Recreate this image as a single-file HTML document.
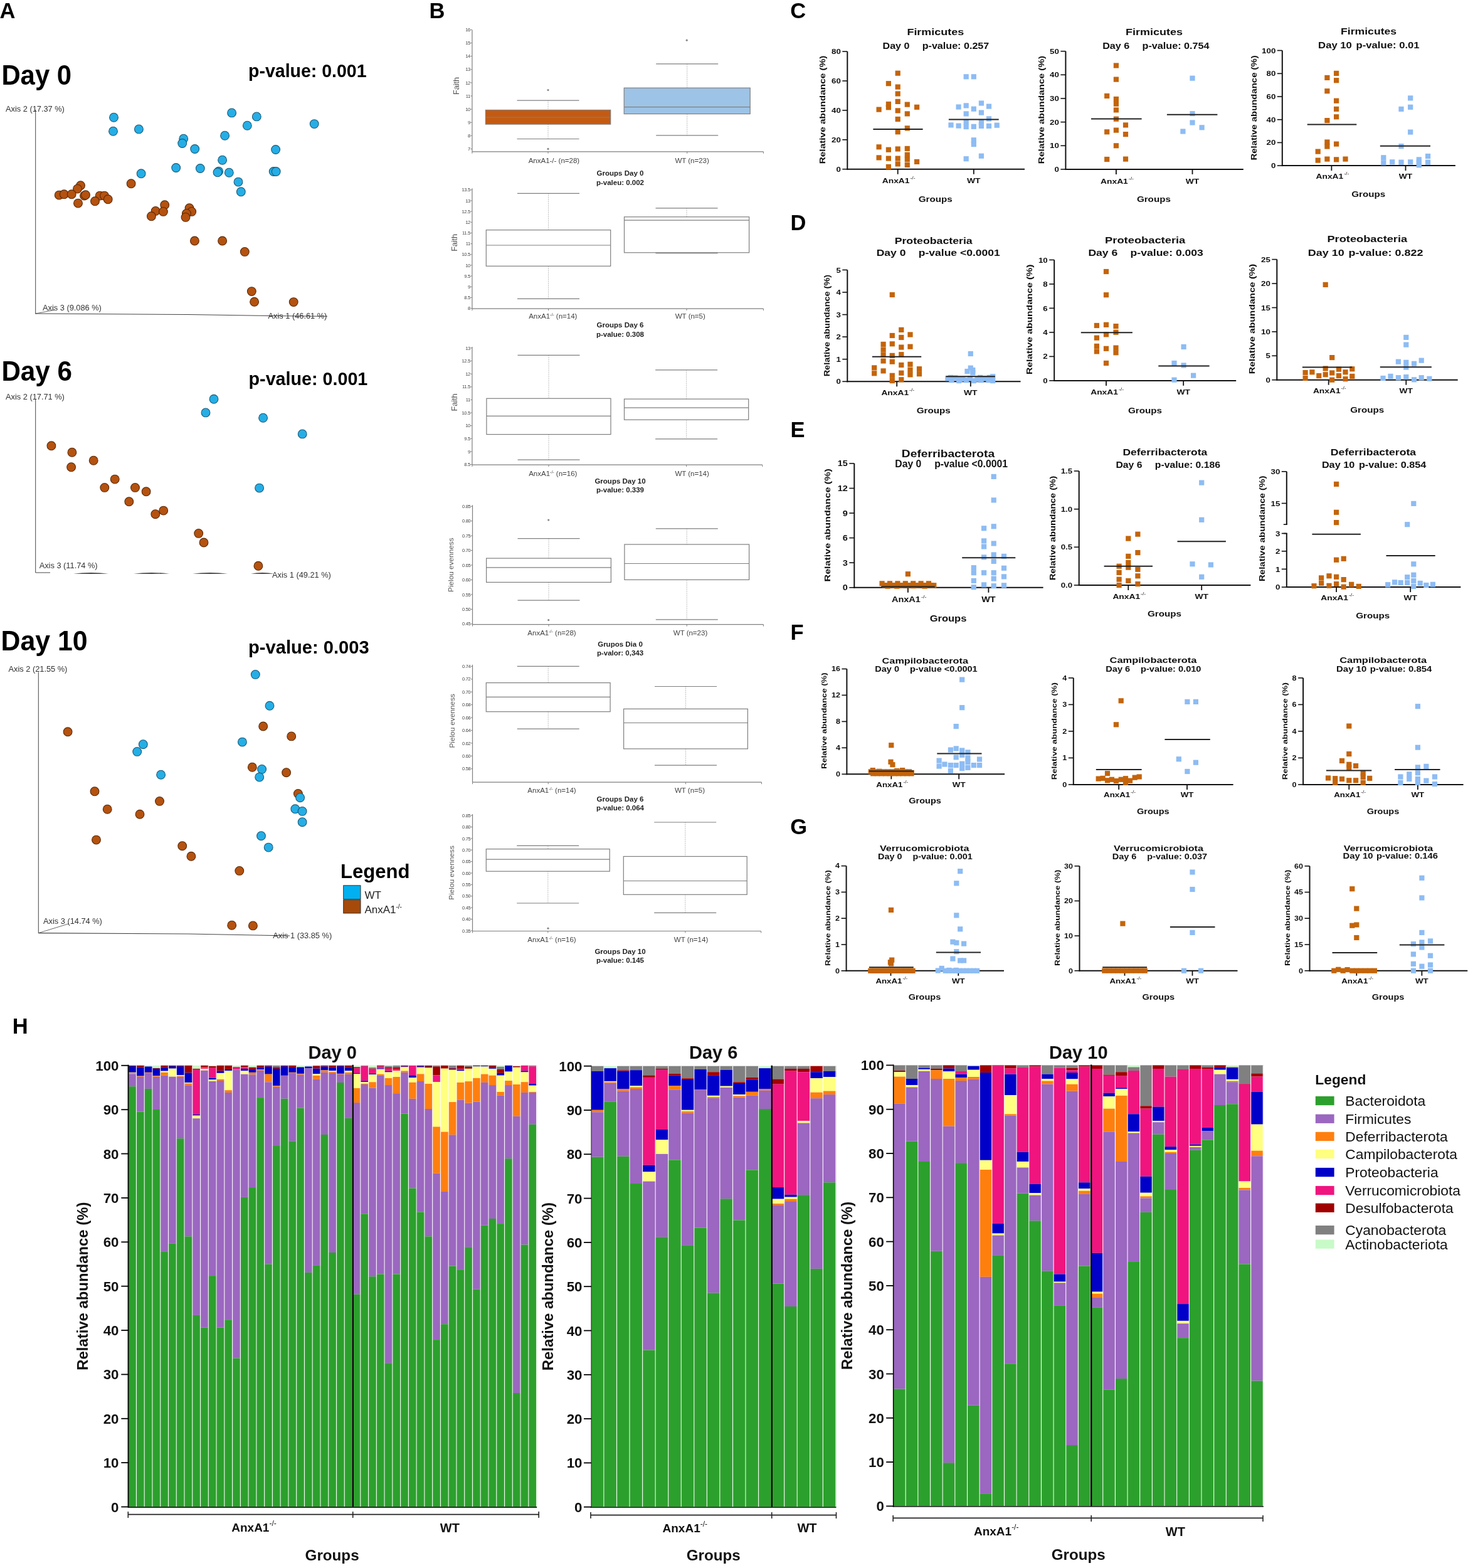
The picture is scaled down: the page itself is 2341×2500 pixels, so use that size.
<!DOCTYPE html>
<html><head><meta charset="utf-8"><title>Figure</title>
<style>html,body{margin:0;padding:0;background:#fff;} svg{display:block;}</style></head>
<body><svg width="2341" height="2500" viewBox="0 0 2341 2500" font-family="Liberation Sans, Arial, sans-serif">
<rect width="2341" height="2500" fill="#fff"/>
<text x="-0.5" y="28.7" font-size="34.5" text-anchor="start" font-weight="bold" fill="#000" >A</text>
<text x="684.6" y="28.7" font-size="34.5" text-anchor="start" font-weight="bold" fill="#000" >B</text>
<text x="1260.3" y="28.7" font-size="34.5" text-anchor="start" font-weight="bold" fill="#000" >C</text>
<text x="1260.6" y="366.7" font-size="34.5" text-anchor="start" font-weight="bold" fill="#000" >D</text>
<text x="1260.6" y="696.7" font-size="34.5" text-anchor="start" font-weight="bold" fill="#000" >E</text>
<text x="1260.6" y="1019.6" font-size="34.5" text-anchor="start" font-weight="bold" fill="#000" >F</text>
<text x="1260.3" y="1329.6" font-size="34.5" text-anchor="start" font-weight="bold" fill="#000" >G</text>
<text x="19.8" y="1647.7" font-size="34.5" text-anchor="start" font-weight="bold" fill="#000" >H</text>
<text x="2.4" y="134.5" font-size="44.0" text-anchor="start" font-weight="bold" fill="#000"  textLength="111.7" lengthAdjust="spacingAndGlyphs">Day 0</text>
<text x="396.0" y="122.6" font-size="28.8" text-anchor="start" font-weight="bold" fill="#000"  textLength="188.6" lengthAdjust="spacingAndGlyphs">p-value: 0.001</text>
<text x="9.0" y="178.0" font-size="12.8" text-anchor="start" fill="#333" >Axis 2 (17.37 %)</text>
<line x1="56.7" y1="175" x2="56.7" y2="500.5" stroke="#444" stroke-width="1"/>
<path d="M56.7 500 L300 501.5 L430 503.5 L522 504.3" stroke="#444" stroke-width="1.1" fill="none"/>
<line x1="56.7" y1="500" x2="88" y2="494" stroke="#444" stroke-width="0.8"/>
<text x="68.0" y="495.0" font-size="12.8" text-anchor="start" fill="#333" >Axis 3 (9.086 %)</text>
<text x="427.5" y="508.0" font-size="12.8" text-anchor="start" fill="#333" >Axis 1 (46.61 %)</text>
<circle cx="209.1" cy="292.8" r="6.9" fill="#b5520f" stroke="#5a2a08" stroke-width="1.1"/>
<circle cx="128.5" cy="295.8" r="6.9" fill="#b5520f" stroke="#5a2a08" stroke-width="1.1"/>
<circle cx="123.5" cy="301.1" r="6.9" fill="#b5520f" stroke="#5a2a08" stroke-width="1.1"/>
<circle cx="94.2" cy="311.1" r="6.9" fill="#b5520f" stroke="#5a2a08" stroke-width="1.1"/>
<circle cx="102.2" cy="309.8" r="6.9" fill="#b5520f" stroke="#5a2a08" stroke-width="1.1"/>
<circle cx="114.2" cy="309.8" r="6.9" fill="#b5520f" stroke="#5a2a08" stroke-width="1.1"/>
<circle cx="134.5" cy="312.1" r="6.9" fill="#b5520f" stroke="#5a2a08" stroke-width="1.1"/>
<circle cx="136.5" cy="310.8" r="6.9" fill="#b5520f" stroke="#5a2a08" stroke-width="1.1"/>
<circle cx="159.2" cy="312.1" r="6.9" fill="#b5520f" stroke="#5a2a08" stroke-width="1.1"/>
<circle cx="166.5" cy="312.1" r="6.9" fill="#b5520f" stroke="#5a2a08" stroke-width="1.1"/>
<circle cx="172.2" cy="317.8" r="6.9" fill="#b5520f" stroke="#5a2a08" stroke-width="1.1"/>
<circle cx="151.5" cy="320.8" r="6.9" fill="#b5520f" stroke="#5a2a08" stroke-width="1.1"/>
<circle cx="124.5" cy="324.1" r="6.9" fill="#b5520f" stroke="#5a2a08" stroke-width="1.1"/>
<circle cx="262.7" cy="326.8" r="6.9" fill="#b5520f" stroke="#5a2a08" stroke-width="1.1"/>
<circle cx="248.1" cy="336.4" r="6.9" fill="#b5520f" stroke="#5a2a08" stroke-width="1.1"/>
<circle cx="260.4" cy="337.4" r="6.9" fill="#b5520f" stroke="#5a2a08" stroke-width="1.1"/>
<circle cx="241.4" cy="344.8" r="6.9" fill="#b5520f" stroke="#5a2a08" stroke-width="1.1"/>
<circle cx="302.0" cy="331.8" r="6.9" fill="#b5520f" stroke="#5a2a08" stroke-width="1.1"/>
<circle cx="305.7" cy="337.4" r="6.9" fill="#b5520f" stroke="#5a2a08" stroke-width="1.1"/>
<circle cx="297.4" cy="340.4" r="6.9" fill="#b5520f" stroke="#5a2a08" stroke-width="1.1"/>
<circle cx="296.0" cy="346.4" r="6.9" fill="#b5520f" stroke="#5a2a08" stroke-width="1.1"/>
<circle cx="310.4" cy="384.0" r="6.9" fill="#b5520f" stroke="#5a2a08" stroke-width="1.1"/>
<circle cx="354.6" cy="384.0" r="6.9" fill="#b5520f" stroke="#5a2a08" stroke-width="1.1"/>
<circle cx="390.3" cy="401.4" r="6.9" fill="#b5520f" stroke="#5a2a08" stroke-width="1.1"/>
<circle cx="401.3" cy="464.6" r="6.9" fill="#b5520f" stroke="#5a2a08" stroke-width="1.1"/>
<circle cx="405.6" cy="481.3" r="6.9" fill="#b5520f" stroke="#5a2a08" stroke-width="1.1"/>
<circle cx="468.2" cy="481.6" r="6.9" fill="#b5520f" stroke="#5a2a08" stroke-width="1.1"/>
<circle cx="181.5" cy="187.2" r="6.9" fill="#25aee6" stroke="#1b5a78" stroke-width="1.1"/>
<circle cx="180.5" cy="209.2" r="6.9" fill="#25aee6" stroke="#1b5a78" stroke-width="1.1"/>
<circle cx="221.4" cy="205.9" r="6.9" fill="#25aee6" stroke="#1b5a78" stroke-width="1.1"/>
<circle cx="225.1" cy="276.8" r="6.9" fill="#25aee6" stroke="#1b5a78" stroke-width="1.1"/>
<circle cx="369.6" cy="179.9" r="6.9" fill="#25aee6" stroke="#1b5a78" stroke-width="1.1"/>
<circle cx="409.3" cy="185.9" r="6.9" fill="#25aee6" stroke="#1b5a78" stroke-width="1.1"/>
<circle cx="394.3" cy="200.2" r="6.9" fill="#25aee6" stroke="#1b5a78" stroke-width="1.1"/>
<circle cx="501.2" cy="197.6" r="6.9" fill="#25aee6" stroke="#1b5a78" stroke-width="1.1"/>
<circle cx="358.6" cy="216.2" r="6.9" fill="#25aee6" stroke="#1b5a78" stroke-width="1.1"/>
<circle cx="292.7" cy="221.2" r="6.9" fill="#25aee6" stroke="#1b5a78" stroke-width="1.1"/>
<circle cx="290.7" cy="228.5" r="6.9" fill="#25aee6" stroke="#1b5a78" stroke-width="1.1"/>
<circle cx="310.7" cy="237.5" r="6.9" fill="#25aee6" stroke="#1b5a78" stroke-width="1.1"/>
<circle cx="439.6" cy="238.5" r="6.9" fill="#25aee6" stroke="#1b5a78" stroke-width="1.1"/>
<circle cx="354.6" cy="255.2" r="6.9" fill="#25aee6" stroke="#1b5a78" stroke-width="1.1"/>
<circle cx="280.7" cy="267.5" r="6.9" fill="#25aee6" stroke="#1b5a78" stroke-width="1.1"/>
<circle cx="319.3" cy="268.5" r="6.9" fill="#25aee6" stroke="#1b5a78" stroke-width="1.1"/>
<circle cx="348.7" cy="273.2" r="6.9" fill="#25aee6" stroke="#1b5a78" stroke-width="1.1"/>
<circle cx="347.0" cy="274.8" r="6.9" fill="#25aee6" stroke="#1b5a78" stroke-width="1.1"/>
<circle cx="365.3" cy="275.2" r="6.9" fill="#25aee6" stroke="#1b5a78" stroke-width="1.1"/>
<circle cx="436.2" cy="273.5" r="6.9" fill="#25aee6" stroke="#1b5a78" stroke-width="1.1"/>
<circle cx="440.2" cy="273.5" r="6.9" fill="#25aee6" stroke="#1b5a78" stroke-width="1.1"/>
<circle cx="380.0" cy="290.1" r="6.9" fill="#25aee6" stroke="#1b5a78" stroke-width="1.1"/>
<circle cx="384.3" cy="305.8" r="6.9" fill="#25aee6" stroke="#1b5a78" stroke-width="1.1"/>
<text x="2.4" y="607.0" font-size="44.0" text-anchor="start" font-weight="bold" fill="#000"  textLength="112.6" lengthAdjust="spacingAndGlyphs">Day 6</text>
<text x="396.6" y="614.0" font-size="28.8" text-anchor="start" font-weight="bold" fill="#000"  textLength="189.7" lengthAdjust="spacingAndGlyphs">p-value: 0.001</text>
<text x="9.0" y="636.5" font-size="12.8" text-anchor="start" fill="#333" >Axis 2 (17.71 %)</text>
<line x1="56.7" y1="637" x2="56.7" y2="913" stroke="#444" stroke-width="1"/>
<line x1="56.7" y1="913" x2="80" y2="913" stroke="#444" stroke-width="1"/>
<path d="M117 914.5 Q145.0 911.5 173 914.5 Q145.0 915.5 117 914.5Z" fill="#444"/>
<path d="M213 914.5 Q241.5 911.5 270 914.5 Q241.5 915.5 213 914.5Z" fill="#444"/>
<path d="M307 914.5 Q335.0 911.5 363 914.5 Q335.0 915.5 307 914.5Z" fill="#444"/>
<path d="M400 914.5 Q418.5 911.5 437 914.5 Q418.5 915.5 400 914.5Z" fill="#444"/>
<text x="62.7" y="905.5" font-size="12.8" text-anchor="start" fill="#333" >Axis 3 (11.74 %)</text>
<text x="434.0" y="921.0" font-size="12.8" text-anchor="start" fill="#333" >Axis 1 (49.21 %)</text>
<circle cx="81.9" cy="710.8" r="6.9" fill="#b5520f" stroke="#5a2a08" stroke-width="1.1"/>
<circle cx="114.9" cy="721.2" r="6.9" fill="#b5520f" stroke="#5a2a08" stroke-width="1.1"/>
<circle cx="113.6" cy="744.8" r="6.9" fill="#b5520f" stroke="#5a2a08" stroke-width="1.1"/>
<circle cx="149.2" cy="734.2" r="6.9" fill="#b5520f" stroke="#5a2a08" stroke-width="1.1"/>
<circle cx="183.2" cy="764.1" r="6.9" fill="#b5520f" stroke="#5a2a08" stroke-width="1.1"/>
<circle cx="166.8" cy="777.4" r="6.9" fill="#b5520f" stroke="#5a2a08" stroke-width="1.1"/>
<circle cx="215.5" cy="777.4" r="6.9" fill="#b5520f" stroke="#5a2a08" stroke-width="1.1"/>
<circle cx="233.1" cy="783.8" r="6.9" fill="#b5520f" stroke="#5a2a08" stroke-width="1.1"/>
<circle cx="205.8" cy="799.8" r="6.9" fill="#b5520f" stroke="#5a2a08" stroke-width="1.1"/>
<circle cx="260.7" cy="814.1" r="6.9" fill="#b5520f" stroke="#5a2a08" stroke-width="1.1"/>
<circle cx="247.8" cy="819.7" r="6.9" fill="#b5520f" stroke="#5a2a08" stroke-width="1.1"/>
<circle cx="316.7" cy="850.4" r="6.9" fill="#b5520f" stroke="#5a2a08" stroke-width="1.1"/>
<circle cx="325.0" cy="865.0" r="6.9" fill="#b5520f" stroke="#5a2a08" stroke-width="1.1"/>
<circle cx="411.9" cy="902.3" r="6.9" fill="#b5520f" stroke="#5a2a08" stroke-width="1.1"/>
<circle cx="341.0" cy="636.3" r="6.9" fill="#25aee6" stroke="#1b5a78" stroke-width="1.1"/>
<circle cx="328.0" cy="657.9" r="6.9" fill="#25aee6" stroke="#1b5a78" stroke-width="1.1"/>
<circle cx="419.6" cy="666.2" r="6.9" fill="#25aee6" stroke="#1b5a78" stroke-width="1.1"/>
<circle cx="482.2" cy="691.9" r="6.9" fill="#25aee6" stroke="#1b5a78" stroke-width="1.1"/>
<circle cx="413.6" cy="778.1" r="6.9" fill="#25aee6" stroke="#1b5a78" stroke-width="1.1"/>
<text x="1.6" y="1037.0" font-size="44.0" text-anchor="start" font-weight="bold" fill="#000"  textLength="138.1" lengthAdjust="spacingAndGlyphs">Day 10</text>
<text x="396.1" y="1042.0" font-size="28.8" text-anchor="start" font-weight="bold" fill="#000"  textLength="192.5" lengthAdjust="spacingAndGlyphs">p-value: 0.003</text>
<text x="13.5" y="1071.0" font-size="12.8" text-anchor="start" fill="#333" >Axis 2 (21.55 %)</text>
<line x1="61.3" y1="1071.5" x2="61.3" y2="1487.6" stroke="#444" stroke-width="1"/>
<path d="M61.3 1487.6 L300 1489 L462 1492" stroke="#444" stroke-width="1.1" fill="none"/>
<line x1="61.3" y1="1487.6" x2="110" y2="1472.7" stroke="#444" stroke-width="0.8"/>
<text x="69.0" y="1473.0" font-size="12.8" text-anchor="start" fill="#333" >Axis 3 (14.74 %)</text>
<text x="435.3" y="1496.0" font-size="12.8" text-anchor="start" fill="#333" >Axis 1 (33.85 %)</text>
<circle cx="419.7" cy="1158.0" r="6.9" fill="#b5520f" stroke="#5a2a08" stroke-width="1.1"/>
<circle cx="464.7" cy="1173.9" r="6.9" fill="#b5520f" stroke="#5a2a08" stroke-width="1.1"/>
<circle cx="108.1" cy="1166.8" r="6.9" fill="#b5520f" stroke="#5a2a08" stroke-width="1.1"/>
<circle cx="402.3" cy="1223.2" r="6.9" fill="#b5520f" stroke="#5a2a08" stroke-width="1.1"/>
<circle cx="456.6" cy="1231.7" r="6.9" fill="#b5520f" stroke="#5a2a08" stroke-width="1.1"/>
<circle cx="475.4" cy="1265.4" r="6.9" fill="#b5520f" stroke="#5a2a08" stroke-width="1.1"/>
<circle cx="151.0" cy="1261.8" r="6.9" fill="#b5520f" stroke="#5a2a08" stroke-width="1.1"/>
<circle cx="254.5" cy="1277.4" r="6.9" fill="#b5520f" stroke="#5a2a08" stroke-width="1.1"/>
<circle cx="171.2" cy="1290.2" r="6.9" fill="#b5520f" stroke="#5a2a08" stroke-width="1.1"/>
<circle cx="223.0" cy="1298.3" r="6.9" fill="#b5520f" stroke="#5a2a08" stroke-width="1.1"/>
<circle cx="153.5" cy="1339.1" r="6.9" fill="#b5520f" stroke="#5a2a08" stroke-width="1.1"/>
<circle cx="290.7" cy="1348.7" r="6.9" fill="#b5520f" stroke="#5a2a08" stroke-width="1.1"/>
<circle cx="304.9" cy="1365.3" r="6.9" fill="#b5520f" stroke="#5a2a08" stroke-width="1.1"/>
<circle cx="381.8" cy="1388.4" r="6.9" fill="#b5520f" stroke="#5a2a08" stroke-width="1.1"/>
<circle cx="369.7" cy="1475.2" r="6.9" fill="#b5520f" stroke="#5a2a08" stroke-width="1.1"/>
<circle cx="403.4" cy="1475.9" r="6.9" fill="#b5520f" stroke="#5a2a08" stroke-width="1.1"/>
<circle cx="407.3" cy="1075.4" r="6.9" fill="#25aee6" stroke="#1b5a78" stroke-width="1.1"/>
<circle cx="430.0" cy="1125.3" r="6.9" fill="#25aee6" stroke="#1b5a78" stroke-width="1.1"/>
<circle cx="386.4" cy="1183.1" r="6.9" fill="#25aee6" stroke="#1b5a78" stroke-width="1.1"/>
<circle cx="228.3" cy="1186.7" r="6.9" fill="#25aee6" stroke="#1b5a78" stroke-width="1.1"/>
<circle cx="218.7" cy="1198.4" r="6.9" fill="#25aee6" stroke="#1b5a78" stroke-width="1.1"/>
<circle cx="256.6" cy="1235.2" r="6.9" fill="#25aee6" stroke="#1b5a78" stroke-width="1.1"/>
<circle cx="417.6" cy="1226.4" r="6.9" fill="#25aee6" stroke="#1b5a78" stroke-width="1.1"/>
<circle cx="413.7" cy="1239.1" r="6.9" fill="#25aee6" stroke="#1b5a78" stroke-width="1.1"/>
<circle cx="478.6" cy="1271.7" r="6.9" fill="#25aee6" stroke="#1b5a78" stroke-width="1.1"/>
<circle cx="470.8" cy="1289.8" r="6.9" fill="#25aee6" stroke="#1b5a78" stroke-width="1.1"/>
<circle cx="482.1" cy="1293.4" r="6.9" fill="#25aee6" stroke="#1b5a78" stroke-width="1.1"/>
<circle cx="482.1" cy="1310.7" r="6.9" fill="#25aee6" stroke="#1b5a78" stroke-width="1.1"/>
<circle cx="416.5" cy="1332.7" r="6.9" fill="#25aee6" stroke="#1b5a78" stroke-width="1.1"/>
<circle cx="428.2" cy="1351.1" r="6.9" fill="#25aee6" stroke="#1b5a78" stroke-width="1.1"/>
<text x="542.9" y="1400.0" font-size="31.0" text-anchor="start" font-weight="bold" fill="#000"  textLength="110.6" lengthAdjust="spacingAndGlyphs">Legend</text>
<rect x="547.7" y="1411.8" width="27.3" height="21.9" fill="#00b0f0" stroke="#333" stroke-width="1"/>
<rect x="547.7" y="1434.8" width="27.3" height="21.2" fill="#a64a0a" stroke="#333" stroke-width="1"/>
<text x="581.4" y="1432.5" font-size="17.0" text-anchor="start" fill="#222" >WT</text>
<text x="581.4" y="1455.5" font-size="17.0" text-anchor="start" fill="#222" >AnxA1<tspan font-size="10" dy="-7">-/-</tspan></text>
<line x1="752.9" y1="47.8" x2="752.9" y2="241.8" stroke="#7f7f7f" stroke-width="1.2"/>
<line x1="752.9" y1="241.8" x2="1217.4" y2="241.8" stroke="#7f7f7f" stroke-width="1.2"/>
<line x1="750.4" y1="47.4" x2="752.9" y2="47.4" stroke="#7f7f7f" stroke-width="1"/>
<text x="749.9" y="50.0" font-size="7.5" text-anchor="end" fill="#444" letter-spacing="-0.3">16</text>
<line x1="750.4" y1="68.5" x2="752.9" y2="68.5" stroke="#7f7f7f" stroke-width="1"/>
<text x="749.9" y="71.1" font-size="7.5" text-anchor="end" fill="#444" letter-spacing="-0.3">15</text>
<line x1="750.4" y1="89.6" x2="752.9" y2="89.6" stroke="#7f7f7f" stroke-width="1"/>
<text x="749.9" y="92.2" font-size="7.5" text-anchor="end" fill="#444" letter-spacing="-0.3">14</text>
<line x1="750.4" y1="110.8" x2="752.9" y2="110.8" stroke="#7f7f7f" stroke-width="1"/>
<text x="749.9" y="113.4" font-size="7.5" text-anchor="end" fill="#444" letter-spacing="-0.3">13</text>
<line x1="750.4" y1="131.9" x2="752.9" y2="131.9" stroke="#7f7f7f" stroke-width="1"/>
<text x="749.9" y="134.5" font-size="7.5" text-anchor="end" fill="#444" letter-spacing="-0.3">12</text>
<line x1="750.4" y1="153.0" x2="752.9" y2="153.0" stroke="#7f7f7f" stroke-width="1"/>
<text x="749.9" y="155.6" font-size="7.5" text-anchor="end" fill="#444" letter-spacing="-0.3">11</text>
<line x1="750.4" y1="174.1" x2="752.9" y2="174.1" stroke="#7f7f7f" stroke-width="1"/>
<text x="749.9" y="176.7" font-size="7.5" text-anchor="end" fill="#444" letter-spacing="-0.3">10</text>
<line x1="750.4" y1="195.2" x2="752.9" y2="195.2" stroke="#7f7f7f" stroke-width="1"/>
<text x="749.9" y="197.8" font-size="7.5" text-anchor="end" fill="#444" letter-spacing="-0.3">9</text>
<line x1="750.4" y1="216.3" x2="752.9" y2="216.3" stroke="#7f7f7f" stroke-width="1"/>
<text x="749.9" y="218.9" font-size="7.5" text-anchor="end" fill="#444" letter-spacing="-0.3">8</text>
<line x1="750.4" y1="237.4" x2="752.9" y2="237.4" stroke="#7f7f7f" stroke-width="1"/>
<text x="749.9" y="240.0" font-size="7.5" text-anchor="end" fill="#444" letter-spacing="-0.3">7</text>
<line x1="874.0" y1="241.8" x2="874.0" y2="244.8" stroke="#7f7f7f" stroke-width="1"/>
<line x1="1095.7" y1="241.8" x2="1095.7" y2="244.8" stroke="#7f7f7f" stroke-width="1"/>
<line x1="752.9" y1="241.8" x2="752.9" y2="244.8" stroke="#7f7f7f" stroke-width="1"/>
<line x1="1217.4" y1="241.8" x2="1217.4" y2="244.8" stroke="#7f7f7f" stroke-width="1"/>
<text x="727.6" y="137" font-size="12.5" fill="#555" text-anchor="middle" transform="rotate(-90 727.6 137)" dy="4.4">Faith</text>
<line x1="874.0" y1="160.1" x2="874.0" y2="175.4" stroke="#999" stroke-width="0.8" stroke-dasharray="1.5,1.5"/>
<line x1="874.0" y1="198.1" x2="874.0" y2="221.5" stroke="#999" stroke-width="0.8" stroke-dasharray="1.5,1.5"/>
<line x1="824.5" y1="160.1" x2="923.5" y2="160.1" stroke="#7f7f7f" stroke-width="1.2"/>
<line x1="824.5" y1="221.5" x2="923.5" y2="221.5" stroke="#7f7f7f" stroke-width="1.2"/>
<rect x="774.4" y="175.4" width="199.3" height="22.7" fill="#c55a11" stroke="#7f7f7f" stroke-width="1.2"/>
<line x1="774.4" y1="187.2" x2="973.7" y2="187.2" stroke="#7f7f7f" stroke-width="1.2"/>
<line x1="1095.7" y1="101.9" x2="1095.7" y2="140.2" stroke="#999" stroke-width="0.8" stroke-dasharray="1.5,1.5"/>
<line x1="1095.7" y1="181.6" x2="1095.7" y2="215.9" stroke="#999" stroke-width="0.8" stroke-dasharray="1.5,1.5"/>
<line x1="1046.2" y1="101.9" x2="1145.2" y2="101.9" stroke="#7f7f7f" stroke-width="1.2"/>
<line x1="1046.2" y1="215.9" x2="1145.2" y2="215.9" stroke="#7f7f7f" stroke-width="1.2"/>
<rect x="995.2" y="140.2" width="201.0" height="41.4" fill="#9dc3e6" stroke="#7f7f7f" stroke-width="1.2"/>
<line x1="995.2" y1="170.7" x2="1196.2" y2="170.7" stroke="#7f7f7f" stroke-width="1.2"/>
<circle cx="874" cy="143.6" r="1.6" fill="#888"/>
<circle cx="874" cy="237.4" r="1.6" fill="#888"/>
<circle cx="1095.2" cy="64.2" r="1.6" fill="#888"/>
<text x="883.4" y="260.0" font-size="11.5" text-anchor="middle" fill="#444" >AnxA1-/-  (n=28)</text>
<text x="1103.6" y="260.0" font-size="11.5" text-anchor="middle" fill="#444" >WT (n=23)</text>
<text x="989.0" y="280.3" font-size="11.5" text-anchor="middle" font-weight="bold" fill="#222" >Groups Day 0</text>
<text x="989.0" y="294.6" font-size="11.5" text-anchor="middle" font-weight="bold" fill="#222" >p-valeu: 0.002</text>
<line x1="752.9" y1="300.2" x2="752.9" y2="492.2" stroke="#7f7f7f" stroke-width="1.2"/>
<line x1="752.9" y1="492.2" x2="1217.4" y2="492.2" stroke="#7f7f7f" stroke-width="1.2"/>
<line x1="750.4" y1="302.8" x2="752.9" y2="302.8" stroke="#7f7f7f" stroke-width="1"/>
<text x="749.9" y="305.4" font-size="7.5" text-anchor="end" fill="#444" letter-spacing="-0.3">13.5</text>
<line x1="750.4" y1="320.0" x2="752.9" y2="320.0" stroke="#7f7f7f" stroke-width="1"/>
<text x="749.9" y="322.6" font-size="7.5" text-anchor="end" fill="#444" letter-spacing="-0.3">13</text>
<line x1="750.4" y1="337.1" x2="752.9" y2="337.1" stroke="#7f7f7f" stroke-width="1"/>
<text x="749.9" y="339.7" font-size="7.5" text-anchor="end" fill="#444" letter-spacing="-0.3">12.5</text>
<line x1="750.4" y1="354.3" x2="752.9" y2="354.3" stroke="#7f7f7f" stroke-width="1"/>
<text x="749.9" y="356.9" font-size="7.5" text-anchor="end" fill="#444" letter-spacing="-0.3">12</text>
<line x1="750.4" y1="371.5" x2="752.9" y2="371.5" stroke="#7f7f7f" stroke-width="1"/>
<text x="749.9" y="374.1" font-size="7.5" text-anchor="end" fill="#444" letter-spacing="-0.3">11.5</text>
<line x1="750.4" y1="388.6" x2="752.9" y2="388.6" stroke="#7f7f7f" stroke-width="1"/>
<text x="749.9" y="391.2" font-size="7.5" text-anchor="end" fill="#444" letter-spacing="-0.3">11</text>
<line x1="750.4" y1="405.8" x2="752.9" y2="405.8" stroke="#7f7f7f" stroke-width="1"/>
<text x="749.9" y="408.4" font-size="7.5" text-anchor="end" fill="#444" letter-spacing="-0.3">10.5</text>
<line x1="750.4" y1="422.9" x2="752.9" y2="422.9" stroke="#7f7f7f" stroke-width="1"/>
<text x="749.9" y="425.5" font-size="7.5" text-anchor="end" fill="#444" letter-spacing="-0.3">10</text>
<line x1="750.4" y1="440.1" x2="752.9" y2="440.1" stroke="#7f7f7f" stroke-width="1"/>
<text x="749.9" y="442.7" font-size="7.5" text-anchor="end" fill="#444" letter-spacing="-0.3">9.5</text>
<line x1="750.4" y1="457.3" x2="752.9" y2="457.3" stroke="#7f7f7f" stroke-width="1"/>
<text x="749.9" y="459.9" font-size="7.5" text-anchor="end" fill="#444" letter-spacing="-0.3">9</text>
<line x1="750.4" y1="474.4" x2="752.9" y2="474.4" stroke="#7f7f7f" stroke-width="1"/>
<text x="749.9" y="477.0" font-size="7.5" text-anchor="end" fill="#444" letter-spacing="-0.3">8.5</text>
<line x1="750.4" y1="491.6" x2="752.9" y2="491.6" stroke="#7f7f7f" stroke-width="1"/>
<text x="749.9" y="494.2" font-size="7.5" text-anchor="end" fill="#444" letter-spacing="-0.3">8</text>
<line x1="874.5" y1="492.2" x2="874.5" y2="495.2" stroke="#7f7f7f" stroke-width="1"/>
<line x1="1095.0" y1="492.2" x2="1095.0" y2="495.2" stroke="#7f7f7f" stroke-width="1"/>
<line x1="752.9" y1="492.2" x2="752.9" y2="495.2" stroke="#7f7f7f" stroke-width="1"/>
<line x1="1217.4" y1="492.2" x2="1217.4" y2="495.2" stroke="#7f7f7f" stroke-width="1"/>
<text x="724.5" y="386.9" font-size="12.5" fill="#555" text-anchor="middle" transform="rotate(-90 724.5 386.9)" dy="4.4">Faith</text>
<line x1="874.5" y1="308.4" x2="874.5" y2="366.7" stroke="#999" stroke-width="0.8" stroke-dasharray="1.5,1.5"/>
<line x1="874.5" y1="424.3" x2="874.5" y2="476.3" stroke="#999" stroke-width="0.8" stroke-dasharray="1.5,1.5"/>
<line x1="825.0" y1="308.4" x2="924.0" y2="308.4" stroke="#7f7f7f" stroke-width="1.2"/>
<line x1="825.0" y1="476.3" x2="924.0" y2="476.3" stroke="#7f7f7f" stroke-width="1.2"/>
<rect x="775.3" y="366.7" width="198.4" height="57.6" fill="#fff" stroke="#7f7f7f" stroke-width="1.2"/>
<line x1="775.3" y1="391.0" x2="973.7" y2="391.0" stroke="#7f7f7f" stroke-width="1.2"/>
<line x1="1095.0" y1="331.8" x2="1095.0" y2="345.8" stroke="#999" stroke-width="0.8" stroke-dasharray="1.5,1.5"/>
<line x1="1095.0" y1="402.8" x2="1095.0" y2="403.7" stroke="#999" stroke-width="0.8" stroke-dasharray="1.5,1.5"/>
<line x1="1045.5" y1="331.8" x2="1144.5" y2="331.8" stroke="#7f7f7f" stroke-width="1.2"/>
<line x1="1045.5" y1="403.7" x2="1144.5" y2="403.7" stroke="#7f7f7f" stroke-width="1.2"/>
<rect x="995.5" y="345.8" width="199.1" height="57.0" fill="#fff" stroke="#7f7f7f" stroke-width="1.2"/>
<line x1="995.5" y1="351.1" x2="1194.6" y2="351.1" stroke="#7f7f7f" stroke-width="1.2"/>
<text x="881.8" y="508.0" font-size="11.5" text-anchor="middle" fill="#444" >AnxA1<tspan font-size="7" dy="-4">-/-</tspan><tspan dy="4"> </tspan>(n=14)</text>
<text x="1100.8" y="508.0" font-size="11.5" text-anchor="middle" fill="#444" >WT (n=5)</text>
<text x="989.0" y="522.3" font-size="11.5" text-anchor="middle" font-weight="bold" fill="#222" >Groups Day 6</text>
<text x="989.0" y="536.7" font-size="11.5" text-anchor="middle" font-weight="bold" fill="#222" >p-value: 0.308</text>
<line x1="752.9" y1="552.9" x2="752.9" y2="741.2" stroke="#7f7f7f" stroke-width="1.2"/>
<line x1="752.9" y1="741.2" x2="1215.8" y2="741.2" stroke="#7f7f7f" stroke-width="1.2"/>
<line x1="750.4" y1="554.9" x2="752.9" y2="554.9" stroke="#7f7f7f" stroke-width="1"/>
<text x="749.9" y="557.5" font-size="7.5" text-anchor="end" fill="#444" letter-spacing="-0.3">13</text>
<line x1="750.4" y1="575.5" x2="752.9" y2="575.5" stroke="#7f7f7f" stroke-width="1"/>
<text x="749.9" y="578.1" font-size="7.5" text-anchor="end" fill="#444" letter-spacing="-0.3">12.5</text>
<line x1="750.4" y1="596.2" x2="752.9" y2="596.2" stroke="#7f7f7f" stroke-width="1"/>
<text x="749.9" y="598.8" font-size="7.5" text-anchor="end" fill="#444" letter-spacing="-0.3">12</text>
<line x1="750.4" y1="616.8" x2="752.9" y2="616.8" stroke="#7f7f7f" stroke-width="1"/>
<text x="749.9" y="619.4" font-size="7.5" text-anchor="end" fill="#444" letter-spacing="-0.3">11.5</text>
<line x1="750.4" y1="637.4" x2="752.9" y2="637.4" stroke="#7f7f7f" stroke-width="1"/>
<text x="749.9" y="640.0" font-size="7.5" text-anchor="end" fill="#444" letter-spacing="-0.3">11</text>
<line x1="750.4" y1="658.1" x2="752.9" y2="658.1" stroke="#7f7f7f" stroke-width="1"/>
<text x="749.9" y="660.7" font-size="7.5" text-anchor="end" fill="#444" letter-spacing="-0.3">10.5</text>
<line x1="750.4" y1="678.7" x2="752.9" y2="678.7" stroke="#7f7f7f" stroke-width="1"/>
<text x="749.9" y="681.3" font-size="7.5" text-anchor="end" fill="#444" letter-spacing="-0.3">10</text>
<line x1="750.4" y1="699.3" x2="752.9" y2="699.3" stroke="#7f7f7f" stroke-width="1"/>
<text x="749.9" y="701.9" font-size="7.5" text-anchor="end" fill="#444" letter-spacing="-0.3">9.5</text>
<line x1="750.4" y1="720.0" x2="752.9" y2="720.0" stroke="#7f7f7f" stroke-width="1"/>
<text x="749.9" y="722.6" font-size="7.5" text-anchor="end" fill="#444" letter-spacing="-0.3">9</text>
<line x1="750.4" y1="740.6" x2="752.9" y2="740.6" stroke="#7f7f7f" stroke-width="1"/>
<text x="749.9" y="743.2" font-size="7.5" text-anchor="end" fill="#444" letter-spacing="-0.3">8.5</text>
<line x1="875.0" y1="741.2" x2="875.0" y2="744.2" stroke="#7f7f7f" stroke-width="1"/>
<line x1="1094.6" y1="741.2" x2="1094.6" y2="744.2" stroke="#7f7f7f" stroke-width="1"/>
<line x1="752.9" y1="741.2" x2="752.9" y2="744.2" stroke="#7f7f7f" stroke-width="1"/>
<line x1="1215.8" y1="741.2" x2="1215.8" y2="744.2" stroke="#7f7f7f" stroke-width="1"/>
<text x="724.5" y="641.5" font-size="12.5" fill="#555" text-anchor="middle" transform="rotate(-90 724.5 641.5)" dy="4.4">Faith</text>
<line x1="875.0" y1="566.4" x2="875.0" y2="635.3" stroke="#999" stroke-width="0.8" stroke-dasharray="1.5,1.5"/>
<line x1="875.0" y1="692.6" x2="875.0" y2="733.1" stroke="#999" stroke-width="0.8" stroke-dasharray="1.5,1.5"/>
<line x1="825.5" y1="566.4" x2="924.5" y2="566.4" stroke="#7f7f7f" stroke-width="1.2"/>
<line x1="825.5" y1="733.1" x2="924.5" y2="733.1" stroke="#7f7f7f" stroke-width="1.2"/>
<rect x="775.9" y="635.3" width="198.1" height="57.3" fill="#fff" stroke="#7f7f7f" stroke-width="1.2"/>
<line x1="775.9" y1="663.3" x2="974.0" y2="663.3" stroke="#7f7f7f" stroke-width="1.2"/>
<line x1="1094.6" y1="589.8" x2="1094.6" y2="636.2" stroke="#999" stroke-width="0.8" stroke-dasharray="1.5,1.5"/>
<line x1="1094.6" y1="669.3" x2="1094.6" y2="699.8" stroke="#999" stroke-width="0.8" stroke-dasharray="1.5,1.5"/>
<line x1="1045.1" y1="589.8" x2="1144.1" y2="589.8" stroke="#7f7f7f" stroke-width="1.2"/>
<line x1="1045.1" y1="699.8" x2="1144.1" y2="699.8" stroke="#7f7f7f" stroke-width="1.2"/>
<rect x="995.5" y="636.2" width="198.2" height="33.1" fill="#fff" stroke="#7f7f7f" stroke-width="1.2"/>
<line x1="995.5" y1="650.2" x2="1193.7" y2="650.2" stroke="#7f7f7f" stroke-width="1.2"/>
<text x="881.8" y="758.9" font-size="11.5" text-anchor="middle" fill="#444" >AnxA1<tspan font-size="7" dy="-4">-/-</tspan><tspan dy="4"> </tspan>(n=16)</text>
<text x="1103.6" y="758.9" font-size="11.5" text-anchor="middle" fill="#444" >WT (n=14)</text>
<text x="989.0" y="771.1" font-size="11.5" text-anchor="middle" font-weight="bold" fill="#222" >Groups Day 10</text>
<text x="989.0" y="785.1" font-size="11.5" text-anchor="middle" font-weight="bold" fill="#222" >p-value: 0.339</text>
<line x1="753.5" y1="805.3" x2="753.5" y2="995.7" stroke="#7f7f7f" stroke-width="1.2"/>
<line x1="753.5" y1="995.7" x2="1217.4" y2="995.7" stroke="#7f7f7f" stroke-width="1.2"/>
<line x1="751.0" y1="807.3" x2="753.5" y2="807.3" stroke="#7f7f7f" stroke-width="1"/>
<text x="750.5" y="809.9" font-size="7.5" text-anchor="end" fill="#444" letter-spacing="-0.3">0.85</text>
<line x1="751.0" y1="830.7" x2="753.5" y2="830.7" stroke="#7f7f7f" stroke-width="1"/>
<text x="750.5" y="833.3" font-size="7.5" text-anchor="end" fill="#444" letter-spacing="-0.3">0.80</text>
<line x1="751.0" y1="854.2" x2="753.5" y2="854.2" stroke="#7f7f7f" stroke-width="1"/>
<text x="750.5" y="856.8" font-size="7.5" text-anchor="end" fill="#444" letter-spacing="-0.3">0.75</text>
<line x1="751.0" y1="877.6" x2="753.5" y2="877.6" stroke="#7f7f7f" stroke-width="1"/>
<text x="750.5" y="880.2" font-size="7.5" text-anchor="end" fill="#444" letter-spacing="-0.3">0.70</text>
<line x1="751.0" y1="901.0" x2="753.5" y2="901.0" stroke="#7f7f7f" stroke-width="1"/>
<text x="750.5" y="903.6" font-size="7.5" text-anchor="end" fill="#444" letter-spacing="-0.3">0.65</text>
<line x1="751.0" y1="924.5" x2="753.5" y2="924.5" stroke="#7f7f7f" stroke-width="1"/>
<text x="750.5" y="927.1" font-size="7.5" text-anchor="end" fill="#444" letter-spacing="-0.3">0.60</text>
<line x1="751.0" y1="947.9" x2="753.5" y2="947.9" stroke="#7f7f7f" stroke-width="1"/>
<text x="750.5" y="950.5" font-size="7.5" text-anchor="end" fill="#444" letter-spacing="-0.3">0.55</text>
<line x1="751.0" y1="971.4" x2="753.5" y2="971.4" stroke="#7f7f7f" stroke-width="1"/>
<text x="750.5" y="974.0" font-size="7.5" text-anchor="end" fill="#444" letter-spacing="-0.3">0.50</text>
<line x1="751.0" y1="994.8" x2="753.5" y2="994.8" stroke="#7f7f7f" stroke-width="1"/>
<text x="750.5" y="997.4" font-size="7.5" text-anchor="end" fill="#444" letter-spacing="-0.3">0.45</text>
<line x1="875.0" y1="995.7" x2="875.0" y2="998.7" stroke="#7f7f7f" stroke-width="1"/>
<line x1="1095.2" y1="995.7" x2="1095.2" y2="998.7" stroke="#7f7f7f" stroke-width="1"/>
<line x1="753.5" y1="995.7" x2="753.5" y2="998.7" stroke="#7f7f7f" stroke-width="1"/>
<line x1="1217.4" y1="995.7" x2="1217.4" y2="998.7" stroke="#7f7f7f" stroke-width="1"/>
<text x="718.9" y="900.7" font-size="11.8" fill="#555" text-anchor="middle" transform="rotate(-90 718.9 900.7)" dy="4.4">Pielou evenness</text>
<line x1="875.0" y1="858.7" x2="875.0" y2="890.1" stroke="#999" stroke-width="0.8" stroke-dasharray="1.5,1.5"/>
<line x1="875.0" y1="928.4" x2="875.0" y2="957.1" stroke="#999" stroke-width="0.8" stroke-dasharray="1.5,1.5"/>
<line x1="825.5" y1="858.7" x2="924.5" y2="858.7" stroke="#7f7f7f" stroke-width="1.2"/>
<line x1="825.5" y1="957.1" x2="924.5" y2="957.1" stroke="#7f7f7f" stroke-width="1.2"/>
<rect x="775.6" y="890.1" width="198.8" height="38.3" fill="#fff" stroke="#7f7f7f" stroke-width="1.2"/>
<line x1="775.6" y1="904.8" x2="974.4" y2="904.8" stroke="#7f7f7f" stroke-width="1.2"/>
<line x1="1095.2" y1="842.8" x2="1095.2" y2="868.0" stroke="#999" stroke-width="0.8" stroke-dasharray="1.5,1.5"/>
<line x1="1095.2" y1="924.4" x2="1095.2" y2="987.9" stroke="#999" stroke-width="0.8" stroke-dasharray="1.5,1.5"/>
<line x1="1045.8" y1="842.8" x2="1144.8" y2="842.8" stroke="#7f7f7f" stroke-width="1.2"/>
<line x1="1045.8" y1="987.9" x2="1144.8" y2="987.9" stroke="#7f7f7f" stroke-width="1.2"/>
<rect x="995.9" y="868.0" width="198.7" height="56.4" fill="#fff" stroke="#7f7f7f" stroke-width="1.2"/>
<line x1="995.9" y1="898.5" x2="1194.6" y2="898.5" stroke="#7f7f7f" stroke-width="1.2"/>
<circle cx="874.7" cy="829.1" r="1.6" fill="#888"/>
<circle cx="874.7" cy="988.6" r="1.6" fill="#888"/>
<text x="880.0" y="1013.1" font-size="11.5" text-anchor="middle" fill="#444" >AnxA1<tspan font-size="7" dy="-4">-/-</tspan><tspan dy="4"> </tspan>(n=28)</text>
<text x="1101.0" y="1013.1" font-size="11.5" text-anchor="middle" fill="#444" >WT (n=23)</text>
<text x="989.0" y="1031.2" font-size="11.5" text-anchor="middle" font-weight="bold" fill="#222" >Grupos Dia 0</text>
<text x="989.0" y="1044.6" font-size="11.5" text-anchor="middle" font-weight="bold" fill="#222" >p-valor: 0,343</text>
<line x1="753.5" y1="1059.8" x2="753.5" y2="1247.2" stroke="#7f7f7f" stroke-width="1.2"/>
<line x1="753.5" y1="1247.2" x2="1214.5" y2="1247.2" stroke="#7f7f7f" stroke-width="1.2"/>
<line x1="751.0" y1="1062.4" x2="753.5" y2="1062.4" stroke="#7f7f7f" stroke-width="1"/>
<text x="750.5" y="1065.0" font-size="7.5" text-anchor="end" fill="#444" letter-spacing="-0.3">0.74</text>
<line x1="751.0" y1="1082.8" x2="753.5" y2="1082.8" stroke="#7f7f7f" stroke-width="1"/>
<text x="750.5" y="1085.4" font-size="7.5" text-anchor="end" fill="#444" letter-spacing="-0.3">0.72</text>
<line x1="751.0" y1="1103.2" x2="753.5" y2="1103.2" stroke="#7f7f7f" stroke-width="1"/>
<text x="750.5" y="1105.8" font-size="7.5" text-anchor="end" fill="#444" letter-spacing="-0.3">0.70</text>
<line x1="751.0" y1="1123.6" x2="753.5" y2="1123.6" stroke="#7f7f7f" stroke-width="1"/>
<text x="750.5" y="1126.2" font-size="7.5" text-anchor="end" fill="#444" letter-spacing="-0.3">0.68</text>
<line x1="751.0" y1="1144.1" x2="753.5" y2="1144.1" stroke="#7f7f7f" stroke-width="1"/>
<text x="750.5" y="1146.7" font-size="7.5" text-anchor="end" fill="#444" letter-spacing="-0.3">0.66</text>
<line x1="751.0" y1="1164.5" x2="753.5" y2="1164.5" stroke="#7f7f7f" stroke-width="1"/>
<text x="750.5" y="1167.1" font-size="7.5" text-anchor="end" fill="#444" letter-spacing="-0.3">0.64</text>
<line x1="751.0" y1="1184.9" x2="753.5" y2="1184.9" stroke="#7f7f7f" stroke-width="1"/>
<text x="750.5" y="1187.5" font-size="7.5" text-anchor="end" fill="#444" letter-spacing="-0.3">0.62</text>
<line x1="751.0" y1="1205.3" x2="753.5" y2="1205.3" stroke="#7f7f7f" stroke-width="1"/>
<text x="750.5" y="1207.9" font-size="7.5" text-anchor="end" fill="#444" letter-spacing="-0.3">0.60</text>
<line x1="751.0" y1="1225.7" x2="753.5" y2="1225.7" stroke="#7f7f7f" stroke-width="1"/>
<text x="750.5" y="1228.3" font-size="7.5" text-anchor="end" fill="#444" letter-spacing="-0.3">0.58</text>
<line x1="874.2" y1="1247.2" x2="874.2" y2="1250.2" stroke="#7f7f7f" stroke-width="1"/>
<line x1="1093.5" y1="1247.2" x2="1093.5" y2="1250.2" stroke="#7f7f7f" stroke-width="1"/>
<line x1="753.5" y1="1247.2" x2="753.5" y2="1250.2" stroke="#7f7f7f" stroke-width="1"/>
<line x1="1214.5" y1="1247.2" x2="1214.5" y2="1250.2" stroke="#7f7f7f" stroke-width="1"/>
<text x="720.5" y="1149.3" font-size="11.8" fill="#555" text-anchor="middle" transform="rotate(-90 720.5 1149.3)" dy="4.4">Pielou evenness</text>
<line x1="874.2" y1="1062.4" x2="874.2" y2="1088.6" stroke="#999" stroke-width="0.8" stroke-dasharray="1.5,1.5"/>
<line x1="874.2" y1="1134.7" x2="874.2" y2="1162.1" stroke="#999" stroke-width="0.8" stroke-dasharray="1.5,1.5"/>
<line x1="824.7" y1="1062.4" x2="923.7" y2="1062.4" stroke="#7f7f7f" stroke-width="1.2"/>
<line x1="824.7" y1="1162.1" x2="923.7" y2="1162.1" stroke="#7f7f7f" stroke-width="1.2"/>
<rect x="775.3" y="1088.6" width="197.8" height="46.1" fill="#fff" stroke="#7f7f7f" stroke-width="1.2"/>
<line x1="775.3" y1="1111.3" x2="973.1" y2="1111.3" stroke="#7f7f7f" stroke-width="1.2"/>
<line x1="1093.5" y1="1094.5" x2="1093.5" y2="1130.3" stroke="#999" stroke-width="0.8" stroke-dasharray="1.5,1.5"/>
<line x1="1093.5" y1="1193.9" x2="1093.5" y2="1220.1" stroke="#999" stroke-width="0.8" stroke-dasharray="1.5,1.5"/>
<line x1="1044.0" y1="1094.5" x2="1143.0" y2="1094.5" stroke="#7f7f7f" stroke-width="1.2"/>
<line x1="1044.0" y1="1220.1" x2="1143.0" y2="1220.1" stroke="#7f7f7f" stroke-width="1.2"/>
<rect x="994.6" y="1130.3" width="197.8" height="63.6" fill="#fff" stroke="#7f7f7f" stroke-width="1.2"/>
<line x1="994.6" y1="1152.5" x2="1192.4" y2="1152.5" stroke="#7f7f7f" stroke-width="1.2"/>
<text x="880.0" y="1264.2" font-size="11.5" text-anchor="middle" fill="#444" >AnxA1<tspan font-size="7" dy="-4">-/-</tspan><tspan dy="4"> </tspan>(n=14)</text>
<text x="1100.0" y="1264.2" font-size="11.5" text-anchor="middle" fill="#444" >WT (n=5)</text>
<text x="989.0" y="1277.9" font-size="11.5" text-anchor="middle" font-weight="bold" fill="#222" >Groups Day 6</text>
<text x="989.0" y="1292.0" font-size="11.5" text-anchor="middle" font-weight="bold" fill="#222" >p-value: 0.064</text>
<line x1="753.5" y1="1298.1" x2="753.5" y2="1484.5" stroke="#7f7f7f" stroke-width="1.2"/>
<line x1="753.5" y1="1484.5" x2="1213.6" y2="1484.5" stroke="#7f7f7f" stroke-width="1.2"/>
<line x1="751.0" y1="1300.1" x2="753.5" y2="1300.1" stroke="#7f7f7f" stroke-width="1"/>
<text x="750.5" y="1302.7" font-size="7.5" text-anchor="end" fill="#444" letter-spacing="-0.3">0.85</text>
<line x1="751.0" y1="1318.5" x2="753.5" y2="1318.5" stroke="#7f7f7f" stroke-width="1"/>
<text x="750.5" y="1321.1" font-size="7.5" text-anchor="end" fill="#444" letter-spacing="-0.3">0.80</text>
<line x1="751.0" y1="1336.9" x2="753.5" y2="1336.9" stroke="#7f7f7f" stroke-width="1"/>
<text x="750.5" y="1339.5" font-size="7.5" text-anchor="end" fill="#444" letter-spacing="-0.3">0.75</text>
<line x1="751.0" y1="1355.2" x2="753.5" y2="1355.2" stroke="#7f7f7f" stroke-width="1"/>
<text x="750.5" y="1357.8" font-size="7.5" text-anchor="end" fill="#444" letter-spacing="-0.3">0.70</text>
<line x1="751.0" y1="1373.6" x2="753.5" y2="1373.6" stroke="#7f7f7f" stroke-width="1"/>
<text x="750.5" y="1376.2" font-size="7.5" text-anchor="end" fill="#444" letter-spacing="-0.3">0.65</text>
<line x1="751.0" y1="1392.0" x2="753.5" y2="1392.0" stroke="#7f7f7f" stroke-width="1"/>
<text x="750.5" y="1394.6" font-size="7.5" text-anchor="end" fill="#444" letter-spacing="-0.3">0.60</text>
<line x1="751.0" y1="1410.4" x2="753.5" y2="1410.4" stroke="#7f7f7f" stroke-width="1"/>
<text x="750.5" y="1413.0" font-size="7.5" text-anchor="end" fill="#444" letter-spacing="-0.3">0.55</text>
<line x1="751.0" y1="1428.8" x2="753.5" y2="1428.8" stroke="#7f7f7f" stroke-width="1"/>
<text x="750.5" y="1431.4" font-size="7.5" text-anchor="end" fill="#444" letter-spacing="-0.3">0.50</text>
<line x1="751.0" y1="1447.1" x2="753.5" y2="1447.1" stroke="#7f7f7f" stroke-width="1"/>
<text x="750.5" y="1449.7" font-size="7.5" text-anchor="end" fill="#444" letter-spacing="-0.3">0.45</text>
<line x1="751.0" y1="1465.5" x2="753.5" y2="1465.5" stroke="#7f7f7f" stroke-width="1"/>
<text x="750.5" y="1468.1" font-size="7.5" text-anchor="end" fill="#444" letter-spacing="-0.3">0.40</text>
<line x1="751.0" y1="1483.9" x2="753.5" y2="1483.9" stroke="#7f7f7f" stroke-width="1"/>
<text x="750.5" y="1486.5" font-size="7.5" text-anchor="end" fill="#444" letter-spacing="-0.3">0.35</text>
<line x1="873.8" y1="1484.5" x2="873.8" y2="1487.5" stroke="#7f7f7f" stroke-width="1"/>
<line x1="1092.8" y1="1484.5" x2="1092.8" y2="1487.5" stroke="#7f7f7f" stroke-width="1"/>
<line x1="753.5" y1="1484.5" x2="753.5" y2="1487.5" stroke="#7f7f7f" stroke-width="1"/>
<line x1="1213.6" y1="1484.5" x2="1213.6" y2="1487.5" stroke="#7f7f7f" stroke-width="1"/>
<text x="720" y="1391.4" font-size="11.8" fill="#555" text-anchor="middle" transform="rotate(-90 720 1391.4)" dy="4.4">Pielou evenness</text>
<line x1="873.8" y1="1348.4" x2="873.8" y2="1353.7" stroke="#999" stroke-width="0.8" stroke-dasharray="1.5,1.5"/>
<line x1="873.8" y1="1389.2" x2="873.8" y2="1440.0" stroke="#999" stroke-width="0.8" stroke-dasharray="1.5,1.5"/>
<line x1="824.2" y1="1348.4" x2="923.2" y2="1348.4" stroke="#7f7f7f" stroke-width="1.2"/>
<line x1="824.2" y1="1440.0" x2="923.2" y2="1440.0" stroke="#7f7f7f" stroke-width="1.2"/>
<rect x="775.3" y="1353.7" width="196.9" height="35.5" fill="#fff" stroke="#7f7f7f" stroke-width="1.2"/>
<line x1="775.3" y1="1370.2" x2="972.2" y2="1370.2" stroke="#7f7f7f" stroke-width="1.2"/>
<line x1="1092.8" y1="1311.0" x2="1092.8" y2="1365.5" stroke="#999" stroke-width="0.8" stroke-dasharray="1.5,1.5"/>
<line x1="1092.8" y1="1426.3" x2="1092.8" y2="1455.3" stroke="#999" stroke-width="0.8" stroke-dasharray="1.5,1.5"/>
<line x1="1043.2" y1="1311.0" x2="1142.2" y2="1311.0" stroke="#7f7f7f" stroke-width="1.2"/>
<line x1="1043.2" y1="1455.3" x2="1142.2" y2="1455.3" stroke="#7f7f7f" stroke-width="1.2"/>
<rect x="994.3" y="1365.5" width="196.9" height="60.8" fill="#fff" stroke="#7f7f7f" stroke-width="1.2"/>
<line x1="994.3" y1="1404.5" x2="1191.2" y2="1404.5" stroke="#7f7f7f" stroke-width="1.2"/>
<circle cx="874" cy="1480.2" r="1.6" fill="#888"/>
<text x="880.0" y="1501.9" font-size="11.5" text-anchor="middle" fill="#444" >AnxA1<tspan font-size="7" dy="-4">-/-</tspan><tspan dy="4"> </tspan>(n=16)</text>
<text x="1102.0" y="1501.9" font-size="11.5" text-anchor="middle" fill="#444" >WT (n=14)</text>
<text x="989.0" y="1520.9" font-size="11.5" text-anchor="middle" font-weight="bold" fill="#222" >Groups Day 10</text>
<text x="989.0" y="1534.6" font-size="11.5" text-anchor="middle" font-weight="bold" fill="#222" >p-value: 0.145</text>
<text x="1491.8" y="56.2" font-size="15.2" text-anchor="middle" font-weight="bold" fill="#111"  textLength="90.7" lengthAdjust="spacingAndGlyphs">Firmicutes</text>
<text x="1407.5" y="77.9" font-size="15.5" text-anchor="start" font-weight="bold" fill="#111"  textLength="43.0" lengthAdjust="spacingAndGlyphs">Day 0</text>
<text x="1577.3" y="77.9" font-size="15.5" text-anchor="end" font-weight="bold" fill="#111"  textLength="106.6" lengthAdjust="spacingAndGlyphs">p-value: 0.257</text>
<line x1="1351.3" y1="82.1" x2="1351.3" y2="270.7" stroke="#111" stroke-width="2.0"/>
<line x1="1350.3" y1="269.7" x2="1634.0" y2="269.7" stroke="#111" stroke-width="2.0"/>
<line x1="1343.3" y1="82.1" x2="1351.3" y2="82.1" stroke="#111" stroke-width="1.6"/>
<text x="1340.8" y="86.2" font-size="11.3" text-anchor="end" font-weight="bold" fill="#111"  textLength="14.8" lengthAdjust="spacingAndGlyphs">80</text>
<line x1="1343.3" y1="129.0" x2="1351.3" y2="129.0" stroke="#111" stroke-width="1.6"/>
<text x="1340.8" y="133.1" font-size="11.3" text-anchor="end" font-weight="bold" fill="#111"  textLength="14.8" lengthAdjust="spacingAndGlyphs">60</text>
<line x1="1343.3" y1="175.9" x2="1351.3" y2="175.9" stroke="#111" stroke-width="1.6"/>
<text x="1340.8" y="180.0" font-size="11.3" text-anchor="end" font-weight="bold" fill="#111"  textLength="14.8" lengthAdjust="spacingAndGlyphs">40</text>
<line x1="1343.3" y1="222.8" x2="1351.3" y2="222.8" stroke="#111" stroke-width="1.6"/>
<text x="1340.8" y="226.9" font-size="11.3" text-anchor="end" font-weight="bold" fill="#111"  textLength="14.8" lengthAdjust="spacingAndGlyphs">20</text>
<line x1="1343.3" y1="269.7" x2="1351.3" y2="269.7" stroke="#111" stroke-width="1.6"/>
<text x="1340.8" y="273.8" font-size="11.3" text-anchor="end" font-weight="bold" fill="#111"  textLength="7.4" lengthAdjust="spacingAndGlyphs">0</text>
<line x1="1431.7" y1="269.7" x2="1431.7" y2="277.7" stroke="#111" stroke-width="1.8"/>
<line x1="1552.8" y1="269.7" x2="1552.8" y2="277.7" stroke="#111" stroke-width="1.8"/>
<text x="1406.8" y="292.2" font-size="11.7" text-anchor="start" font-weight="bold" fill="#111"  textLength="43.7" lengthAdjust="spacingAndGlyphs">AnxA1</text>
<text x="1451.5" y="286.2" font-size="7.3" text-anchor="start" fill="#111"  textLength="8.1" lengthAdjust="spacingAndGlyphs">-/-</text>
<text x="1552.8" y="292.2" font-size="11.7" text-anchor="middle" font-weight="bold" fill="#111"  textLength="21.5" lengthAdjust="spacingAndGlyphs">WT</text>
<text x="1491.7" y="322.2" font-size="12.9" text-anchor="middle" font-weight="bold" fill="#111"  textLength="54.0" lengthAdjust="spacingAndGlyphs">Groups</text>
<text x="1311.2" y="174.9" font-size="13.0" font-weight="bold" fill="#111" text-anchor="middle" dy="4.7" textLength="172.8" lengthAdjust="spacingAndGlyphs" transform="rotate(-90 1311.2 174.9)">Relative abundance (%)</text>
<rect x="1427.6" y="112.6" width="8.2" height="8.2" fill="#c4640a"/>
<rect x="1412.8" y="129.1" width="8.2" height="8.2" fill="#c4640a"/>
<rect x="1427.6" y="134.5" width="8.2" height="8.2" fill="#c4640a"/>
<rect x="1427.6" y="145.4" width="8.2" height="8.2" fill="#c4640a"/>
<rect x="1427.6" y="157.8" width="8.2" height="8.2" fill="#c4640a"/>
<rect x="1412.8" y="161.9" width="8.2" height="8.2" fill="#c4640a"/>
<rect x="1412.8" y="167.2" width="8.2" height="8.2" fill="#c4640a"/>
<rect x="1397.5" y="170.5" width="8.2" height="8.2" fill="#c4640a"/>
<rect x="1442.7" y="162.5" width="8.2" height="8.2" fill="#c4640a"/>
<rect x="1458.0" y="166.7" width="8.2" height="8.2" fill="#c4640a"/>
<rect x="1427.6" y="172.3" width="8.2" height="8.2" fill="#c4640a"/>
<rect x="1442.7" y="177.3" width="8.2" height="8.2" fill="#c4640a"/>
<rect x="1427.6" y="185.9" width="8.2" height="8.2" fill="#c4640a"/>
<rect x="1442.7" y="200.3" width="8.2" height="8.2" fill="#c4640a"/>
<rect x="1427.6" y="206.2" width="8.2" height="8.2" fill="#c4640a"/>
<rect x="1397.5" y="230.2" width="8.2" height="8.2" fill="#c4640a"/>
<rect x="1412.8" y="234.6" width="8.2" height="8.2" fill="#c4640a"/>
<rect x="1427.6" y="233.4" width="8.2" height="8.2" fill="#c4640a"/>
<rect x="1442.7" y="232.8" width="8.2" height="8.2" fill="#c4640a"/>
<rect x="1397.5" y="247.3" width="8.2" height="8.2" fill="#c4640a"/>
<rect x="1412.8" y="248.5" width="8.2" height="8.2" fill="#c4640a"/>
<rect x="1427.6" y="248.5" width="8.2" height="8.2" fill="#c4640a"/>
<rect x="1442.7" y="242.6" width="8.2" height="8.2" fill="#c4640a"/>
<rect x="1442.7" y="250.0" width="8.2" height="8.2" fill="#c4640a"/>
<rect x="1427.6" y="257.3" width="8.2" height="8.2" fill="#c4640a"/>
<rect x="1442.7" y="258.8" width="8.2" height="8.2" fill="#c4640a"/>
<rect x="1412.8" y="261.8" width="8.2" height="8.2" fill="#c4640a"/>
<rect x="1458.0" y="253.8" width="8.2" height="8.2" fill="#c4640a"/>
<rect x="1536.6" y="118.2" width="8.2" height="8.2" fill="#8dbcf4"/>
<rect x="1548.7" y="118.2" width="8.2" height="8.2" fill="#8dbcf4"/>
<rect x="1524.5" y="166.4" width="8.2" height="8.2" fill="#8dbcf4"/>
<rect x="1536.6" y="164.3" width="8.2" height="8.2" fill="#8dbcf4"/>
<rect x="1560.8" y="160.4" width="8.2" height="8.2" fill="#8dbcf4"/>
<rect x="1572.9" y="165.5" width="8.2" height="8.2" fill="#8dbcf4"/>
<rect x="1548.7" y="169.6" width="8.2" height="8.2" fill="#8dbcf4"/>
<rect x="1536.6" y="177.3" width="8.2" height="8.2" fill="#8dbcf4"/>
<rect x="1560.8" y="175.5" width="8.2" height="8.2" fill="#8dbcf4"/>
<rect x="1572.9" y="185.3" width="8.2" height="8.2" fill="#8dbcf4"/>
<rect x="1512.4" y="195.3" width="8.2" height="8.2" fill="#8dbcf4"/>
<rect x="1524.5" y="196.5" width="8.2" height="8.2" fill="#8dbcf4"/>
<rect x="1536.6" y="190.9" width="8.2" height="8.2" fill="#8dbcf4"/>
<rect x="1536.6" y="198.0" width="8.2" height="8.2" fill="#8dbcf4"/>
<rect x="1548.7" y="197.7" width="8.2" height="8.2" fill="#8dbcf4"/>
<rect x="1560.8" y="190.9" width="8.2" height="8.2" fill="#8dbcf4"/>
<rect x="1560.8" y="196.8" width="8.2" height="8.2" fill="#8dbcf4"/>
<rect x="1572.9" y="196.8" width="8.2" height="8.2" fill="#8dbcf4"/>
<rect x="1585.6" y="195.6" width="8.2" height="8.2" fill="#8dbcf4"/>
<rect x="1548.7" y="219.2" width="8.2" height="8.2" fill="#8dbcf4"/>
<rect x="1548.7" y="226.0" width="8.2" height="8.2" fill="#8dbcf4"/>
<rect x="1536.6" y="249.1" width="8.2" height="8.2" fill="#8dbcf4"/>
<rect x="1560.8" y="244.6" width="8.2" height="8.2" fill="#8dbcf4"/>
<line x1="1392.4" y1="205.9" x2="1471.6" y2="205.9" stroke="#222" stroke-width="2"/>
<line x1="1512.9" y1="190.5" x2="1592.7" y2="190.5" stroke="#222" stroke-width="2"/>
<text x="1840.5" y="55.5" font-size="15.2" text-anchor="middle" font-weight="bold" fill="#111"  textLength="91.0" lengthAdjust="spacingAndGlyphs">Firmicutes</text>
<text x="1758.2" y="77.7" font-size="15.5" text-anchor="start" font-weight="bold" fill="#111"  textLength="43.1" lengthAdjust="spacingAndGlyphs">Day 6</text>
<text x="1928.6" y="77.7" font-size="15.5" text-anchor="end" font-weight="bold" fill="#111"  textLength="107.0" lengthAdjust="spacingAndGlyphs">p-value: 0.754</text>
<line x1="1699.4" y1="81.7" x2="1699.4" y2="270.9" stroke="#111" stroke-width="2.0"/>
<line x1="1698.4" y1="269.9" x2="1982.8" y2="269.9" stroke="#111" stroke-width="2.0"/>
<line x1="1691.4" y1="81.7" x2="1699.4" y2="81.7" stroke="#111" stroke-width="1.6"/>
<text x="1688.9" y="85.8" font-size="11.3" text-anchor="end" font-weight="bold" fill="#111"  textLength="14.8" lengthAdjust="spacingAndGlyphs">50</text>
<line x1="1691.4" y1="119.3" x2="1699.4" y2="119.3" stroke="#111" stroke-width="1.6"/>
<text x="1688.9" y="123.4" font-size="11.3" text-anchor="end" font-weight="bold" fill="#111"  textLength="14.8" lengthAdjust="spacingAndGlyphs">40</text>
<line x1="1691.4" y1="157.0" x2="1699.4" y2="157.0" stroke="#111" stroke-width="1.6"/>
<text x="1688.9" y="161.0" font-size="11.3" text-anchor="end" font-weight="bold" fill="#111"  textLength="14.8" lengthAdjust="spacingAndGlyphs">30</text>
<line x1="1691.4" y1="194.6" x2="1699.4" y2="194.6" stroke="#111" stroke-width="1.6"/>
<text x="1688.9" y="198.7" font-size="11.3" text-anchor="end" font-weight="bold" fill="#111"  textLength="14.8" lengthAdjust="spacingAndGlyphs">20</text>
<line x1="1691.4" y1="232.3" x2="1699.4" y2="232.3" stroke="#111" stroke-width="1.6"/>
<text x="1688.9" y="236.3" font-size="11.3" text-anchor="end" font-weight="bold" fill="#111"  textLength="14.8" lengthAdjust="spacingAndGlyphs">10</text>
<line x1="1691.4" y1="269.9" x2="1699.4" y2="269.9" stroke="#111" stroke-width="1.6"/>
<text x="1688.9" y="274.0" font-size="11.3" text-anchor="end" font-weight="bold" fill="#111"  textLength="7.4" lengthAdjust="spacingAndGlyphs">0</text>
<line x1="1779.9" y1="269.9" x2="1779.9" y2="277.9" stroke="#111" stroke-width="1.8"/>
<line x1="1901.5" y1="269.9" x2="1901.5" y2="277.9" stroke="#111" stroke-width="1.8"/>
<text x="1755.1" y="292.7" font-size="11.7" text-anchor="start" font-weight="bold" fill="#111"  textLength="43.7" lengthAdjust="spacingAndGlyphs">AnxA1</text>
<text x="1799.8" y="286.7" font-size="7.3" text-anchor="start" fill="#111"  textLength="8.1" lengthAdjust="spacingAndGlyphs">-/-</text>
<text x="1901.5" y="292.7" font-size="11.7" text-anchor="middle" font-weight="bold" fill="#111"  textLength="21.5" lengthAdjust="spacingAndGlyphs">WT</text>
<text x="1839.9" y="322.2" font-size="12.9" text-anchor="middle" font-weight="bold" fill="#111"  textLength="54.0" lengthAdjust="spacingAndGlyphs">Groups</text>
<text x="1659.9" y="175.0" font-size="13.0" font-weight="bold" fill="#111" text-anchor="middle" dy="4.7" textLength="172.3" lengthAdjust="spacingAndGlyphs" transform="rotate(-90 1659.9 175.0)">Relative abundance (%)</text>
<rect x="1775.8" y="100.4" width="8.2" height="8.2" fill="#c4640a"/>
<rect x="1775.8" y="122.5" width="8.2" height="8.2" fill="#c4640a"/>
<rect x="1761.1" y="148.9" width="8.2" height="8.2" fill="#c4640a"/>
<rect x="1775.8" y="153.9" width="8.2" height="8.2" fill="#c4640a"/>
<rect x="1775.8" y="161.6" width="8.2" height="8.2" fill="#c4640a"/>
<rect x="1775.8" y="171.3" width="8.2" height="8.2" fill="#c4640a"/>
<rect x="1775.8" y="185.6" width="8.2" height="8.2" fill="#c4640a"/>
<rect x="1790.9" y="195.3" width="8.2" height="8.2" fill="#c4640a"/>
<rect x="1761.1" y="206.2" width="8.2" height="8.2" fill="#c4640a"/>
<rect x="1775.8" y="203.5" width="8.2" height="8.2" fill="#c4640a"/>
<rect x="1790.9" y="210.0" width="8.2" height="8.2" fill="#c4640a"/>
<rect x="1775.8" y="228.2" width="8.2" height="8.2" fill="#c4640a"/>
<rect x="1761.1" y="249.9" width="8.2" height="8.2" fill="#c4640a"/>
<rect x="1790.9" y="249.5" width="8.2" height="8.2" fill="#c4640a"/>
<rect x="1897.4" y="120.6" width="8.2" height="8.2" fill="#8dbcf4"/>
<rect x="1897.4" y="177.1" width="8.2" height="8.2" fill="#8dbcf4"/>
<rect x="1897.4" y="191.4" width="8.2" height="8.2" fill="#8dbcf4"/>
<rect x="1882.3" y="205.4" width="8.2" height="8.2" fill="#8dbcf4"/>
<rect x="1912.5" y="199.2" width="8.2" height="8.2" fill="#8dbcf4"/>
<line x1="1740.0" y1="189.4" x2="1820.6" y2="189.4" stroke="#222" stroke-width="2"/>
<line x1="1860.9" y1="182.8" x2="1941.4" y2="182.8" stroke="#222" stroke-width="2"/>
<text x="2182.6" y="55.1" font-size="15.2" text-anchor="middle" font-weight="bold" fill="#111"  textLength="89.1" lengthAdjust="spacingAndGlyphs">Firmicutes</text>
<text x="2102.1" y="76.9" font-size="15.5" text-anchor="start" font-weight="bold" fill="#111"  textLength="53.8" lengthAdjust="spacingAndGlyphs">Day 10</text>
<text x="2263.6" y="76.9" font-size="15.5" text-anchor="end" font-weight="bold" fill="#111"  textLength="101.0" lengthAdjust="spacingAndGlyphs">p-value: 0.01</text>
<line x1="2044.8" y1="80.5" x2="2044.8" y2="265.1" stroke="#111" stroke-width="2.0"/>
<line x1="2043.8" y1="264.1" x2="2320.9" y2="264.1" stroke="#111" stroke-width="2.0"/>
<line x1="2036.8" y1="80.5" x2="2044.8" y2="80.5" stroke="#111" stroke-width="1.6"/>
<text x="2034.3" y="84.6" font-size="11.3" text-anchor="end" font-weight="bold" fill="#111"  textLength="22.2" lengthAdjust="spacingAndGlyphs">100</text>
<line x1="2036.8" y1="117.3" x2="2044.8" y2="117.3" stroke="#111" stroke-width="1.6"/>
<text x="2034.3" y="121.3" font-size="11.3" text-anchor="end" font-weight="bold" fill="#111"  textLength="14.8" lengthAdjust="spacingAndGlyphs">80</text>
<line x1="2036.8" y1="154.0" x2="2044.8" y2="154.0" stroke="#111" stroke-width="1.6"/>
<text x="2034.3" y="158.0" font-size="11.3" text-anchor="end" font-weight="bold" fill="#111"  textLength="14.8" lengthAdjust="spacingAndGlyphs">60</text>
<line x1="2036.8" y1="190.7" x2="2044.8" y2="190.7" stroke="#111" stroke-width="1.6"/>
<text x="2034.3" y="194.7" font-size="11.3" text-anchor="end" font-weight="bold" fill="#111"  textLength="14.8" lengthAdjust="spacingAndGlyphs">40</text>
<line x1="2036.8" y1="227.4" x2="2044.8" y2="227.4" stroke="#111" stroke-width="1.6"/>
<text x="2034.3" y="231.4" font-size="11.3" text-anchor="end" font-weight="bold" fill="#111"  textLength="14.8" lengthAdjust="spacingAndGlyphs">20</text>
<line x1="2036.8" y1="264.1" x2="2044.8" y2="264.1" stroke="#111" stroke-width="1.6"/>
<text x="2034.3" y="268.1" font-size="11.3" text-anchor="end" font-weight="bold" fill="#111"  textLength="7.4" lengthAdjust="spacingAndGlyphs">0</text>
<line x1="2123.4" y1="264.1" x2="2123.4" y2="272.1" stroke="#111" stroke-width="1.8"/>
<line x1="2241.5" y1="264.1" x2="2241.5" y2="272.1" stroke="#111" stroke-width="1.8"/>
<text x="2098.5" y="284.9" font-size="11.7" text-anchor="start" font-weight="bold" fill="#111"  textLength="43.7" lengthAdjust="spacingAndGlyphs">AnxA1</text>
<text x="2143.2" y="278.9" font-size="7.3" text-anchor="start" fill="#111"  textLength="8.1" lengthAdjust="spacingAndGlyphs">-/-</text>
<text x="2241.5" y="284.9" font-size="11.7" text-anchor="middle" font-weight="bold" fill="#111"  textLength="21.5" lengthAdjust="spacingAndGlyphs">WT</text>
<text x="2182.2" y="314.4" font-size="12.9" text-anchor="middle" font-weight="bold" fill="#111"  textLength="54.0" lengthAdjust="spacingAndGlyphs">Groups</text>
<text x="1999.5" y="171.9" font-size="12.6" font-weight="bold" fill="#111" text-anchor="middle" dy="4.5" textLength="167.3" lengthAdjust="spacingAndGlyphs" transform="rotate(-90 1999.5 171.9)">Relative abundance (%)</text>
<rect x="2127.0" y="112.8" width="8.2" height="8.2" fill="#c4640a"/>
<rect x="2112.3" y="119.8" width="8.2" height="8.2" fill="#c4640a"/>
<rect x="2127.0" y="124.1" width="8.2" height="8.2" fill="#c4640a"/>
<rect x="2112.3" y="141.1" width="8.2" height="8.2" fill="#c4640a"/>
<rect x="2127.0" y="156.6" width="8.2" height="8.2" fill="#c4640a"/>
<rect x="2127.0" y="169.8" width="8.2" height="8.2" fill="#c4640a"/>
<rect x="2127.0" y="182.2" width="8.2" height="8.2" fill="#c4640a"/>
<rect x="2112.3" y="188.0" width="8.2" height="8.2" fill="#c4640a"/>
<rect x="2112.3" y="222.4" width="8.2" height="8.2" fill="#c4640a"/>
<rect x="2112.3" y="229.4" width="8.2" height="8.2" fill="#c4640a"/>
<rect x="2127.0" y="225.5" width="8.2" height="8.2" fill="#c4640a"/>
<rect x="2097.6" y="237.5" width="8.2" height="8.2" fill="#c4640a"/>
<rect x="2097.6" y="251.5" width="8.2" height="8.2" fill="#c4640a"/>
<rect x="2112.3" y="249.5" width="8.2" height="8.2" fill="#c4640a"/>
<rect x="2127.0" y="250.3" width="8.2" height="8.2" fill="#c4640a"/>
<rect x="2141.4" y="249.5" width="8.2" height="8.2" fill="#c4640a"/>
<rect x="2245.1" y="152.3" width="8.2" height="8.2" fill="#8dbcf4"/>
<rect x="2245.1" y="166.7" width="8.2" height="8.2" fill="#8dbcf4"/>
<rect x="2230.4" y="169.8" width="8.2" height="8.2" fill="#8dbcf4"/>
<rect x="2245.1" y="206.5" width="8.2" height="8.2" fill="#8dbcf4"/>
<rect x="2230.4" y="229.0" width="8.2" height="8.2" fill="#8dbcf4"/>
<rect x="2202.2" y="247.2" width="8.2" height="8.2" fill="#8dbcf4"/>
<rect x="2202.2" y="255.3" width="8.2" height="8.2" fill="#8dbcf4"/>
<rect x="2216.1" y="254.2" width="8.2" height="8.2" fill="#8dbcf4"/>
<rect x="2230.4" y="254.6" width="8.2" height="8.2" fill="#8dbcf4"/>
<rect x="2245.1" y="254.2" width="8.2" height="8.2" fill="#8dbcf4"/>
<rect x="2258.7" y="250.3" width="8.2" height="8.2" fill="#8dbcf4"/>
<rect x="2258.7" y="254.6" width="8.2" height="8.2" fill="#8dbcf4"/>
<rect x="2258.7" y="259.2" width="8.2" height="8.2" fill="#8dbcf4"/>
<rect x="2273.0" y="244.9" width="8.2" height="8.2" fill="#8dbcf4"/>
<rect x="2273.0" y="254.6" width="8.2" height="8.2" fill="#8dbcf4"/>
<line x1="2084.7" y1="198.6" x2="2163.3" y2="198.6" stroke="#222" stroke-width="2"/>
<line x1="2200.8" y1="232.7" x2="2281.0" y2="232.7" stroke="#222" stroke-width="2"/>
<text x="1488.7" y="388.5" font-size="15.2" text-anchor="middle" font-weight="bold" fill="#111"  textLength="124.1" lengthAdjust="spacingAndGlyphs">Proteobacteria</text>
<text x="1397.7" y="407.9" font-size="15.5" text-anchor="start" font-weight="bold" fill="#111"  textLength="46.8" lengthAdjust="spacingAndGlyphs">Day 0</text>
<text x="1594.8" y="407.9" font-size="15.5" text-anchor="end" font-weight="bold" fill="#111"  textLength="130.0" lengthAdjust="spacingAndGlyphs">p-value <0.0001</text>
<line x1="1351.3" y1="430.4" x2="1351.3" y2="609.3" stroke="#111" stroke-width="2.0"/>
<line x1="1350.3" y1="608.3" x2="1627.5" y2="608.3" stroke="#111" stroke-width="2.0"/>
<line x1="1343.3" y1="430.4" x2="1351.3" y2="430.4" stroke="#111" stroke-width="1.6"/>
<text x="1340.8" y="434.5" font-size="11.3" text-anchor="end" font-weight="bold" fill="#111"  textLength="7.4" lengthAdjust="spacingAndGlyphs">5</text>
<line x1="1343.3" y1="466.0" x2="1351.3" y2="466.0" stroke="#111" stroke-width="1.6"/>
<text x="1340.8" y="470.1" font-size="11.3" text-anchor="end" font-weight="bold" fill="#111"  textLength="7.4" lengthAdjust="spacingAndGlyphs">4</text>
<line x1="1343.3" y1="501.6" x2="1351.3" y2="501.6" stroke="#111" stroke-width="1.6"/>
<text x="1340.8" y="505.6" font-size="11.3" text-anchor="end" font-weight="bold" fill="#111"  textLength="7.4" lengthAdjust="spacingAndGlyphs">3</text>
<line x1="1343.3" y1="537.1" x2="1351.3" y2="537.1" stroke="#111" stroke-width="1.6"/>
<text x="1340.8" y="541.2" font-size="11.3" text-anchor="end" font-weight="bold" fill="#111"  textLength="7.4" lengthAdjust="spacingAndGlyphs">2</text>
<line x1="1343.3" y1="572.7" x2="1351.3" y2="572.7" stroke="#111" stroke-width="1.6"/>
<text x="1340.8" y="576.8" font-size="11.3" text-anchor="end" font-weight="bold" fill="#111"  textLength="7.4" lengthAdjust="spacingAndGlyphs">1</text>
<line x1="1343.3" y1="608.3" x2="1351.3" y2="608.3" stroke="#111" stroke-width="1.6"/>
<text x="1340.8" y="612.3" font-size="11.3" text-anchor="end" font-weight="bold" fill="#111"  textLength="7.4" lengthAdjust="spacingAndGlyphs">0</text>
<line x1="1430.2" y1="608.3" x2="1430.2" y2="616.3" stroke="#111" stroke-width="1.8"/>
<line x1="1547.8" y1="608.3" x2="1547.8" y2="616.3" stroke="#111" stroke-width="1.8"/>
<text x="1405.4" y="629.6" font-size="11.7" text-anchor="start" font-weight="bold" fill="#111"  textLength="43.7" lengthAdjust="spacingAndGlyphs">AnxA1</text>
<text x="1450.1" y="623.6" font-size="7.3" text-anchor="start" fill="#111"  textLength="8.1" lengthAdjust="spacingAndGlyphs">-/-</text>
<text x="1547.8" y="629.6" font-size="11.7" text-anchor="middle" font-weight="bold" fill="#111"  textLength="21.5" lengthAdjust="spacingAndGlyphs">WT</text>
<text x="1488.7" y="658.7" font-size="12.9" text-anchor="middle" font-weight="bold" fill="#111"  textLength="54.0" lengthAdjust="spacingAndGlyphs">Groups</text>
<text x="1318.8" y="519.1" font-size="12.3" font-weight="bold" fill="#111" text-anchor="middle" dy="4.4" textLength="162.5" lengthAdjust="spacingAndGlyphs" transform="rotate(-90 1318.8 519.1)">Relative abundance (%)</text>
<rect x="1418.7" y="465.9" width="8.2" height="8.2" fill="#c4640a"/>
<rect x="1433.2" y="521.8" width="8.2" height="8.2" fill="#c4640a"/>
<rect x="1418.7" y="530.9" width="8.2" height="8.2" fill="#c4640a"/>
<rect x="1447.4" y="529.4" width="8.2" height="8.2" fill="#c4640a"/>
<rect x="1433.2" y="533.9" width="8.2" height="8.2" fill="#c4640a"/>
<rect x="1404.5" y="544.8" width="8.2" height="8.2" fill="#c4640a"/>
<rect x="1418.7" y="544.2" width="8.2" height="8.2" fill="#c4640a"/>
<rect x="1447.4" y="548.6" width="8.2" height="8.2" fill="#c4640a"/>
<rect x="1433.2" y="549.5" width="8.2" height="8.2" fill="#c4640a"/>
<rect x="1404.5" y="553.4" width="8.2" height="8.2" fill="#c4640a"/>
<rect x="1404.5" y="561.6" width="8.2" height="8.2" fill="#c4640a"/>
<rect x="1418.7" y="562.8" width="8.2" height="8.2" fill="#c4640a"/>
<rect x="1433.2" y="561.1" width="8.2" height="8.2" fill="#c4640a"/>
<rect x="1404.5" y="571.4" width="8.2" height="8.2" fill="#c4640a"/>
<rect x="1418.7" y="572.6" width="8.2" height="8.2" fill="#c4640a"/>
<rect x="1447.4" y="576.7" width="8.2" height="8.2" fill="#c4640a"/>
<rect x="1433.2" y="577.9" width="8.2" height="8.2" fill="#c4640a"/>
<rect x="1390.1" y="582.3" width="8.2" height="8.2" fill="#c4640a"/>
<rect x="1461.9" y="584.1" width="8.2" height="8.2" fill="#c4640a"/>
<rect x="1447.4" y="585.6" width="8.2" height="8.2" fill="#c4640a"/>
<rect x="1404.5" y="587.3" width="8.2" height="8.2" fill="#c4640a"/>
<rect x="1390.1" y="591.2" width="8.2" height="8.2" fill="#c4640a"/>
<rect x="1433.2" y="590.6" width="8.2" height="8.2" fill="#c4640a"/>
<rect x="1461.9" y="592.1" width="8.2" height="8.2" fill="#c4640a"/>
<rect x="1447.4" y="593.3" width="8.2" height="8.2" fill="#c4640a"/>
<rect x="1418.7" y="594.7" width="8.2" height="8.2" fill="#c4640a"/>
<rect x="1418.7" y="603.0" width="8.2" height="8.2" fill="#c4640a"/>
<rect x="1433.2" y="601.2" width="8.2" height="8.2" fill="#c4640a"/>
<rect x="1543.7" y="559.9" width="8.2" height="8.2" fill="#8dbcf4"/>
<rect x="1543.7" y="582.6" width="8.2" height="8.2" fill="#8dbcf4"/>
<rect x="1547.2" y="585.9" width="8.2" height="8.2" fill="#8dbcf4"/>
<rect x="1538.4" y="587.9" width="8.2" height="8.2" fill="#8dbcf4"/>
<rect x="1547.2" y="590.3" width="8.2" height="8.2" fill="#8dbcf4"/>
<rect x="1507.3" y="599.2" width="8.2" height="8.2" fill="#8dbcf4"/>
<rect x="1513.3" y="602.1" width="8.2" height="8.2" fill="#8dbcf4"/>
<rect x="1519.2" y="598.3" width="8.2" height="8.2" fill="#8dbcf4"/>
<rect x="1525.1" y="603.0" width="8.2" height="8.2" fill="#8dbcf4"/>
<rect x="1531.0" y="600.1" width="8.2" height="8.2" fill="#8dbcf4"/>
<rect x="1536.9" y="602.1" width="8.2" height="8.2" fill="#8dbcf4"/>
<rect x="1542.8" y="599.2" width="8.2" height="8.2" fill="#8dbcf4"/>
<rect x="1548.7" y="603.0" width="8.2" height="8.2" fill="#8dbcf4"/>
<rect x="1554.6" y="600.6" width="8.2" height="8.2" fill="#8dbcf4"/>
<rect x="1560.5" y="602.1" width="8.2" height="8.2" fill="#8dbcf4"/>
<rect x="1566.4" y="599.2" width="8.2" height="8.2" fill="#8dbcf4"/>
<rect x="1572.3" y="602.1" width="8.2" height="8.2" fill="#8dbcf4"/>
<rect x="1579.1" y="596.2" width="8.2" height="8.2" fill="#8dbcf4"/>
<rect x="1579.1" y="603.0" width="8.2" height="8.2" fill="#8dbcf4"/>
<rect x="1573.8" y="597.7" width="8.2" height="8.2" fill="#8dbcf4"/>
<rect x="1511.8" y="597.7" width="8.2" height="8.2" fill="#8dbcf4"/>
<rect x="1526.5" y="600.6" width="8.2" height="8.2" fill="#8dbcf4"/>
<rect x="1559.0" y="597.7" width="8.2" height="8.2" fill="#8dbcf4"/>
<line x1="1390.9" y1="568.7" x2="1469.2" y2="568.7" stroke="#222" stroke-width="2"/>
<line x1="1508.5" y1="600.3" x2="1586.8" y2="600.3" stroke="#222" stroke-width="2"/>
<text x="1826.2" y="387.5" font-size="15.2" text-anchor="middle" font-weight="bold" fill="#111"  textLength="128.2" lengthAdjust="spacingAndGlyphs">Proteobacteria</text>
<text x="1735.4" y="407.7" font-size="15.5" text-anchor="start" font-weight="bold" fill="#111"  textLength="46.9" lengthAdjust="spacingAndGlyphs">Day 6</text>
<text x="1918.9" y="407.7" font-size="15.5" text-anchor="end" font-weight="bold" fill="#111"  textLength="116.3" lengthAdjust="spacingAndGlyphs">p-value: 0.003</text>
<line x1="1681.2" y1="414.4" x2="1681.2" y2="607.9" stroke="#111" stroke-width="2.0"/>
<line x1="1680.2" y1="606.9" x2="1971.2" y2="606.9" stroke="#111" stroke-width="2.0"/>
<line x1="1673.2" y1="414.4" x2="1681.2" y2="414.4" stroke="#111" stroke-width="1.6"/>
<text x="1670.7" y="418.5" font-size="11.3" text-anchor="end" font-weight="bold" fill="#111"  textLength="14.8" lengthAdjust="spacingAndGlyphs">10</text>
<line x1="1673.2" y1="452.9" x2="1681.2" y2="452.9" stroke="#111" stroke-width="1.6"/>
<text x="1670.7" y="457.0" font-size="11.3" text-anchor="end" font-weight="bold" fill="#111"  textLength="7.4" lengthAdjust="spacingAndGlyphs">8</text>
<line x1="1673.2" y1="491.4" x2="1681.2" y2="491.4" stroke="#111" stroke-width="1.6"/>
<text x="1670.7" y="495.5" font-size="11.3" text-anchor="end" font-weight="bold" fill="#111"  textLength="7.4" lengthAdjust="spacingAndGlyphs">6</text>
<line x1="1673.2" y1="529.9" x2="1681.2" y2="529.9" stroke="#111" stroke-width="1.6"/>
<text x="1670.7" y="533.9" font-size="11.3" text-anchor="end" font-weight="bold" fill="#111"  textLength="7.4" lengthAdjust="spacingAndGlyphs">4</text>
<line x1="1673.2" y1="568.4" x2="1681.2" y2="568.4" stroke="#111" stroke-width="1.6"/>
<text x="1670.7" y="572.4" font-size="11.3" text-anchor="end" font-weight="bold" fill="#111"  textLength="7.4" lengthAdjust="spacingAndGlyphs">2</text>
<line x1="1673.2" y1="606.9" x2="1681.2" y2="606.9" stroke="#111" stroke-width="1.6"/>
<text x="1670.7" y="610.9" font-size="11.3" text-anchor="end" font-weight="bold" fill="#111"  textLength="7.4" lengthAdjust="spacingAndGlyphs">0</text>
<line x1="1764.0" y1="606.9" x2="1764.0" y2="614.9" stroke="#111" stroke-width="1.8"/>
<line x1="1887.2" y1="606.9" x2="1887.2" y2="614.9" stroke="#111" stroke-width="1.8"/>
<text x="1739.2" y="628.5" font-size="11.7" text-anchor="start" font-weight="bold" fill="#111"  textLength="43.7" lengthAdjust="spacingAndGlyphs">AnxA1</text>
<text x="1783.9" y="622.5" font-size="7.3" text-anchor="start" fill="#111"  textLength="8.1" lengthAdjust="spacingAndGlyphs">-/-</text>
<text x="1887.2" y="628.5" font-size="11.7" text-anchor="middle" font-weight="bold" fill="#111"  textLength="21.5" lengthAdjust="spacingAndGlyphs">WT</text>
<text x="1826.0" y="659.1" font-size="12.9" text-anchor="middle" font-weight="bold" fill="#111"  textLength="54.0" lengthAdjust="spacingAndGlyphs">Groups</text>
<text x="1641.3" y="509.3" font-size="13.2" font-weight="bold" fill="#111" text-anchor="middle" dy="4.8" textLength="175.4" lengthAdjust="spacingAndGlyphs" transform="rotate(-90 1641.3 509.3)">Relative abundance (%)</text>
<rect x="1759.9" y="428.9" width="8.2" height="8.2" fill="#c4640a"/>
<rect x="1759.9" y="466.1" width="8.2" height="8.2" fill="#c4640a"/>
<rect x="1744.8" y="514.9" width="8.2" height="8.2" fill="#c4640a"/>
<rect x="1759.9" y="513.7" width="8.2" height="8.2" fill="#c4640a"/>
<rect x="1775.4" y="516.0" width="8.2" height="8.2" fill="#c4640a"/>
<rect x="1759.9" y="529.2" width="8.2" height="8.2" fill="#c4640a"/>
<rect x="1775.4" y="525.7" width="8.2" height="8.2" fill="#c4640a"/>
<rect x="1744.8" y="534.6" width="8.2" height="8.2" fill="#c4640a"/>
<rect x="1744.8" y="547.8" width="8.2" height="8.2" fill="#c4640a"/>
<rect x="1759.9" y="551.7" width="8.2" height="8.2" fill="#c4640a"/>
<rect x="1775.4" y="550.5" width="8.2" height="8.2" fill="#c4640a"/>
<rect x="1744.8" y="556.3" width="8.2" height="8.2" fill="#c4640a"/>
<rect x="1775.4" y="558.2" width="8.2" height="8.2" fill="#c4640a"/>
<rect x="1759.9" y="574.9" width="8.2" height="8.2" fill="#c4640a"/>
<rect x="1883.5" y="548.9" width="8.2" height="8.2" fill="#8dbcf4"/>
<rect x="1868.4" y="574.9" width="8.2" height="8.2" fill="#8dbcf4"/>
<rect x="1883.5" y="578.4" width="8.2" height="8.2" fill="#8dbcf4"/>
<rect x="1868.4" y="601.6" width="8.2" height="8.2" fill="#8dbcf4"/>
<rect x="1899.0" y="594.6" width="8.2" height="8.2" fill="#8dbcf4"/>
<line x1="1723.8" y1="530.2" x2="1805.9" y2="530.2" stroke="#222" stroke-width="2"/>
<line x1="1847.3" y1="583.6" x2="1928.6" y2="583.6" stroke="#222" stroke-width="2"/>
<text x="2180.3" y="386.3" font-size="15.2" text-anchor="middle" font-weight="bold" fill="#111"  textLength="127.8" lengthAdjust="spacingAndGlyphs">Proteobacteria</text>
<text x="2085.8" y="407.7" font-size="15.5" text-anchor="start" font-weight="bold" fill="#111"  textLength="58.0" lengthAdjust="spacingAndGlyphs">Day 10</text>
<text x="2269.4" y="407.7" font-size="15.5" text-anchor="end" font-weight="bold" fill="#111"  textLength="118.9" lengthAdjust="spacingAndGlyphs">p-value: 0.822</text>
<line x1="2036.3" y1="413.6" x2="2036.3" y2="606.7" stroke="#111" stroke-width="2.0"/>
<line x1="2035.3" y1="605.7" x2="2324.7" y2="605.7" stroke="#111" stroke-width="2.0"/>
<line x1="2028.3" y1="413.6" x2="2036.3" y2="413.6" stroke="#111" stroke-width="1.6"/>
<text x="2025.8" y="417.7" font-size="11.3" text-anchor="end" font-weight="bold" fill="#111"  textLength="14.8" lengthAdjust="spacingAndGlyphs">25</text>
<line x1="2028.3" y1="452.1" x2="2036.3" y2="452.1" stroke="#111" stroke-width="1.6"/>
<text x="2025.8" y="456.1" font-size="11.3" text-anchor="end" font-weight="bold" fill="#111"  textLength="14.8" lengthAdjust="spacingAndGlyphs">20</text>
<line x1="2028.3" y1="490.5" x2="2036.3" y2="490.5" stroke="#111" stroke-width="1.6"/>
<text x="2025.8" y="494.5" font-size="11.3" text-anchor="end" font-weight="bold" fill="#111"  textLength="14.8" lengthAdjust="spacingAndGlyphs">15</text>
<line x1="2028.3" y1="528.9" x2="2036.3" y2="528.9" stroke="#111" stroke-width="1.6"/>
<text x="2025.8" y="532.9" font-size="11.3" text-anchor="end" font-weight="bold" fill="#111"  textLength="14.8" lengthAdjust="spacingAndGlyphs">10</text>
<line x1="2028.3" y1="567.3" x2="2036.3" y2="567.3" stroke="#111" stroke-width="1.6"/>
<text x="2025.8" y="571.3" font-size="11.3" text-anchor="end" font-weight="bold" fill="#111"  textLength="7.4" lengthAdjust="spacingAndGlyphs">5</text>
<line x1="2028.3" y1="605.7" x2="2036.3" y2="605.7" stroke="#111" stroke-width="1.6"/>
<text x="2025.8" y="609.8" font-size="11.3" text-anchor="end" font-weight="bold" fill="#111"  textLength="7.4" lengthAdjust="spacingAndGlyphs">0</text>
<line x1="2118.7" y1="605.7" x2="2118.7" y2="613.7" stroke="#111" stroke-width="1.8"/>
<line x1="2242.3" y1="605.7" x2="2242.3" y2="613.7" stroke="#111" stroke-width="1.8"/>
<text x="2093.9" y="627.3" font-size="11.7" text-anchor="start" font-weight="bold" fill="#111"  textLength="43.7" lengthAdjust="spacingAndGlyphs">AnxA1</text>
<text x="2138.6" y="621.3" font-size="7.3" text-anchor="start" fill="#111"  textLength="8.1" lengthAdjust="spacingAndGlyphs">-/-</text>
<text x="2242.3" y="627.3" font-size="11.7" text-anchor="middle" font-weight="bold" fill="#111"  textLength="21.5" lengthAdjust="spacingAndGlyphs">WT</text>
<text x="2180.3" y="658.0" font-size="12.9" text-anchor="middle" font-weight="bold" fill="#111"  textLength="54.0" lengthAdjust="spacingAndGlyphs">Groups</text>
<text x="1996.4" y="508.5" font-size="13.2" font-weight="bold" fill="#111" text-anchor="middle" dy="4.8" textLength="175.4" lengthAdjust="spacingAndGlyphs" transform="rotate(-90 1996.4 508.5)">Relative abundance (%)</text>
<rect x="2109.6" y="449.8" width="8.2" height="8.2" fill="#c4640a"/>
<rect x="2120.1" y="566.0" width="8.2" height="8.2" fill="#c4640a"/>
<rect x="2077.5" y="590.0" width="8.2" height="8.2" fill="#c4640a"/>
<rect x="2088.3" y="589.2" width="8.2" height="8.2" fill="#c4640a"/>
<rect x="2099.2" y="595.0" width="8.2" height="8.2" fill="#c4640a"/>
<rect x="2109.6" y="583.4" width="8.2" height="8.2" fill="#c4640a"/>
<rect x="2109.6" y="593.1" width="8.2" height="8.2" fill="#c4640a"/>
<rect x="2120.1" y="590.4" width="8.2" height="8.2" fill="#c4640a"/>
<rect x="2130.9" y="584.6" width="8.2" height="8.2" fill="#c4640a"/>
<rect x="2130.9" y="595.0" width="8.2" height="8.2" fill="#c4640a"/>
<rect x="2141.4" y="589.2" width="8.2" height="8.2" fill="#c4640a"/>
<rect x="2152.2" y="584.2" width="8.2" height="8.2" fill="#c4640a"/>
<rect x="2152.2" y="595.8" width="8.2" height="8.2" fill="#c4640a"/>
<rect x="2077.5" y="598.9" width="8.2" height="8.2" fill="#c4640a"/>
<rect x="2120.1" y="601.6" width="8.2" height="8.2" fill="#c4640a"/>
<rect x="2141.4" y="600.1" width="8.2" height="8.2" fill="#c4640a"/>
<rect x="2238.2" y="533.8" width="8.2" height="8.2" fill="#8dbcf4"/>
<rect x="2238.2" y="545.5" width="8.2" height="8.2" fill="#8dbcf4"/>
<rect x="2225.8" y="572.6" width="8.2" height="8.2" fill="#8dbcf4"/>
<rect x="2238.2" y="573.7" width="8.2" height="8.2" fill="#8dbcf4"/>
<rect x="2238.2" y="581.5" width="8.2" height="8.2" fill="#8dbcf4"/>
<rect x="2250.9" y="575.7" width="8.2" height="8.2" fill="#8dbcf4"/>
<rect x="2262.6" y="570.6" width="8.2" height="8.2" fill="#8dbcf4"/>
<rect x="2201.4" y="598.9" width="8.2" height="8.2" fill="#8dbcf4"/>
<rect x="2213.4" y="595.8" width="8.2" height="8.2" fill="#8dbcf4"/>
<rect x="2225.8" y="598.1" width="8.2" height="8.2" fill="#8dbcf4"/>
<rect x="2238.2" y="597.0" width="8.2" height="8.2" fill="#8dbcf4"/>
<rect x="2250.9" y="601.2" width="8.2" height="8.2" fill="#8dbcf4"/>
<rect x="2262.6" y="598.1" width="8.2" height="8.2" fill="#8dbcf4"/>
<rect x="2275.3" y="599.7" width="8.2" height="8.2" fill="#8dbcf4"/>
<line x1="2076.9" y1="585.6" x2="2156.3" y2="585.6" stroke="#222" stroke-width="2"/>
<line x1="2200.8" y1="585.2" x2="2282.9" y2="585.2" stroke="#222" stroke-width="2"/>
<text x="1512.0" y="728.8" font-size="17.4" text-anchor="middle" font-weight="bold" fill="#111"  textLength="148.3" lengthAdjust="spacingAndGlyphs">Deferribacterota</text>
<text x="1427.3" y="745.4" font-size="16.0" text-anchor="start" font-weight="bold" fill="#111"  textLength="42.0" lengthAdjust="spacingAndGlyphs">Day 0</text>
<text x="1606.9" y="745.4" font-size="16.0" text-anchor="end" font-weight="bold" fill="#111"  textLength="116.7" lengthAdjust="spacingAndGlyphs">p-value <0.0001</text>
<line x1="1362.3" y1="738.9" x2="1362.3" y2="937.8" stroke="#111" stroke-width="2.0"/>
<line x1="1361.3" y1="936.8" x2="1663.6" y2="936.8" stroke="#111" stroke-width="2.0"/>
<line x1="1354.3" y1="738.9" x2="1362.3" y2="738.9" stroke="#111" stroke-width="1.6"/>
<text x="1351.8" y="743.3" font-size="12.3" text-anchor="end" font-weight="bold" fill="#111"  textLength="16.1" lengthAdjust="spacingAndGlyphs">15</text>
<line x1="1354.3" y1="778.5" x2="1362.3" y2="778.5" stroke="#111" stroke-width="1.6"/>
<text x="1351.8" y="782.9" font-size="12.3" text-anchor="end" font-weight="bold" fill="#111"  textLength="16.1" lengthAdjust="spacingAndGlyphs">12</text>
<line x1="1354.3" y1="818.1" x2="1362.3" y2="818.1" stroke="#111" stroke-width="1.6"/>
<text x="1351.8" y="822.5" font-size="12.3" text-anchor="end" font-weight="bold" fill="#111"  textLength="8.1" lengthAdjust="spacingAndGlyphs">9</text>
<line x1="1354.3" y1="857.6" x2="1362.3" y2="857.6" stroke="#111" stroke-width="1.6"/>
<text x="1351.8" y="862.1" font-size="12.3" text-anchor="end" font-weight="bold" fill="#111"  textLength="8.1" lengthAdjust="spacingAndGlyphs">6</text>
<line x1="1354.3" y1="897.2" x2="1362.3" y2="897.2" stroke="#111" stroke-width="1.6"/>
<text x="1351.8" y="901.6" font-size="12.3" text-anchor="end" font-weight="bold" fill="#111"  textLength="8.1" lengthAdjust="spacingAndGlyphs">3</text>
<line x1="1354.3" y1="936.8" x2="1362.3" y2="936.8" stroke="#111" stroke-width="1.6"/>
<text x="1351.8" y="941.2" font-size="12.3" text-anchor="end" font-weight="bold" fill="#111"  textLength="8.1" lengthAdjust="spacingAndGlyphs">0</text>
<line x1="1447.9" y1="936.8" x2="1447.9" y2="944.8" stroke="#111" stroke-width="1.8"/>
<line x1="1576.4" y1="936.8" x2="1576.4" y2="944.8" stroke="#111" stroke-width="1.8"/>
<text x="1422.0" y="959.8" font-size="12.3" text-anchor="start" font-weight="bold" fill="#111"  textLength="45.9" lengthAdjust="spacingAndGlyphs">AnxA1</text>
<text x="1468.9" y="953.8" font-size="7.6" text-anchor="start" fill="#111"  textLength="8.5" lengthAdjust="spacingAndGlyphs">-/-</text>
<text x="1576.4" y="959.8" font-size="12.3" text-anchor="middle" font-weight="bold" fill="#111"  textLength="22.5" lengthAdjust="spacingAndGlyphs">WT</text>
<text x="1512.0" y="990.9" font-size="14.0" text-anchor="middle" font-weight="bold" fill="#111"  textLength="58.7" lengthAdjust="spacingAndGlyphs">Groups</text>
<text x="1319.4" y="837.3" font-size="13.6" font-weight="bold" fill="#111" text-anchor="middle" dy="4.9" textLength="180.2" lengthAdjust="spacingAndGlyphs" transform="rotate(-90 1319.4 837.3)">Relative abundance (%)</text>
<rect x="1443.8" y="911.1" width="8.2" height="8.2" fill="#c4640a"/>
<rect x="1402.5" y="926.2" width="8.2" height="8.2" fill="#c4640a"/>
<rect x="1406.6" y="929.2" width="8.2" height="8.2" fill="#c4640a"/>
<rect x="1410.7" y="929.2" width="8.2" height="8.2" fill="#c4640a"/>
<rect x="1414.9" y="926.2" width="8.2" height="8.2" fill="#c4640a"/>
<rect x="1419.0" y="929.2" width="8.2" height="8.2" fill="#c4640a"/>
<rect x="1423.2" y="929.2" width="8.2" height="8.2" fill="#c4640a"/>
<rect x="1427.3" y="926.2" width="8.2" height="8.2" fill="#c4640a"/>
<rect x="1431.4" y="929.2" width="8.2" height="8.2" fill="#c4640a"/>
<rect x="1435.6" y="929.2" width="8.2" height="8.2" fill="#c4640a"/>
<rect x="1439.7" y="926.2" width="8.2" height="8.2" fill="#c4640a"/>
<rect x="1443.8" y="929.2" width="8.2" height="8.2" fill="#c4640a"/>
<rect x="1448.0" y="929.2" width="8.2" height="8.2" fill="#c4640a"/>
<rect x="1452.1" y="926.2" width="8.2" height="8.2" fill="#c4640a"/>
<rect x="1456.2" y="929.2" width="8.2" height="8.2" fill="#c4640a"/>
<rect x="1460.4" y="929.2" width="8.2" height="8.2" fill="#c4640a"/>
<rect x="1464.5" y="926.2" width="8.2" height="8.2" fill="#c4640a"/>
<rect x="1468.6" y="929.2" width="8.2" height="8.2" fill="#c4640a"/>
<rect x="1472.8" y="929.2" width="8.2" height="8.2" fill="#c4640a"/>
<rect x="1476.9" y="926.2" width="8.2" height="8.2" fill="#c4640a"/>
<rect x="1481.1" y="929.2" width="8.2" height="8.2" fill="#c4640a"/>
<rect x="1485.2" y="929.2" width="8.2" height="8.2" fill="#c4640a"/>
<rect x="1411.3" y="930.6" width="8.2" height="8.2" fill="#c4640a"/>
<rect x="1426.1" y="930.6" width="8.2" height="8.2" fill="#c4640a"/>
<rect x="1452.7" y="930.1" width="8.2" height="8.2" fill="#c4640a"/>
<rect x="1470.4" y="930.6" width="8.2" height="8.2" fill="#c4640a"/>
<rect x="1580.6" y="755.8" width="8.2" height="8.2" fill="#8dbcf4"/>
<rect x="1580.6" y="793.3" width="8.2" height="8.2" fill="#8dbcf4"/>
<rect x="1565.0" y="838.2" width="8.2" height="8.2" fill="#8dbcf4"/>
<rect x="1580.6" y="835.2" width="8.2" height="8.2" fill="#8dbcf4"/>
<rect x="1565.0" y="858.3" width="8.2" height="8.2" fill="#8dbcf4"/>
<rect x="1565.0" y="867.4" width="8.2" height="8.2" fill="#8dbcf4"/>
<rect x="1580.6" y="862.4" width="8.2" height="8.2" fill="#8dbcf4"/>
<rect x="1580.6" y="880.4" width="8.2" height="8.2" fill="#8dbcf4"/>
<rect x="1580.6" y="890.8" width="8.2" height="8.2" fill="#8dbcf4"/>
<rect x="1565.0" y="884.3" width="8.2" height="8.2" fill="#8dbcf4"/>
<rect x="1596.9" y="882.8" width="8.2" height="8.2" fill="#8dbcf4"/>
<rect x="1548.7" y="901.1" width="8.2" height="8.2" fill="#8dbcf4"/>
<rect x="1548.7" y="909.1" width="8.2" height="8.2" fill="#8dbcf4"/>
<rect x="1565.0" y="909.1" width="8.2" height="8.2" fill="#8dbcf4"/>
<rect x="1580.6" y="909.1" width="8.2" height="8.2" fill="#8dbcf4"/>
<rect x="1596.9" y="901.7" width="8.2" height="8.2" fill="#8dbcf4"/>
<rect x="1596.9" y="915.3" width="8.2" height="8.2" fill="#8dbcf4"/>
<rect x="1548.7" y="921.8" width="8.2" height="8.2" fill="#8dbcf4"/>
<rect x="1580.6" y="918.5" width="8.2" height="8.2" fill="#8dbcf4"/>
<rect x="1548.7" y="932.1" width="8.2" height="8.2" fill="#8dbcf4"/>
<rect x="1565.0" y="928.3" width="8.2" height="8.2" fill="#8dbcf4"/>
<rect x="1580.6" y="930.1" width="8.2" height="8.2" fill="#8dbcf4"/>
<rect x="1596.9" y="929.2" width="8.2" height="8.2" fill="#8dbcf4"/>
<line x1="1405.1" y1="935.6" x2="1490.8" y2="935.6" stroke="#222" stroke-width="2"/>
<line x1="1534.2" y1="889.2" x2="1619.3" y2="889.2" stroke="#222" stroke-width="2"/>
<text x="1857.8" y="726.0" font-size="15.2" text-anchor="middle" font-weight="bold" fill="#111"  textLength="134.8" lengthAdjust="spacingAndGlyphs">Deferribacterota</text>
<text x="1779.5" y="745.5" font-size="15.5" text-anchor="start" font-weight="bold" fill="#111"  textLength="42.0" lengthAdjust="spacingAndGlyphs">Day 6</text>
<text x="1946.0" y="745.5" font-size="15.5" text-anchor="end" font-weight="bold" fill="#111"  textLength="104.2" lengthAdjust="spacingAndGlyphs">p-value: 0.186</text>
<line x1="1720.7" y1="751.0" x2="1720.7" y2="934.0" stroke="#111" stroke-width="2.0"/>
<line x1="1719.7" y1="933.0" x2="1994.4" y2="933.0" stroke="#111" stroke-width="2.0"/>
<line x1="1712.7" y1="751.0" x2="1720.7" y2="751.0" stroke="#111" stroke-width="1.6"/>
<text x="1710.2" y="755.1" font-size="11.3" text-anchor="end" font-weight="bold" fill="#111"  textLength="18.5" lengthAdjust="spacingAndGlyphs">1.5</text>
<line x1="1712.7" y1="811.7" x2="1720.7" y2="811.7" stroke="#111" stroke-width="1.6"/>
<text x="1710.2" y="815.7" font-size="11.3" text-anchor="end" font-weight="bold" fill="#111"  textLength="18.5" lengthAdjust="spacingAndGlyphs">1.0</text>
<line x1="1712.7" y1="872.3" x2="1720.7" y2="872.3" stroke="#111" stroke-width="1.6"/>
<text x="1710.2" y="876.4" font-size="11.3" text-anchor="end" font-weight="bold" fill="#111"  textLength="18.5" lengthAdjust="spacingAndGlyphs">0.5</text>
<line x1="1712.7" y1="933.0" x2="1720.7" y2="933.0" stroke="#111" stroke-width="1.6"/>
<text x="1710.2" y="937.0" font-size="11.3" text-anchor="end" font-weight="bold" fill="#111"  textLength="18.5" lengthAdjust="spacingAndGlyphs">0.0</text>
<line x1="1799.3" y1="933.0" x2="1799.3" y2="941.0" stroke="#111" stroke-width="1.8"/>
<line x1="1916.2" y1="933.0" x2="1916.2" y2="941.0" stroke="#111" stroke-width="1.8"/>
<text x="1774.4" y="954.6" font-size="11.7" text-anchor="start" font-weight="bold" fill="#111"  textLength="43.7" lengthAdjust="spacingAndGlyphs">AnxA1</text>
<text x="1819.1" y="948.6" font-size="7.3" text-anchor="start" fill="#111"  textLength="8.1" lengthAdjust="spacingAndGlyphs">-/-</text>
<text x="1916.2" y="954.6" font-size="11.7" text-anchor="middle" font-weight="bold" fill="#111"  textLength="21.5" lengthAdjust="spacingAndGlyphs">WT</text>
<text x="1857.0" y="983.3" font-size="12.9" text-anchor="middle" font-weight="bold" fill="#111"  textLength="54.0" lengthAdjust="spacingAndGlyphs">Groups</text>
<text x="1678.9" y="842.0" font-size="12.6" font-weight="bold" fill="#111" text-anchor="middle" dy="4.5" textLength="166.5" lengthAdjust="spacingAndGlyphs" transform="rotate(-90 1678.9 842.0)">Relative abundance (%)</text>
<rect x="1810.3" y="847.6" width="8.2" height="8.2" fill="#c4640a"/>
<rect x="1795.2" y="854.5" width="8.2" height="8.2" fill="#c4640a"/>
<rect x="1810.3" y="877.0" width="8.2" height="8.2" fill="#c4640a"/>
<rect x="1795.2" y="882.8" width="8.2" height="8.2" fill="#c4640a"/>
<rect x="1780.5" y="898.7" width="8.2" height="8.2" fill="#c4640a"/>
<rect x="1795.2" y="892.9" width="8.2" height="8.2" fill="#c4640a"/>
<rect x="1795.2" y="900.6" width="8.2" height="8.2" fill="#c4640a"/>
<rect x="1810.3" y="903.7" width="8.2" height="8.2" fill="#c4640a"/>
<rect x="1780.5" y="908.8" width="8.2" height="8.2" fill="#c4640a"/>
<rect x="1810.3" y="914.2" width="8.2" height="8.2" fill="#c4640a"/>
<rect x="1780.5" y="919.6" width="8.2" height="8.2" fill="#c4640a"/>
<rect x="1795.2" y="921.9" width="8.2" height="8.2" fill="#c4640a"/>
<rect x="1780.5" y="928.9" width="8.2" height="8.2" fill="#c4640a"/>
<rect x="1810.3" y="927.0" width="8.2" height="8.2" fill="#c4640a"/>
<rect x="1912.1" y="765.5" width="8.2" height="8.2" fill="#8dbcf4"/>
<rect x="1912.1" y="824.7" width="8.2" height="8.2" fill="#8dbcf4"/>
<rect x="1897.4" y="895.2" width="8.2" height="8.2" fill="#8dbcf4"/>
<rect x="1926.8" y="896.4" width="8.2" height="8.2" fill="#8dbcf4"/>
<rect x="1912.1" y="915.7" width="8.2" height="8.2" fill="#8dbcf4"/>
<line x1="1760.6" y1="902.8" x2="1838.0" y2="902.8" stroke="#222" stroke-width="2"/>
<line x1="1877.5" y1="863.3" x2="1954.9" y2="863.3" stroke="#222" stroke-width="2"/>
<text x="2190.0" y="726.0" font-size="15.2" text-anchor="middle" font-weight="bold" fill="#111"  textLength="136.3" lengthAdjust="spacingAndGlyphs">Deferribacterota</text>
<text x="2107.9" y="745.5" font-size="15.5" text-anchor="start" font-weight="bold" fill="#111"  textLength="52.4" lengthAdjust="spacingAndGlyphs">Day 10</text>
<text x="2274.4" y="745.5" font-size="15.5" text-anchor="end" font-weight="bold" fill="#111"  textLength="107.5" lengthAdjust="spacingAndGlyphs">p-value: 0.854</text>
<line x1="2051.8" y1="751.8" x2="2051.8" y2="836.2" stroke="#111" stroke-width="2.0"/>
<line x1="2051.8" y1="850.5" x2="2051.8" y2="936.5" stroke="#111" stroke-width="2.0"/>
<line x1="2050.8" y1="936.1" x2="2329.4" y2="936.1" stroke="#111" stroke-width="2.0"/>
<line x1="2043.8" y1="751.8" x2="2051.8" y2="751.8" stroke="#111" stroke-width="1.6"/>
<text x="2041.3" y="755.8" font-size="11.3" text-anchor="end" font-weight="bold" fill="#111"  textLength="14.8" lengthAdjust="spacingAndGlyphs">30</text>
<line x1="2043.8" y1="802.5" x2="2051.8" y2="802.5" stroke="#111" stroke-width="1.6"/>
<text x="2041.3" y="806.6" font-size="11.3" text-anchor="end" font-weight="bold" fill="#111"  textLength="14.8" lengthAdjust="spacingAndGlyphs">15</text>
<line x1="2043.8" y1="850.5" x2="2051.8" y2="850.5" stroke="#111" stroke-width="1.6"/>
<text x="2041.3" y="854.6" font-size="11.3" text-anchor="end" font-weight="bold" fill="#111"  textLength="7.4" lengthAdjust="spacingAndGlyphs">3</text>
<line x1="2043.8" y1="878.8" x2="2051.8" y2="878.8" stroke="#111" stroke-width="1.6"/>
<text x="2041.3" y="882.8" font-size="11.3" text-anchor="end" font-weight="bold" fill="#111"  textLength="7.4" lengthAdjust="spacingAndGlyphs">2</text>
<line x1="2043.8" y1="907.4" x2="2051.8" y2="907.4" stroke="#111" stroke-width="1.6"/>
<text x="2041.3" y="911.5" font-size="11.3" text-anchor="end" font-weight="bold" fill="#111"  textLength="7.4" lengthAdjust="spacingAndGlyphs">1</text>
<line x1="2043.8" y1="936.1" x2="2051.8" y2="936.1" stroke="#111" stroke-width="1.6"/>
<text x="2041.3" y="940.1" font-size="11.3" text-anchor="end" font-weight="bold" fill="#111"  textLength="7.4" lengthAdjust="spacingAndGlyphs">0</text>
<line x1="2131.1" y1="936.1" x2="2131.1" y2="944.1" stroke="#111" stroke-width="1.8"/>
<line x1="2249.2" y1="936.1" x2="2249.2" y2="944.1" stroke="#111" stroke-width="1.8"/>
<text x="2106.3" y="957.3" font-size="11.7" text-anchor="start" font-weight="bold" fill="#111"  textLength="43.7" lengthAdjust="spacingAndGlyphs">AnxA1</text>
<text x="2151.0" y="951.3" font-size="7.3" text-anchor="start" fill="#111"  textLength="8.1" lengthAdjust="spacingAndGlyphs">-/-</text>
<text x="2249.2" y="957.3" font-size="11.7" text-anchor="middle" font-weight="bold" fill="#111"  textLength="21.5" lengthAdjust="spacingAndGlyphs">WT</text>
<text x="2189.2" y="986.4" font-size="12.9" text-anchor="middle" font-weight="bold" fill="#111"  textLength="54.0" lengthAdjust="spacingAndGlyphs">Groups</text>
<text x="2012.3" y="842.8" font-size="12.7" font-weight="bold" fill="#111" text-anchor="middle" dy="4.6" textLength="168.4" lengthAdjust="spacingAndGlyphs" transform="rotate(-90 2012.3 842.8)">Relative abundance (%)</text>
<rect x="2127.0" y="767.8" width="8.2" height="8.2" fill="#c4640a"/>
<rect x="2127.0" y="812.7" width="8.2" height="8.2" fill="#c4640a"/>
<rect x="2127.0" y="829.0" width="8.2" height="8.2" fill="#c4640a"/>
<rect x="2127.0" y="888.6" width="8.2" height="8.2" fill="#c4640a"/>
<rect x="2138.6" y="886.7" width="8.2" height="8.2" fill="#c4640a"/>
<rect x="2103.0" y="917.3" width="8.2" height="8.2" fill="#c4640a"/>
<rect x="2115.4" y="914.2" width="8.2" height="8.2" fill="#c4640a"/>
<rect x="2127.0" y="915.7" width="8.2" height="8.2" fill="#c4640a"/>
<rect x="2103.0" y="925.8" width="8.2" height="8.2" fill="#c4640a"/>
<rect x="2138.6" y="920.0" width="8.2" height="8.2" fill="#c4640a"/>
<rect x="2091.4" y="930.1" width="8.2" height="8.2" fill="#c4640a"/>
<rect x="2115.4" y="929.7" width="8.2" height="8.2" fill="#c4640a"/>
<rect x="2127.0" y="927.0" width="8.2" height="8.2" fill="#c4640a"/>
<rect x="2138.6" y="931.6" width="8.2" height="8.2" fill="#c4640a"/>
<rect x="2151.0" y="927.7" width="8.2" height="8.2" fill="#c4640a"/>
<rect x="2162.7" y="930.8" width="8.2" height="8.2" fill="#c4640a"/>
<rect x="2250.2" y="798.8" width="8.2" height="8.2" fill="#8dbcf4"/>
<rect x="2240.1" y="832.1" width="8.2" height="8.2" fill="#8dbcf4"/>
<rect x="2250.2" y="895.2" width="8.2" height="8.2" fill="#8dbcf4"/>
<rect x="2240.1" y="916.1" width="8.2" height="8.2" fill="#8dbcf4"/>
<rect x="2250.2" y="912.6" width="8.2" height="8.2" fill="#8dbcf4"/>
<rect x="2250.2" y="921.9" width="8.2" height="8.2" fill="#8dbcf4"/>
<rect x="2240.1" y="925.0" width="8.2" height="8.2" fill="#8dbcf4"/>
<rect x="2220.0" y="924.2" width="8.2" height="8.2" fill="#8dbcf4"/>
<rect x="2229.6" y="925.0" width="8.2" height="8.2" fill="#8dbcf4"/>
<rect x="2209.1" y="928.1" width="8.2" height="8.2" fill="#8dbcf4"/>
<rect x="2260.6" y="925.8" width="8.2" height="8.2" fill="#8dbcf4"/>
<rect x="2270.3" y="928.9" width="8.2" height="8.2" fill="#8dbcf4"/>
<rect x="2280.8" y="927.7" width="8.2" height="8.2" fill="#8dbcf4"/>
<rect x="2250.2" y="930.8" width="8.2" height="8.2" fill="#8dbcf4"/>
<line x1="2092.4" y1="851.7" x2="2169.9" y2="851.7" stroke="#222" stroke-width="2"/>
<line x1="2210.5" y1="886.1" x2="2288.7" y2="886.1" stroke="#222" stroke-width="2"/>
<line x1="2046.8" y1="836.2" x2="2052.8" y2="836.2" stroke="#111" stroke-width="1.6"/><line x1="2046.8" y1="850.5" x2="2052.8" y2="850.5" stroke="#111" stroke-width="1.6"/>
<text x="1475.3" y="1057.6" font-size="13.3" text-anchor="middle" font-weight="bold" fill="#111"  textLength="137.4" lengthAdjust="spacingAndGlyphs">Campilobacterota</text>
<text x="1395.3" y="1070.8" font-size="13.0" text-anchor="start" font-weight="bold" fill="#111"  textLength="38.7" lengthAdjust="spacingAndGlyphs">Day 0</text>
<text x="1558.7" y="1070.8" font-size="13.0" text-anchor="end" font-weight="bold" fill="#111"  textLength="107.7" lengthAdjust="spacingAndGlyphs">p-value <0.0001</text>
<line x1="1350.4" y1="1066.5" x2="1350.4" y2="1235.3" stroke="#111" stroke-width="2.0"/>
<line x1="1349.4" y1="1234.3" x2="1602.1" y2="1234.3" stroke="#111" stroke-width="2.0"/>
<line x1="1342.4" y1="1066.5" x2="1350.4" y2="1066.5" stroke="#111" stroke-width="1.6"/>
<text x="1339.9" y="1070.3" font-size="10.6" text-anchor="end" font-weight="bold" fill="#111"  textLength="13.9" lengthAdjust="spacingAndGlyphs">16</text>
<line x1="1342.4" y1="1108.4" x2="1350.4" y2="1108.4" stroke="#111" stroke-width="1.6"/>
<text x="1339.9" y="1112.2" font-size="10.6" text-anchor="end" font-weight="bold" fill="#111"  textLength="13.9" lengthAdjust="spacingAndGlyphs">12</text>
<line x1="1342.4" y1="1150.4" x2="1350.4" y2="1150.4" stroke="#111" stroke-width="1.6"/>
<text x="1339.9" y="1154.2" font-size="10.6" text-anchor="end" font-weight="bold" fill="#111"  textLength="7.0" lengthAdjust="spacingAndGlyphs">8</text>
<line x1="1342.4" y1="1192.3" x2="1350.4" y2="1192.3" stroke="#111" stroke-width="1.6"/>
<text x="1339.9" y="1196.1" font-size="10.6" text-anchor="end" font-weight="bold" fill="#111"  textLength="7.0" lengthAdjust="spacingAndGlyphs">4</text>
<line x1="1342.4" y1="1234.3" x2="1350.4" y2="1234.3" stroke="#111" stroke-width="1.6"/>
<text x="1339.9" y="1238.1" font-size="10.6" text-anchor="end" font-weight="bold" fill="#111"  textLength="7.0" lengthAdjust="spacingAndGlyphs">0</text>
<line x1="1421.3" y1="1234.3" x2="1421.3" y2="1242.3" stroke="#111" stroke-width="1.8"/>
<line x1="1529.2" y1="1234.3" x2="1529.2" y2="1242.3" stroke="#111" stroke-width="1.8"/>
<text x="1397.3" y="1254.6" font-size="11.3" text-anchor="start" font-weight="bold" fill="#111"  textLength="42.1" lengthAdjust="spacingAndGlyphs">AnxA1</text>
<text x="1440.4" y="1248.6" font-size="7.0" text-anchor="start" fill="#111"  textLength="7.8" lengthAdjust="spacingAndGlyphs">-/-</text>
<text x="1529.2" y="1254.6" font-size="11.3" text-anchor="middle" font-weight="bold" fill="#111"  textLength="20.7" lengthAdjust="spacingAndGlyphs">WT</text>
<text x="1475.1" y="1280.6" font-size="12.3" text-anchor="middle" font-weight="bold" fill="#111"  textLength="51.6" lengthAdjust="spacingAndGlyphs">Groups</text>
<text x="1314.1" y="1149.2" font-size="11.6" font-weight="bold" fill="#111" text-anchor="middle" dy="4.2" textLength="153.6" lengthAdjust="spacingAndGlyphs" transform="rotate(-90 1314.1 1149.2)">Relative abundance (%)</text>
<rect x="1417.2" y="1184.1" width="8.2" height="8.2" fill="#c4640a"/>
<rect x="1416.4" y="1210.7" width="8.2" height="8.2" fill="#c4640a"/>
<rect x="1419.3" y="1215.1" width="8.2" height="8.2" fill="#c4640a"/>
<rect x="1384.7" y="1226.3" width="8.2" height="8.2" fill="#c4640a"/>
<rect x="1388.1" y="1229.3" width="8.2" height="8.2" fill="#c4640a"/>
<rect x="1391.5" y="1226.3" width="8.2" height="8.2" fill="#c4640a"/>
<rect x="1394.9" y="1229.3" width="8.2" height="8.2" fill="#c4640a"/>
<rect x="1398.3" y="1226.3" width="8.2" height="8.2" fill="#c4640a"/>
<rect x="1401.7" y="1229.3" width="8.2" height="8.2" fill="#c4640a"/>
<rect x="1405.1" y="1226.3" width="8.2" height="8.2" fill="#c4640a"/>
<rect x="1408.5" y="1229.3" width="8.2" height="8.2" fill="#c4640a"/>
<rect x="1411.9" y="1226.3" width="8.2" height="8.2" fill="#c4640a"/>
<rect x="1415.3" y="1229.3" width="8.2" height="8.2" fill="#c4640a"/>
<rect x="1418.7" y="1226.3" width="8.2" height="8.2" fill="#c4640a"/>
<rect x="1422.1" y="1229.3" width="8.2" height="8.2" fill="#c4640a"/>
<rect x="1425.5" y="1226.3" width="8.2" height="8.2" fill="#c4640a"/>
<rect x="1428.9" y="1229.3" width="8.2" height="8.2" fill="#c4640a"/>
<rect x="1432.3" y="1226.3" width="8.2" height="8.2" fill="#c4640a"/>
<rect x="1435.7" y="1229.3" width="8.2" height="8.2" fill="#c4640a"/>
<rect x="1439.1" y="1226.3" width="8.2" height="8.2" fill="#c4640a"/>
<rect x="1442.5" y="1229.3" width="8.2" height="8.2" fill="#c4640a"/>
<rect x="1445.9" y="1226.3" width="8.2" height="8.2" fill="#c4640a"/>
<rect x="1449.3" y="1229.3" width="8.2" height="8.2" fill="#c4640a"/>
<rect x="1387.7" y="1224.0" width="8.2" height="8.2" fill="#c4640a"/>
<rect x="1398.0" y="1225.7" width="8.2" height="8.2" fill="#c4640a"/>
<rect x="1426.1" y="1224.9" width="8.2" height="8.2" fill="#c4640a"/>
<rect x="1435.0" y="1224.0" width="8.2" height="8.2" fill="#c4640a"/>
<rect x="1449.7" y="1227.8" width="8.2" height="8.2" fill="#c4640a"/>
<rect x="1530.1" y="1079.5" width="8.2" height="8.2" fill="#8dbcf4"/>
<rect x="1530.1" y="1124.1" width="8.2" height="8.2" fill="#8dbcf4"/>
<rect x="1520.6" y="1154.0" width="8.2" height="8.2" fill="#8dbcf4"/>
<rect x="1511.8" y="1191.5" width="8.2" height="8.2" fill="#8dbcf4"/>
<rect x="1520.6" y="1189.4" width="8.2" height="8.2" fill="#8dbcf4"/>
<rect x="1530.1" y="1192.4" width="8.2" height="8.2" fill="#8dbcf4"/>
<rect x="1539.3" y="1195.3" width="8.2" height="8.2" fill="#8dbcf4"/>
<rect x="1530.1" y="1199.7" width="8.2" height="8.2" fill="#8dbcf4"/>
<rect x="1520.6" y="1203.3" width="8.2" height="8.2" fill="#8dbcf4"/>
<rect x="1539.3" y="1204.2" width="8.2" height="8.2" fill="#8dbcf4"/>
<rect x="1493.5" y="1208.6" width="8.2" height="8.2" fill="#8dbcf4"/>
<rect x="1557.9" y="1206.5" width="8.2" height="8.2" fill="#8dbcf4"/>
<rect x="1539.3" y="1211.0" width="8.2" height="8.2" fill="#8dbcf4"/>
<rect x="1502.3" y="1214.5" width="8.2" height="8.2" fill="#8dbcf4"/>
<rect x="1493.5" y="1217.5" width="8.2" height="8.2" fill="#8dbcf4"/>
<rect x="1511.8" y="1216.0" width="8.2" height="8.2" fill="#8dbcf4"/>
<rect x="1520.6" y="1216.0" width="8.2" height="8.2" fill="#8dbcf4"/>
<rect x="1530.1" y="1213.6" width="8.2" height="8.2" fill="#8dbcf4"/>
<rect x="1548.7" y="1216.0" width="8.2" height="8.2" fill="#8dbcf4"/>
<rect x="1557.9" y="1216.0" width="8.2" height="8.2" fill="#8dbcf4"/>
<rect x="1530.1" y="1221.0" width="8.2" height="8.2" fill="#8dbcf4"/>
<rect x="1539.3" y="1219.8" width="8.2" height="8.2" fill="#8dbcf4"/>
<rect x="1511.8" y="1224.9" width="8.2" height="8.2" fill="#8dbcf4"/>
<line x1="1385.9" y1="1229.5" x2="1456.8" y2="1229.5" stroke="#222" stroke-width="2"/>
<line x1="1494.3" y1="1201.5" x2="1565.5" y2="1201.5" stroke="#222" stroke-width="2"/>
<text x="1839.0" y="1056.8" font-size="13.3" text-anchor="middle" font-weight="bold" fill="#111"  textLength="139.0" lengthAdjust="spacingAndGlyphs">Campilobacterota</text>
<text x="1763.3" y="1071.0" font-size="13.0" text-anchor="start" font-weight="bold" fill="#111"  textLength="38.9" lengthAdjust="spacingAndGlyphs">Day 6</text>
<text x="1915.5" y="1071.0" font-size="13.0" text-anchor="end" font-weight="bold" fill="#111"  textLength="96.4" lengthAdjust="spacingAndGlyphs">p-value: 0.010</text>
<line x1="1711.8" y1="1080.9" x2="1711.8" y2="1251.9" stroke="#111" stroke-width="2.0"/>
<line x1="1710.8" y1="1250.9" x2="1966.6" y2="1250.9" stroke="#111" stroke-width="2.0"/>
<line x1="1703.8" y1="1080.9" x2="1711.8" y2="1080.9" stroke="#111" stroke-width="1.6"/>
<text x="1701.3" y="1084.7" font-size="10.6" text-anchor="end" font-weight="bold" fill="#111"  textLength="7.0" lengthAdjust="spacingAndGlyphs">4</text>
<line x1="1703.8" y1="1123.4" x2="1711.8" y2="1123.4" stroke="#111" stroke-width="1.6"/>
<text x="1701.3" y="1127.2" font-size="10.6" text-anchor="end" font-weight="bold" fill="#111"  textLength="7.0" lengthAdjust="spacingAndGlyphs">3</text>
<line x1="1703.8" y1="1165.9" x2="1711.8" y2="1165.9" stroke="#111" stroke-width="1.6"/>
<text x="1701.3" y="1169.7" font-size="10.6" text-anchor="end" font-weight="bold" fill="#111"  textLength="7.0" lengthAdjust="spacingAndGlyphs">2</text>
<line x1="1703.8" y1="1208.4" x2="1711.8" y2="1208.4" stroke="#111" stroke-width="1.6"/>
<text x="1701.3" y="1212.2" font-size="10.6" text-anchor="end" font-weight="bold" fill="#111"  textLength="7.0" lengthAdjust="spacingAndGlyphs">1</text>
<line x1="1703.8" y1="1250.9" x2="1711.8" y2="1250.9" stroke="#111" stroke-width="1.6"/>
<text x="1701.3" y="1254.7" font-size="10.6" text-anchor="end" font-weight="bold" fill="#111"  textLength="7.0" lengthAdjust="spacingAndGlyphs">0</text>
<line x1="1784.2" y1="1250.9" x2="1784.2" y2="1258.9" stroke="#111" stroke-width="1.8"/>
<line x1="1893.0" y1="1250.9" x2="1893.0" y2="1258.9" stroke="#111" stroke-width="1.8"/>
<text x="1760.1" y="1271.2" font-size="11.3" text-anchor="start" font-weight="bold" fill="#111"  textLength="42.1" lengthAdjust="spacingAndGlyphs">AnxA1</text>
<text x="1803.2" y="1265.2" font-size="7.0" text-anchor="start" fill="#111"  textLength="7.8" lengthAdjust="spacingAndGlyphs">-/-</text>
<text x="1893.0" y="1271.2" font-size="11.3" text-anchor="middle" font-weight="bold" fill="#111"  textLength="20.7" lengthAdjust="spacingAndGlyphs">WT</text>
<text x="1838.8" y="1297.6" font-size="12.3" text-anchor="middle" font-weight="bold" fill="#111"  textLength="51.6" lengthAdjust="spacingAndGlyphs">Groups</text>
<text x="1681.2" y="1165.7" font-size="11.7" font-weight="bold" fill="#111" text-anchor="middle" dy="4.2" textLength="154.9" lengthAdjust="spacingAndGlyphs" transform="rotate(-90 1681.2 1165.7)">Relative abundance (%)</text>
<rect x="1783.6" y="1113.2" width="8.2" height="8.2" fill="#c4640a"/>
<rect x="1775.8" y="1151.2" width="8.2" height="8.2" fill="#c4640a"/>
<rect x="1761.9" y="1229.0" width="8.2" height="8.2" fill="#c4640a"/>
<rect x="1747.6" y="1237.5" width="8.2" height="8.2" fill="#c4640a"/>
<rect x="1754.5" y="1236.8" width="8.2" height="8.2" fill="#c4640a"/>
<rect x="1761.9" y="1240.2" width="8.2" height="8.2" fill="#c4640a"/>
<rect x="1768.9" y="1238.7" width="8.2" height="8.2" fill="#c4640a"/>
<rect x="1775.8" y="1241.0" width="8.2" height="8.2" fill="#c4640a"/>
<rect x="1783.6" y="1238.7" width="8.2" height="8.2" fill="#c4640a"/>
<rect x="1790.9" y="1237.1" width="8.2" height="8.2" fill="#c4640a"/>
<rect x="1797.9" y="1240.6" width="8.2" height="8.2" fill="#c4640a"/>
<rect x="1790.9" y="1243.7" width="8.2" height="8.2" fill="#c4640a"/>
<rect x="1805.6" y="1235.6" width="8.2" height="8.2" fill="#c4640a"/>
<rect x="1812.6" y="1234.4" width="8.2" height="8.2" fill="#c4640a"/>
<rect x="1889.3" y="1114.8" width="8.2" height="8.2" fill="#8dbcf4"/>
<rect x="1902.8" y="1114.8" width="8.2" height="8.2" fill="#8dbcf4"/>
<rect x="1875.7" y="1206.2" width="8.2" height="8.2" fill="#8dbcf4"/>
<rect x="1902.8" y="1211.6" width="8.2" height="8.2" fill="#8dbcf4"/>
<rect x="1889.3" y="1225.9" width="8.2" height="8.2" fill="#8dbcf4"/>
<line x1="1747.8" y1="1226.9" x2="1820.6" y2="1226.9" stroke="#222" stroke-width="2"/>
<line x1="1857.4" y1="1178.9" x2="1929.8" y2="1178.9" stroke="#222" stroke-width="2"/>
<text x="2205.7" y="1056.8" font-size="13.3" text-anchor="middle" font-weight="bold" fill="#111"  textLength="139.0" lengthAdjust="spacingAndGlyphs">Campilobacterota</text>
<text x="2131.1" y="1071.0" font-size="13.0" text-anchor="start" font-weight="bold" fill="#111"  textLength="48.1" lengthAdjust="spacingAndGlyphs">Day 10</text>
<text x="2283.3" y="1071.0" font-size="13.0" text-anchor="end" font-weight="bold" fill="#111"  textLength="98.6" lengthAdjust="spacingAndGlyphs">p-value: 0.854</text>
<line x1="2078.1" y1="1080.9" x2="2078.1" y2="1251.9" stroke="#111" stroke-width="2.0"/>
<line x1="2077.1" y1="1250.9" x2="2333.6" y2="1250.9" stroke="#111" stroke-width="2.0"/>
<line x1="2070.1" y1="1080.9" x2="2078.1" y2="1080.9" stroke="#111" stroke-width="1.6"/>
<text x="2067.6" y="1084.7" font-size="10.6" text-anchor="end" font-weight="bold" fill="#111"  textLength="7.0" lengthAdjust="spacingAndGlyphs">8</text>
<line x1="2070.1" y1="1123.4" x2="2078.1" y2="1123.4" stroke="#111" stroke-width="1.6"/>
<text x="2067.6" y="1127.2" font-size="10.6" text-anchor="end" font-weight="bold" fill="#111"  textLength="7.0" lengthAdjust="spacingAndGlyphs">6</text>
<line x1="2070.1" y1="1165.9" x2="2078.1" y2="1165.9" stroke="#111" stroke-width="1.6"/>
<text x="2067.6" y="1169.7" font-size="10.6" text-anchor="end" font-weight="bold" fill="#111"  textLength="7.0" lengthAdjust="spacingAndGlyphs">4</text>
<line x1="2070.1" y1="1208.4" x2="2078.1" y2="1208.4" stroke="#111" stroke-width="1.6"/>
<text x="2067.6" y="1212.2" font-size="10.6" text-anchor="end" font-weight="bold" fill="#111"  textLength="7.0" lengthAdjust="spacingAndGlyphs">2</text>
<line x1="2070.1" y1="1250.9" x2="2078.1" y2="1250.9" stroke="#111" stroke-width="1.6"/>
<text x="2067.6" y="1254.7" font-size="10.6" text-anchor="end" font-weight="bold" fill="#111"  textLength="7.0" lengthAdjust="spacingAndGlyphs">0</text>
<line x1="2151.3" y1="1250.9" x2="2151.3" y2="1258.9" stroke="#111" stroke-width="1.8"/>
<line x1="2260.9" y1="1250.9" x2="2260.9" y2="1258.9" stroke="#111" stroke-width="1.8"/>
<text x="2127.2" y="1271.2" font-size="11.3" text-anchor="start" font-weight="bold" fill="#111"  textLength="42.1" lengthAdjust="spacingAndGlyphs">AnxA1</text>
<text x="2170.3" y="1265.2" font-size="7.0" text-anchor="start" fill="#111"  textLength="7.8" lengthAdjust="spacingAndGlyphs">-/-</text>
<text x="2260.9" y="1271.2" font-size="11.3" text-anchor="middle" font-weight="bold" fill="#111"  textLength="20.7" lengthAdjust="spacingAndGlyphs">WT</text>
<text x="2205.5" y="1297.6" font-size="12.3" text-anchor="middle" font-weight="bold" fill="#111"  textLength="51.6" lengthAdjust="spacingAndGlyphs">Groups</text>
<text x="2049.0" y="1165.7" font-size="11.7" font-weight="bold" fill="#111" text-anchor="middle" dy="4.2" textLength="154.9" lengthAdjust="spacingAndGlyphs" transform="rotate(-90 2049.0 1165.7)">Relative abundance (%)</text>
<rect x="2147.2" y="1153.5" width="8.2" height="8.2" fill="#c4640a"/>
<rect x="2147.2" y="1198.0" width="8.2" height="8.2" fill="#c4640a"/>
<rect x="2135.9" y="1208.9" width="8.2" height="8.2" fill="#c4640a"/>
<rect x="2147.2" y="1214.7" width="8.2" height="8.2" fill="#c4640a"/>
<rect x="2147.2" y="1219.7" width="8.2" height="8.2" fill="#c4640a"/>
<rect x="2158.0" y="1217.0" width="8.2" height="8.2" fill="#c4640a"/>
<rect x="2169.6" y="1228.2" width="8.2" height="8.2" fill="#c4640a"/>
<rect x="2169.6" y="1234.8" width="8.2" height="8.2" fill="#c4640a"/>
<rect x="2113.9" y="1236.4" width="8.2" height="8.2" fill="#c4640a"/>
<rect x="2125.1" y="1237.1" width="8.2" height="8.2" fill="#c4640a"/>
<rect x="2135.9" y="1237.9" width="8.2" height="8.2" fill="#c4640a"/>
<rect x="2147.2" y="1240.2" width="8.2" height="8.2" fill="#c4640a"/>
<rect x="2158.0" y="1240.2" width="8.2" height="8.2" fill="#c4640a"/>
<rect x="2180.1" y="1236.8" width="8.2" height="8.2" fill="#c4640a"/>
<rect x="2125.1" y="1243.7" width="8.2" height="8.2" fill="#c4640a"/>
<rect x="2169.6" y="1243.7" width="8.2" height="8.2" fill="#c4640a"/>
<rect x="2256.8" y="1122.1" width="8.2" height="8.2" fill="#8dbcf4"/>
<rect x="2256.8" y="1187.6" width="8.2" height="8.2" fill="#8dbcf4"/>
<rect x="2256.8" y="1219.3" width="8.2" height="8.2" fill="#8dbcf4"/>
<rect x="2270.3" y="1217.8" width="8.2" height="8.2" fill="#8dbcf4"/>
<rect x="2243.2" y="1230.2" width="8.2" height="8.2" fill="#8dbcf4"/>
<rect x="2256.8" y="1228.2" width="8.2" height="8.2" fill="#8dbcf4"/>
<rect x="2229.3" y="1234.4" width="8.2" height="8.2" fill="#8dbcf4"/>
<rect x="2283.9" y="1234.4" width="8.2" height="8.2" fill="#8dbcf4"/>
<rect x="2243.2" y="1237.9" width="8.2" height="8.2" fill="#8dbcf4"/>
<rect x="2256.8" y="1237.9" width="8.2" height="8.2" fill="#8dbcf4"/>
<rect x="2270.3" y="1240.6" width="8.2" height="8.2" fill="#8dbcf4"/>
<rect x="2229.3" y="1243.7" width="8.2" height="8.2" fill="#8dbcf4"/>
<rect x="2256.8" y="1243.7" width="8.2" height="8.2" fill="#8dbcf4"/>
<rect x="2283.9" y="1246.0" width="8.2" height="8.2" fill="#8dbcf4"/>
<line x1="2114.9" y1="1228.5" x2="2187.3" y2="1228.5" stroke="#222" stroke-width="2"/>
<line x1="2224.1" y1="1226.9" x2="2296.5" y2="1226.9" stroke="#222" stroke-width="2"/>
<text x="1474.2" y="1357.2" font-size="13.3" text-anchor="middle" font-weight="bold" fill="#111"  textLength="142.4" lengthAdjust="spacingAndGlyphs">Verrucomicrobiota</text>
<text x="1400.1" y="1370.1" font-size="13.0" text-anchor="start" font-weight="bold" fill="#111"  textLength="38.4" lengthAdjust="spacingAndGlyphs">Day 0</text>
<text x="1550.7" y="1370.1" font-size="13.0" text-anchor="end" font-weight="bold" fill="#111"  textLength="95.3" lengthAdjust="spacingAndGlyphs">p-value: 0.001</text>
<line x1="1349.6" y1="1380.6" x2="1349.6" y2="1548.8" stroke="#111" stroke-width="2.0"/>
<line x1="1348.6" y1="1547.8" x2="1601.0" y2="1547.8" stroke="#111" stroke-width="2.0"/>
<line x1="1341.6" y1="1380.6" x2="1349.6" y2="1380.6" stroke="#111" stroke-width="1.6"/>
<text x="1339.1" y="1384.4" font-size="10.6" text-anchor="end" font-weight="bold" fill="#111"  textLength="7.0" lengthAdjust="spacingAndGlyphs">4</text>
<line x1="1341.6" y1="1422.4" x2="1349.6" y2="1422.4" stroke="#111" stroke-width="1.6"/>
<text x="1339.1" y="1426.2" font-size="10.6" text-anchor="end" font-weight="bold" fill="#111"  textLength="7.0" lengthAdjust="spacingAndGlyphs">3</text>
<line x1="1341.6" y1="1464.2" x2="1349.6" y2="1464.2" stroke="#111" stroke-width="1.6"/>
<text x="1339.1" y="1468.0" font-size="10.6" text-anchor="end" font-weight="bold" fill="#111"  textLength="7.0" lengthAdjust="spacingAndGlyphs">2</text>
<line x1="1341.6" y1="1506.0" x2="1349.6" y2="1506.0" stroke="#111" stroke-width="1.6"/>
<text x="1339.1" y="1509.8" font-size="10.6" text-anchor="end" font-weight="bold" fill="#111"  textLength="7.0" lengthAdjust="spacingAndGlyphs">1</text>
<line x1="1341.6" y1="1547.8" x2="1349.6" y2="1547.8" stroke="#111" stroke-width="1.6"/>
<text x="1339.1" y="1551.6" font-size="10.6" text-anchor="end" font-weight="bold" fill="#111"  textLength="7.0" lengthAdjust="spacingAndGlyphs">0</text>
<line x1="1420.5" y1="1547.8" x2="1420.5" y2="1555.8" stroke="#111" stroke-width="1.8"/>
<line x1="1528.3" y1="1547.8" x2="1528.3" y2="1555.8" stroke="#111" stroke-width="1.8"/>
<text x="1396.4" y="1567.8" font-size="11.3" text-anchor="start" font-weight="bold" fill="#111"  textLength="42.1" lengthAdjust="spacingAndGlyphs">AnxA1</text>
<text x="1439.5" y="1561.8" font-size="7.0" text-anchor="start" fill="#111"  textLength="7.8" lengthAdjust="spacingAndGlyphs">-/-</text>
<text x="1528.3" y="1567.8" font-size="11.3" text-anchor="middle" font-weight="bold" fill="#111"  textLength="20.7" lengthAdjust="spacingAndGlyphs">WT</text>
<text x="1474.5" y="1593.8" font-size="12.3" text-anchor="middle" font-weight="bold" fill="#111"  textLength="51.6" lengthAdjust="spacingAndGlyphs">Groups</text>
<text x="1320.0" y="1463.6" font-size="11.5" font-weight="bold" fill="#111" text-anchor="middle" dy="4.2" textLength="152.7" lengthAdjust="spacingAndGlyphs" transform="rotate(-90 1320.0 1463.6)">Relative abundance (%)</text>
<rect x="1416.9" y="1446.8" width="8.2" height="8.2" fill="#c4640a"/>
<rect x="1418.1" y="1526.5" width="8.2" height="8.2" fill="#c4640a"/>
<rect x="1415.8" y="1530.1" width="8.2" height="8.2" fill="#c4640a"/>
<rect x="1416.9" y="1532.4" width="8.2" height="8.2" fill="#c4640a"/>
<rect x="1384.2" y="1543.7" width="8.2" height="8.2" fill="#c4640a"/>
<rect x="1387.7" y="1543.7" width="8.2" height="8.2" fill="#c4640a"/>
<rect x="1391.2" y="1543.7" width="8.2" height="8.2" fill="#c4640a"/>
<rect x="1394.8" y="1543.7" width="8.2" height="8.2" fill="#c4640a"/>
<rect x="1398.3" y="1543.7" width="8.2" height="8.2" fill="#c4640a"/>
<rect x="1401.9" y="1543.7" width="8.2" height="8.2" fill="#c4640a"/>
<rect x="1405.4" y="1543.7" width="8.2" height="8.2" fill="#c4640a"/>
<rect x="1409.0" y="1543.7" width="8.2" height="8.2" fill="#c4640a"/>
<rect x="1412.5" y="1543.7" width="8.2" height="8.2" fill="#c4640a"/>
<rect x="1416.1" y="1543.7" width="8.2" height="8.2" fill="#c4640a"/>
<rect x="1419.6" y="1543.7" width="8.2" height="8.2" fill="#c4640a"/>
<rect x="1423.2" y="1543.7" width="8.2" height="8.2" fill="#c4640a"/>
<rect x="1426.7" y="1543.7" width="8.2" height="8.2" fill="#c4640a"/>
<rect x="1430.2" y="1543.7" width="8.2" height="8.2" fill="#c4640a"/>
<rect x="1433.8" y="1543.7" width="8.2" height="8.2" fill="#c4640a"/>
<rect x="1437.3" y="1543.7" width="8.2" height="8.2" fill="#c4640a"/>
<rect x="1440.9" y="1543.7" width="8.2" height="8.2" fill="#c4640a"/>
<rect x="1444.4" y="1543.7" width="8.2" height="8.2" fill="#c4640a"/>
<rect x="1448.0" y="1543.7" width="8.2" height="8.2" fill="#c4640a"/>
<rect x="1451.5" y="1543.7" width="8.2" height="8.2" fill="#c4640a"/>
<rect x="1527.1" y="1385.0" width="8.2" height="8.2" fill="#8dbcf4"/>
<rect x="1521.2" y="1404.2" width="8.2" height="8.2" fill="#8dbcf4"/>
<rect x="1521.2" y="1455.3" width="8.2" height="8.2" fill="#8dbcf4"/>
<rect x="1527.1" y="1477.2" width="8.2" height="8.2" fill="#8dbcf4"/>
<rect x="1515.3" y="1497.6" width="8.2" height="8.2" fill="#8dbcf4"/>
<rect x="1521.2" y="1499.1" width="8.2" height="8.2" fill="#8dbcf4"/>
<rect x="1533.0" y="1500.5" width="8.2" height="8.2" fill="#8dbcf4"/>
<rect x="1521.2" y="1513.2" width="8.2" height="8.2" fill="#8dbcf4"/>
<rect x="1515.3" y="1524.5" width="8.2" height="8.2" fill="#8dbcf4"/>
<rect x="1527.1" y="1527.4" width="8.2" height="8.2" fill="#8dbcf4"/>
<rect x="1533.0" y="1527.4" width="8.2" height="8.2" fill="#8dbcf4"/>
<rect x="1497.6" y="1539.8" width="8.2" height="8.2" fill="#8dbcf4"/>
<rect x="1491.7" y="1543.4" width="8.2" height="8.2" fill="#8dbcf4"/>
<rect x="1503.5" y="1543.7" width="8.2" height="8.2" fill="#8dbcf4"/>
<rect x="1509.1" y="1543.7" width="8.2" height="8.2" fill="#8dbcf4"/>
<rect x="1514.7" y="1543.7" width="8.2" height="8.2" fill="#8dbcf4"/>
<rect x="1520.3" y="1543.7" width="8.2" height="8.2" fill="#8dbcf4"/>
<rect x="1526.0" y="1543.7" width="8.2" height="8.2" fill="#8dbcf4"/>
<rect x="1531.6" y="1543.7" width="8.2" height="8.2" fill="#8dbcf4"/>
<rect x="1537.2" y="1543.7" width="8.2" height="8.2" fill="#8dbcf4"/>
<rect x="1542.8" y="1543.7" width="8.2" height="8.2" fill="#8dbcf4"/>
<rect x="1548.4" y="1543.7" width="8.2" height="8.2" fill="#8dbcf4"/>
<rect x="1554.0" y="1543.7" width="8.2" height="8.2" fill="#8dbcf4"/>
<rect x="1509.4" y="1542.8" width="8.2" height="8.2" fill="#8dbcf4"/>
<rect x="1520.6" y="1542.8" width="8.2" height="8.2" fill="#8dbcf4"/>
<line x1="1385.9" y1="1542.2" x2="1456.8" y2="1542.2" stroke="#222" stroke-width="2"/>
<line x1="1492.8" y1="1518.5" x2="1564.0" y2="1518.5" stroke="#222" stroke-width="2"/>
<text x="1847.5" y="1357.0" font-size="13.3" text-anchor="middle" font-weight="bold" fill="#111"  textLength="142.9" lengthAdjust="spacingAndGlyphs">Verrucomicrobiota</text>
<text x="1773.7" y="1369.7" font-size="13.0" text-anchor="start" font-weight="bold" fill="#111"  textLength="38.7" lengthAdjust="spacingAndGlyphs">Day 6</text>
<text x="1925.1" y="1369.7" font-size="13.0" text-anchor="end" font-weight="bold" fill="#111"  textLength="95.8" lengthAdjust="spacingAndGlyphs">p-value: 0.037</text>
<line x1="1721.5" y1="1380.8" x2="1721.5" y2="1548.7" stroke="#111" stroke-width="2.0"/>
<line x1="1720.5" y1="1547.7" x2="1973.5" y2="1547.7" stroke="#111" stroke-width="2.0"/>
<line x1="1713.5" y1="1380.8" x2="1721.5" y2="1380.8" stroke="#111" stroke-width="1.6"/>
<text x="1711.0" y="1384.6" font-size="10.6" text-anchor="end" font-weight="bold" fill="#111"  textLength="13.9" lengthAdjust="spacingAndGlyphs">30</text>
<line x1="1713.5" y1="1436.4" x2="1721.5" y2="1436.4" stroke="#111" stroke-width="1.6"/>
<text x="1711.0" y="1440.2" font-size="10.6" text-anchor="end" font-weight="bold" fill="#111"  textLength="13.9" lengthAdjust="spacingAndGlyphs">20</text>
<line x1="1713.5" y1="1492.1" x2="1721.5" y2="1492.1" stroke="#111" stroke-width="1.6"/>
<text x="1711.0" y="1495.9" font-size="10.6" text-anchor="end" font-weight="bold" fill="#111"  textLength="13.9" lengthAdjust="spacingAndGlyphs">10</text>
<line x1="1713.5" y1="1547.7" x2="1721.5" y2="1547.7" stroke="#111" stroke-width="1.6"/>
<text x="1711.0" y="1551.5" font-size="10.6" text-anchor="end" font-weight="bold" fill="#111"  textLength="7.0" lengthAdjust="spacingAndGlyphs">0</text>
<line x1="1793.5" y1="1547.7" x2="1793.5" y2="1555.7" stroke="#111" stroke-width="1.8"/>
<line x1="1901.5" y1="1547.7" x2="1901.5" y2="1555.7" stroke="#111" stroke-width="1.8"/>
<text x="1769.4" y="1568.0" font-size="11.3" text-anchor="start" font-weight="bold" fill="#111"  textLength="42.1" lengthAdjust="spacingAndGlyphs">AnxA1</text>
<text x="1812.5" y="1562.0" font-size="7.0" text-anchor="start" fill="#111"  textLength="7.8" lengthAdjust="spacingAndGlyphs">-/-</text>
<text x="1901.5" y="1568.0" font-size="11.3" text-anchor="middle" font-weight="bold" fill="#111"  textLength="20.7" lengthAdjust="spacingAndGlyphs">WT</text>
<text x="1847.3" y="1594.3" font-size="12.3" text-anchor="middle" font-weight="bold" fill="#111"  textLength="51.6" lengthAdjust="spacingAndGlyphs">Groups</text>
<text x="1685.8" y="1463.3" font-size="11.6" font-weight="bold" fill="#111" text-anchor="middle" dy="4.2" textLength="153.3" lengthAdjust="spacingAndGlyphs" transform="rotate(-90 1685.8 1463.3)">Relative abundance (%)</text>
<rect x="1786.3" y="1468.5" width="8.2" height="8.2" fill="#c4640a"/>
<rect x="1757.2" y="1543.6" width="8.2" height="8.2" fill="#c4640a"/>
<rect x="1764.4" y="1543.6" width="8.2" height="8.2" fill="#c4640a"/>
<rect x="1771.6" y="1543.6" width="8.2" height="8.2" fill="#c4640a"/>
<rect x="1778.7" y="1543.6" width="8.2" height="8.2" fill="#c4640a"/>
<rect x="1785.9" y="1543.6" width="8.2" height="8.2" fill="#c4640a"/>
<rect x="1793.1" y="1543.6" width="8.2" height="8.2" fill="#c4640a"/>
<rect x="1800.2" y="1543.6" width="8.2" height="8.2" fill="#c4640a"/>
<rect x="1807.4" y="1543.6" width="8.2" height="8.2" fill="#c4640a"/>
<rect x="1814.5" y="1543.6" width="8.2" height="8.2" fill="#c4640a"/>
<rect x="1821.7" y="1543.6" width="8.2" height="8.2" fill="#c4640a"/>
<rect x="1897.4" y="1386.4" width="8.2" height="8.2" fill="#8dbcf4"/>
<rect x="1897.4" y="1413.9" width="8.2" height="8.2" fill="#8dbcf4"/>
<rect x="1897.4" y="1482.8" width="8.2" height="8.2" fill="#8dbcf4"/>
<rect x="1883.9" y="1543.6" width="8.2" height="8.2" fill="#8dbcf4"/>
<rect x="1911.0" y="1543.6" width="8.2" height="8.2" fill="#8dbcf4"/>
<line x1="1758.2" y1="1542.3" x2="1829.1" y2="1542.3" stroke="#222" stroke-width="2"/>
<line x1="1865.9" y1="1478.0" x2="1937.5" y2="1478.0" stroke="#222" stroke-width="2"/>
<text x="2214.0" y="1357.0" font-size="13.3" text-anchor="middle" font-weight="bold" fill="#111"  textLength="142.5" lengthAdjust="spacingAndGlyphs">Verrucomicrobiota</text>
<text x="2141.6" y="1368.5" font-size="13.0" text-anchor="start" font-weight="bold" fill="#111"  textLength="47.8" lengthAdjust="spacingAndGlyphs">Day 10</text>
<text x="2293.0" y="1368.5" font-size="13.0" text-anchor="end" font-weight="bold" fill="#111"  textLength="98.0" lengthAdjust="spacingAndGlyphs">p-value: 0.146</text>
<line x1="2088.5" y1="1380.8" x2="2088.5" y2="1548.7" stroke="#111" stroke-width="2.0"/>
<line x1="2087.5" y1="1547.7" x2="2340.2" y2="1547.7" stroke="#111" stroke-width="2.0"/>
<line x1="2080.5" y1="1380.8" x2="2088.5" y2="1380.8" stroke="#111" stroke-width="1.6"/>
<text x="2078.0" y="1384.6" font-size="10.6" text-anchor="end" font-weight="bold" fill="#111"  textLength="13.9" lengthAdjust="spacingAndGlyphs">60</text>
<line x1="2080.5" y1="1422.5" x2="2088.5" y2="1422.5" stroke="#111" stroke-width="1.6"/>
<text x="2078.0" y="1426.3" font-size="10.6" text-anchor="end" font-weight="bold" fill="#111"  textLength="13.9" lengthAdjust="spacingAndGlyphs">45</text>
<line x1="2080.5" y1="1464.2" x2="2088.5" y2="1464.2" stroke="#111" stroke-width="1.6"/>
<text x="2078.0" y="1468.1" font-size="10.6" text-anchor="end" font-weight="bold" fill="#111"  textLength="13.9" lengthAdjust="spacingAndGlyphs">30</text>
<line x1="2080.5" y1="1506.0" x2="2088.5" y2="1506.0" stroke="#111" stroke-width="1.6"/>
<text x="2078.0" y="1509.8" font-size="10.6" text-anchor="end" font-weight="bold" fill="#111"  textLength="13.9" lengthAdjust="spacingAndGlyphs">15</text>
<line x1="2080.5" y1="1547.7" x2="2088.5" y2="1547.7" stroke="#111" stroke-width="1.6"/>
<text x="2078.0" y="1551.5" font-size="10.6" text-anchor="end" font-weight="bold" fill="#111"  textLength="7.0" lengthAdjust="spacingAndGlyphs">0</text>
<line x1="2163.3" y1="1547.7" x2="2163.3" y2="1555.7" stroke="#111" stroke-width="1.8"/>
<line x1="2267.4" y1="1547.7" x2="2267.4" y2="1555.7" stroke="#111" stroke-width="1.8"/>
<text x="2139.2" y="1568.0" font-size="11.3" text-anchor="start" font-weight="bold" fill="#111"  textLength="42.1" lengthAdjust="spacingAndGlyphs">AnxA1</text>
<text x="2182.3" y="1562.0" font-size="7.0" text-anchor="start" fill="#111"  textLength="7.8" lengthAdjust="spacingAndGlyphs">-/-</text>
<text x="2267.4" y="1568.0" font-size="11.3" text-anchor="middle" font-weight="bold" fill="#111"  textLength="20.7" lengthAdjust="spacingAndGlyphs">WT</text>
<text x="2213.6" y="1594.3" font-size="12.3" text-anchor="middle" font-weight="bold" fill="#111"  textLength="51.6" lengthAdjust="spacingAndGlyphs">Groups</text>
<text x="2052.5" y="1463.3" font-size="11.6" font-weight="bold" fill="#111" text-anchor="middle" dy="4.2" textLength="153.3" lengthAdjust="spacingAndGlyphs" transform="rotate(-90 2052.5 1463.3)">Relative abundance (%)</text>
<rect x="2152.2" y="1413.1" width="8.2" height="8.2" fill="#c4640a"/>
<rect x="2159.2" y="1444.5" width="8.2" height="8.2" fill="#c4640a"/>
<rect x="2152.2" y="1471.6" width="8.2" height="8.2" fill="#c4640a"/>
<rect x="2159.2" y="1470.4" width="8.2" height="8.2" fill="#c4640a"/>
<rect x="2159.2" y="1490.9" width="8.2" height="8.2" fill="#c4640a"/>
<rect x="2123.2" y="1543.6" width="8.2" height="8.2" fill="#c4640a"/>
<rect x="2130.1" y="1541.7" width="8.2" height="8.2" fill="#c4640a"/>
<rect x="2137.5" y="1543.6" width="8.2" height="8.2" fill="#c4640a"/>
<rect x="2144.5" y="1542.0" width="8.2" height="8.2" fill="#c4640a"/>
<rect x="2152.2" y="1543.6" width="8.2" height="8.2" fill="#c4640a"/>
<rect x="2159.2" y="1543.6" width="8.2" height="8.2" fill="#c4640a"/>
<rect x="2165.8" y="1543.6" width="8.2" height="8.2" fill="#c4640a"/>
<rect x="2173.5" y="1543.6" width="8.2" height="8.2" fill="#c4640a"/>
<rect x="2180.5" y="1543.6" width="8.2" height="8.2" fill="#c4640a"/>
<rect x="2187.8" y="1543.6" width="8.2" height="8.2" fill="#c4640a"/>
<rect x="2263.3" y="1395.7" width="8.2" height="8.2" fill="#8dbcf4"/>
<rect x="2263.3" y="1427.4" width="8.2" height="8.2" fill="#8dbcf4"/>
<rect x="2263.3" y="1482.8" width="8.2" height="8.2" fill="#8dbcf4"/>
<rect x="2249.8" y="1501.0" width="8.2" height="8.2" fill="#8dbcf4"/>
<rect x="2263.3" y="1498.3" width="8.2" height="8.2" fill="#8dbcf4"/>
<rect x="2263.3" y="1506.4" width="8.2" height="8.2" fill="#8dbcf4"/>
<rect x="2276.9" y="1496.3" width="8.2" height="8.2" fill="#8dbcf4"/>
<rect x="2249.8" y="1517.3" width="8.2" height="8.2" fill="#8dbcf4"/>
<rect x="2276.9" y="1519.6" width="8.2" height="8.2" fill="#8dbcf4"/>
<rect x="2249.8" y="1532.7" width="8.2" height="8.2" fill="#8dbcf4"/>
<rect x="2276.9" y="1534.3" width="8.2" height="8.2" fill="#8dbcf4"/>
<rect x="2263.3" y="1536.6" width="8.2" height="8.2" fill="#8dbcf4"/>
<rect x="2249.8" y="1543.6" width="8.2" height="8.2" fill="#8dbcf4"/>
<rect x="2276.9" y="1543.6" width="8.2" height="8.2" fill="#8dbcf4"/>
<line x1="2124.5" y1="1519.0" x2="2196.2" y2="1519.0" stroke="#222" stroke-width="2"/>
<line x1="2231.8" y1="1506.6" x2="2303.4" y2="1506.6" stroke="#222" stroke-width="2"/>
<rect x="205.30" y="1698.80" width="12.76" height="1.15" fill="#a00000"/>
<rect x="205.30" y="1699.95" width="12.76" height="9.94" fill="#0000c8"/>
<rect x="205.30" y="1709.88" width="12.76" height="0.70" fill="#ffff80"/>
<rect x="205.30" y="1710.58" width="12.76" height="1.79" fill="#ff7f0e"/>
<rect x="205.30" y="1712.37" width="12.76" height="19.83" fill="#9b67c0"/>
<rect x="205.30" y="1732.20" width="12.76" height="670.30" fill="#2ca02c"/>
<rect x="216.86" y="1698.80" width="1.2" height="703.70" fill="#fff" fill-opacity="0.95"/>
<rect x="218.06" y="1698.80" width="12.76" height="2.64" fill="#a00000"/>
<rect x="218.06" y="1701.44" width="12.76" height="14.21" fill="#0000c8"/>
<rect x="218.06" y="1715.65" width="12.76" height="1.19" fill="#ff7f0e"/>
<rect x="218.06" y="1716.84" width="12.76" height="55.76" fill="#9b67c0"/>
<rect x="218.06" y="1772.60" width="12.76" height="629.90" fill="#2ca02c"/>
<rect x="229.63" y="1698.80" width="1.2" height="703.70" fill="#fff" fill-opacity="0.95"/>
<rect x="230.83" y="1698.80" width="12.76" height="1.65" fill="#c8fac8"/>
<rect x="230.83" y="1700.45" width="12.76" height="9.44" fill="#0000c8"/>
<rect x="230.83" y="1709.88" width="12.76" height="0.99" fill="#ff7f0e"/>
<rect x="230.83" y="1710.88" width="12.76" height="25.02" fill="#9b67c0"/>
<rect x="230.83" y="1735.90" width="12.76" height="666.60" fill="#2ca02c"/>
<rect x="242.39" y="1698.80" width="1.2" height="703.70" fill="#fff" fill-opacity="0.95"/>
<rect x="243.59" y="1698.80" width="12.76" height="4.13" fill="#c8fac8"/>
<rect x="243.59" y="1702.93" width="12.76" height="0.99" fill="#a00000"/>
<rect x="243.59" y="1703.92" width="12.76" height="11.43" fill="#0000c8"/>
<rect x="243.59" y="1715.35" width="12.76" height="1.49" fill="#ff7f0e"/>
<rect x="243.59" y="1716.84" width="12.76" height="52.16" fill="#9b67c0"/>
<rect x="243.59" y="1769.00" width="12.76" height="633.50" fill="#2ca02c"/>
<rect x="255.15" y="1698.80" width="1.2" height="703.70" fill="#fff" fill-opacity="0.95"/>
<rect x="256.35" y="1698.80" width="12.76" height="2.64" fill="#a00000"/>
<rect x="256.35" y="1701.44" width="12.76" height="6.26" fill="#0000c8"/>
<rect x="256.35" y="1707.70" width="12.76" height="2.19" fill="#ffff80"/>
<rect x="256.35" y="1709.88" width="12.76" height="4.77" fill="#ff7f0e"/>
<rect x="256.35" y="1714.65" width="12.76" height="281.25" fill="#9b67c0"/>
<rect x="256.35" y="1995.90" width="12.76" height="406.60" fill="#2ca02c"/>
<rect x="267.91" y="1698.80" width="1.2" height="703.70" fill="#fff" fill-opacity="0.95"/>
<rect x="269.11" y="1698.80" width="12.76" height="1.15" fill="#a00000"/>
<rect x="269.11" y="1699.95" width="12.76" height="3.78" fill="#0000c8"/>
<rect x="269.11" y="1703.72" width="12.76" height="12.92" fill="#ffff80"/>
<rect x="269.11" y="1716.64" width="12.76" height="265.66" fill="#9b67c0"/>
<rect x="269.11" y="1982.30" width="12.76" height="420.20" fill="#2ca02c"/>
<rect x="280.68" y="1698.80" width="1.2" height="703.70" fill="#fff" fill-opacity="0.95"/>
<rect x="281.88" y="1698.80" width="12.76" height="1.35" fill="#a00000"/>
<rect x="281.88" y="1700.15" width="12.76" height="13.91" fill="#0000c8"/>
<rect x="281.88" y="1714.06" width="12.76" height="1.29" fill="#ffff80"/>
<rect x="281.88" y="1715.35" width="12.76" height="1.49" fill="#ff7f0e"/>
<rect x="281.88" y="1716.84" width="12.76" height="98.36" fill="#9b67c0"/>
<rect x="281.88" y="1815.20" width="12.76" height="587.30" fill="#2ca02c"/>
<rect x="293.44" y="1698.80" width="1.2" height="703.70" fill="#fff" fill-opacity="0.95"/>
<rect x="294.64" y="1698.80" width="12.76" height="11.58" fill="#a00000"/>
<rect x="294.64" y="1710.38" width="12.76" height="15.60" fill="#0000c8"/>
<rect x="294.64" y="1725.98" width="12.76" height="1.39" fill="#ffff80"/>
<rect x="294.64" y="1727.37" width="12.76" height="2.88" fill="#ff7f0e"/>
<rect x="294.64" y="1730.25" width="12.76" height="241.05" fill="#9b67c0"/>
<rect x="294.64" y="1971.30" width="12.76" height="431.20" fill="#2ca02c"/>
<rect x="306.20" y="1698.80" width="1.2" height="703.70" fill="#fff" fill-opacity="0.95"/>
<rect x="307.40" y="1698.80" width="12.76" height="5.12" fill="#c8fac8"/>
<rect x="307.40" y="1703.92" width="12.76" height="0.99" fill="#a00000"/>
<rect x="307.40" y="1704.92" width="12.76" height="72.03" fill="#f0147f"/>
<rect x="307.40" y="1776.95" width="12.76" height="1.69" fill="#0000c8"/>
<rect x="307.40" y="1778.64" width="12.76" height="4.57" fill="#ffff80"/>
<rect x="307.40" y="1783.21" width="12.76" height="313.69" fill="#9b67c0"/>
<rect x="307.40" y="2096.90" width="12.76" height="305.60" fill="#2ca02c"/>
<rect x="318.96" y="1698.80" width="1.2" height="703.70" fill="#fff" fill-opacity="0.95"/>
<rect x="320.16" y="1698.80" width="12.76" height="2.64" fill="#a00000"/>
<rect x="320.16" y="1701.44" width="12.76" height="2.48" fill="#f0147f"/>
<rect x="320.16" y="1703.92" width="12.76" height="2.78" fill="#ffff80"/>
<rect x="320.16" y="1706.70" width="12.76" height="410.00" fill="#9b67c0"/>
<rect x="320.16" y="2116.70" width="12.76" height="285.80" fill="#2ca02c"/>
<rect x="331.73" y="1698.80" width="1.2" height="703.70" fill="#fff" fill-opacity="0.95"/>
<rect x="332.93" y="1698.80" width="12.76" height="1.15" fill="#c8fac8"/>
<rect x="332.93" y="1699.95" width="12.76" height="2.78" fill="#a00000"/>
<rect x="332.93" y="1702.73" width="12.76" height="15.90" fill="#f0147f"/>
<rect x="332.93" y="1718.63" width="12.76" height="2.78" fill="#0000c8"/>
<rect x="332.93" y="1721.41" width="12.76" height="2.58" fill="#ffff80"/>
<rect x="332.93" y="1723.99" width="12.76" height="310.11" fill="#9b67c0"/>
<rect x="332.93" y="2034.10" width="12.76" height="368.40" fill="#2ca02c"/>
<rect x="344.49" y="1698.80" width="1.2" height="703.70" fill="#fff" fill-opacity="0.95"/>
<rect x="345.69" y="1698.80" width="12.76" height="8.60" fill="#a00000"/>
<rect x="345.69" y="1707.40" width="12.76" height="3.48" fill="#0000c8"/>
<rect x="345.69" y="1710.88" width="12.76" height="9.94" fill="#ffff80"/>
<rect x="345.69" y="1720.81" width="12.76" height="2.19" fill="#ff7f0e"/>
<rect x="345.69" y="1723.00" width="12.76" height="393.70" fill="#9b67c0"/>
<rect x="345.69" y="2116.70" width="12.76" height="285.80" fill="#2ca02c"/>
<rect x="357.25" y="1698.80" width="1.2" height="703.70" fill="#fff" fill-opacity="0.95"/>
<rect x="358.45" y="1698.80" width="12.76" height="6.12" fill="#a00000"/>
<rect x="358.45" y="1704.92" width="12.76" height="2.29" fill="#0000c8"/>
<rect x="358.45" y="1707.20" width="12.76" height="31.00" fill="#ffff80"/>
<rect x="358.45" y="1738.20" width="12.76" height="3.78" fill="#ff7f0e"/>
<rect x="358.45" y="1741.98" width="12.76" height="362.22" fill="#9b67c0"/>
<rect x="358.45" y="2104.20" width="12.76" height="298.30" fill="#2ca02c"/>
<rect x="370.02" y="1698.80" width="1.2" height="703.70" fill="#fff" fill-opacity="0.95"/>
<rect x="371.22" y="1698.80" width="12.76" height="2.34" fill="#c8fac8"/>
<rect x="371.22" y="1701.14" width="12.76" height="3.78" fill="#f0147f"/>
<rect x="371.22" y="1704.92" width="12.76" height="0.99" fill="#ff7f0e"/>
<rect x="371.22" y="1705.91" width="12.76" height="459.59" fill="#9b67c0"/>
<rect x="371.22" y="2165.50" width="12.76" height="237.00" fill="#2ca02c"/>
<rect x="382.78" y="1698.80" width="1.2" height="703.70" fill="#fff" fill-opacity="0.95"/>
<rect x="383.98" y="1698.80" width="12.76" height="2.64" fill="#a00000"/>
<rect x="383.98" y="1701.44" width="12.76" height="2.48" fill="#f0147f"/>
<rect x="383.98" y="1703.92" width="12.76" height="3.48" fill="#0000c8"/>
<rect x="383.98" y="1707.40" width="12.76" height="5.27" fill="#ffff80"/>
<rect x="383.98" y="1712.67" width="12.76" height="196.23" fill="#9b67c0"/>
<rect x="383.98" y="1908.90" width="12.76" height="493.60" fill="#2ca02c"/>
<rect x="395.54" y="1698.80" width="1.2" height="703.70" fill="#fff" fill-opacity="0.95"/>
<rect x="396.74" y="1698.80" width="12.76" height="2.94" fill="#c8fac8"/>
<rect x="396.74" y="1701.74" width="12.76" height="3.38" fill="#a00000"/>
<rect x="396.74" y="1705.11" width="12.76" height="4.77" fill="#0000c8"/>
<rect x="396.74" y="1709.88" width="12.76" height="3.48" fill="#ff7f0e"/>
<rect x="396.74" y="1713.36" width="12.76" height="179.74" fill="#9b67c0"/>
<rect x="396.74" y="1893.10" width="12.76" height="509.40" fill="#2ca02c"/>
<rect x="408.30" y="1698.80" width="1.2" height="703.70" fill="#fff" fill-opacity="0.95"/>
<rect x="409.50" y="1698.80" width="12.76" height="2.64" fill="#a00000"/>
<rect x="409.50" y="1701.44" width="12.76" height="3.48" fill="#0000c8"/>
<rect x="409.50" y="1704.92" width="12.76" height="1.79" fill="#ff7f0e"/>
<rect x="409.50" y="1706.70" width="12.76" height="43.40" fill="#9b67c0"/>
<rect x="409.50" y="1750.10" width="12.76" height="652.40" fill="#2ca02c"/>
<rect x="421.07" y="1698.80" width="1.2" height="703.70" fill="#fff" fill-opacity="0.95"/>
<rect x="422.27" y="1698.80" width="12.76" height="1.65" fill="#a00000"/>
<rect x="422.27" y="1700.45" width="12.76" height="12.22" fill="#0000c8"/>
<rect x="422.27" y="1712.67" width="12.76" height="12.62" fill="#ff7f0e"/>
<rect x="422.27" y="1725.28" width="12.76" height="290.42" fill="#9b67c0"/>
<rect x="422.27" y="2015.70" width="12.76" height="386.80" fill="#2ca02c"/>
<rect x="433.83" y="1698.80" width="1.2" height="703.70" fill="#fff" fill-opacity="0.95"/>
<rect x="435.03" y="1698.80" width="12.76" height="2.64" fill="#808080"/>
<rect x="435.03" y="1701.44" width="12.76" height="2.48" fill="#a00000"/>
<rect x="435.03" y="1703.92" width="12.76" height="27.02" fill="#0000c8"/>
<rect x="435.03" y="1730.95" width="12.76" height="1.79" fill="#ff7f0e"/>
<rect x="435.03" y="1732.74" width="12.76" height="94.26" fill="#9b67c0"/>
<rect x="435.03" y="1827.00" width="12.76" height="575.50" fill="#2ca02c"/>
<rect x="446.59" y="1698.80" width="1.2" height="703.70" fill="#fff" fill-opacity="0.95"/>
<rect x="447.79" y="1698.80" width="12.76" height="1.35" fill="#a00000"/>
<rect x="447.79" y="1700.15" width="12.76" height="14.70" fill="#0000c8"/>
<rect x="447.79" y="1714.85" width="12.76" height="36.85" fill="#9b67c0"/>
<rect x="447.79" y="1751.70" width="12.76" height="650.80" fill="#2ca02c"/>
<rect x="459.35" y="1698.80" width="1.2" height="703.70" fill="#fff" fill-opacity="0.95"/>
<rect x="460.55" y="1698.80" width="12.76" height="3.14" fill="#a00000"/>
<rect x="460.55" y="1701.94" width="12.76" height="7.95" fill="#0000c8"/>
<rect x="460.55" y="1709.88" width="12.76" height="0.99" fill="#ff7f0e"/>
<rect x="460.55" y="1710.88" width="12.76" height="108.42" fill="#9b67c0"/>
<rect x="460.55" y="1819.30" width="12.76" height="583.20" fill="#2ca02c"/>
<rect x="472.12" y="1698.80" width="1.2" height="703.70" fill="#fff" fill-opacity="0.95"/>
<rect x="473.32" y="1698.80" width="12.76" height="2.64" fill="#c8fac8"/>
<rect x="473.32" y="1701.44" width="12.76" height="10.43" fill="#0000c8"/>
<rect x="473.32" y="1711.87" width="12.76" height="1.49" fill="#ff7f0e"/>
<rect x="473.32" y="1713.36" width="12.76" height="53.34" fill="#9b67c0"/>
<rect x="473.32" y="1766.70" width="12.76" height="635.80" fill="#2ca02c"/>
<rect x="484.88" y="1698.80" width="1.2" height="703.70" fill="#fff" fill-opacity="0.95"/>
<rect x="486.08" y="1698.80" width="12.76" height="1.65" fill="#c8fac8"/>
<rect x="486.08" y="1700.45" width="12.76" height="2.98" fill="#0000c8"/>
<rect x="486.08" y="1703.43" width="12.76" height="325.47" fill="#9b67c0"/>
<rect x="486.08" y="2028.90" width="12.76" height="373.60" fill="#2ca02c"/>
<rect x="497.64" y="1698.80" width="1.2" height="703.70" fill="#fff" fill-opacity="0.95"/>
<rect x="498.84" y="1698.80" width="12.76" height="0.65" fill="#808080"/>
<rect x="498.84" y="1699.45" width="12.76" height="4.27" fill="#a00000"/>
<rect x="498.84" y="1703.72" width="12.76" height="8.64" fill="#0000c8"/>
<rect x="498.84" y="1712.37" width="12.76" height="2.48" fill="#ffff80"/>
<rect x="498.84" y="1714.85" width="12.76" height="5.96" fill="#ff7f0e"/>
<rect x="498.84" y="1720.81" width="12.76" height="297.09" fill="#9b67c0"/>
<rect x="498.84" y="2017.90" width="12.76" height="384.60" fill="#2ca02c"/>
<rect x="510.41" y="1698.80" width="1.2" height="703.70" fill="#fff" fill-opacity="0.95"/>
<rect x="511.61" y="1698.80" width="12.76" height="1.65" fill="#a00000"/>
<rect x="511.61" y="1700.45" width="12.76" height="5.96" fill="#0000c8"/>
<rect x="511.61" y="1706.41" width="12.76" height="3.48" fill="#ff7f0e"/>
<rect x="511.61" y="1709.88" width="12.76" height="99.12" fill="#9b67c0"/>
<rect x="511.61" y="1809.00" width="12.76" height="593.50" fill="#2ca02c"/>
<rect x="523.17" y="1698.80" width="1.2" height="703.70" fill="#fff" fill-opacity="0.95"/>
<rect x="524.37" y="1698.80" width="12.76" height="2.94" fill="#a00000"/>
<rect x="524.37" y="1701.74" width="12.76" height="5.66" fill="#0000c8"/>
<rect x="524.37" y="1707.40" width="12.76" height="1.49" fill="#ffff80"/>
<rect x="524.37" y="1708.89" width="12.76" height="1.99" fill="#ff7f0e"/>
<rect x="524.37" y="1710.88" width="12.76" height="286.12" fill="#9b67c0"/>
<rect x="524.37" y="1997.00" width="12.76" height="405.50" fill="#2ca02c"/>
<rect x="535.93" y="1698.80" width="1.2" height="703.70" fill="#fff" fill-opacity="0.95"/>
<rect x="537.13" y="1698.80" width="12.76" height="1.35" fill="#a00000"/>
<rect x="537.13" y="1700.15" width="12.76" height="11.72" fill="#0000c8"/>
<rect x="537.13" y="1711.87" width="12.76" height="0.99" fill="#ff7f0e"/>
<rect x="537.13" y="1712.86" width="12.76" height="13.14" fill="#9b67c0"/>
<rect x="537.13" y="1726.00" width="12.76" height="676.50" fill="#2ca02c"/>
<rect x="548.69" y="1698.80" width="1.2" height="703.70" fill="#fff" fill-opacity="0.95"/>
<rect x="549.89" y="1698.80" width="12.76" height="2.64" fill="#a00000"/>
<rect x="549.89" y="1701.44" width="12.76" height="5.96" fill="#0000c8"/>
<rect x="549.89" y="1707.40" width="12.76" height="2.48" fill="#ffff80"/>
<rect x="549.89" y="1709.88" width="12.76" height="2.98" fill="#ff7f0e"/>
<rect x="549.89" y="1712.86" width="12.76" height="70.04" fill="#9b67c0"/>
<rect x="549.89" y="1782.90" width="12.76" height="619.60" fill="#2ca02c"/>
<rect x="561.46" y="1698.80" width="1.2" height="703.70" fill="#fff" fill-opacity="0.95"/>
<rect x="562.66" y="1698.80" width="12.76" height="2.64" fill="#c8fac8"/>
<rect x="562.66" y="1701.44" width="12.76" height="1.99" fill="#a00000"/>
<rect x="562.66" y="1703.43" width="12.76" height="7.45" fill="#f0147f"/>
<rect x="562.66" y="1710.88" width="12.76" height="1.29" fill="#0000c8"/>
<rect x="562.66" y="1712.17" width="12.76" height="22.75" fill="#ffff80"/>
<rect x="562.66" y="1734.92" width="12.76" height="23.15" fill="#ff7f0e"/>
<rect x="562.66" y="1758.07" width="12.76" height="305.73" fill="#9b67c0"/>
<rect x="562.66" y="2063.80" width="12.76" height="338.70" fill="#2ca02c"/>
<rect x="574.22" y="1698.80" width="1.2" height="703.70" fill="#fff" fill-opacity="0.95"/>
<rect x="575.42" y="1698.80" width="12.76" height="1.15" fill="#808080"/>
<rect x="575.42" y="1699.95" width="12.76" height="23.35" fill="#f0147f"/>
<rect x="575.42" y="1723.30" width="12.76" height="1.69" fill="#0000c8"/>
<rect x="575.42" y="1724.99" width="12.76" height="2.78" fill="#ffff80"/>
<rect x="575.42" y="1727.77" width="12.76" height="1.19" fill="#ff7f0e"/>
<rect x="575.42" y="1728.96" width="12.76" height="206.34" fill="#9b67c0"/>
<rect x="575.42" y="1935.30" width="12.76" height="467.20" fill="#2ca02c"/>
<rect x="586.98" y="1698.80" width="1.2" height="703.70" fill="#fff" fill-opacity="0.95"/>
<rect x="588.18" y="1698.80" width="12.76" height="3.14" fill="#c8fac8"/>
<rect x="588.18" y="1701.94" width="12.76" height="1.79" fill="#808080"/>
<rect x="588.18" y="1703.72" width="12.76" height="0.99" fill="#a00000"/>
<rect x="588.18" y="1704.72" width="12.76" height="7.15" fill="#f0147f"/>
<rect x="588.18" y="1711.87" width="12.76" height="1.19" fill="#0000c8"/>
<rect x="588.18" y="1713.06" width="12.76" height="12.22" fill="#ffff80"/>
<rect x="588.18" y="1725.28" width="12.76" height="9.44" fill="#ff7f0e"/>
<rect x="588.18" y="1734.72" width="12.76" height="300.48" fill="#9b67c0"/>
<rect x="588.18" y="2035.20" width="12.76" height="367.30" fill="#2ca02c"/>
<rect x="599.75" y="1698.80" width="1.2" height="703.70" fill="#fff" fill-opacity="0.95"/>
<rect x="600.95" y="1698.80" width="12.76" height="1.65" fill="#a00000"/>
<rect x="600.95" y="1700.45" width="12.76" height="2.98" fill="#f0147f"/>
<rect x="600.95" y="1703.43" width="12.76" height="1.29" fill="#0000c8"/>
<rect x="600.95" y="1704.72" width="12.76" height="7.95" fill="#ffff80"/>
<rect x="600.95" y="1712.67" width="12.76" height="2.19" fill="#ff7f0e"/>
<rect x="600.95" y="1714.85" width="12.76" height="316.65" fill="#9b67c0"/>
<rect x="600.95" y="2031.50" width="12.76" height="371.00" fill="#2ca02c"/>
<rect x="612.51" y="1698.80" width="1.2" height="703.70" fill="#fff" fill-opacity="0.95"/>
<rect x="613.71" y="1698.80" width="12.76" height="0.65" fill="#c8fac8"/>
<rect x="613.71" y="1699.45" width="12.76" height="2.48" fill="#808080"/>
<rect x="613.71" y="1701.94" width="12.76" height="1.79" fill="#a00000"/>
<rect x="613.71" y="1703.72" width="12.76" height="3.97" fill="#f0147f"/>
<rect x="613.71" y="1707.70" width="12.76" height="1.79" fill="#0000c8"/>
<rect x="613.71" y="1709.49" width="12.76" height="9.54" fill="#ffff80"/>
<rect x="613.71" y="1719.02" width="12.76" height="11.03" fill="#ff7f0e"/>
<rect x="613.71" y="1730.05" width="12.76" height="443.15" fill="#9b67c0"/>
<rect x="613.71" y="2173.20" width="12.76" height="229.30" fill="#2ca02c"/>
<rect x="625.27" y="1698.80" width="1.2" height="703.70" fill="#fff" fill-opacity="0.95"/>
<rect x="626.47" y="1698.80" width="12.76" height="3.14" fill="#808080"/>
<rect x="626.47" y="1701.94" width="12.76" height="1.99" fill="#a00000"/>
<rect x="626.47" y="1703.92" width="12.76" height="3.18" fill="#f0147f"/>
<rect x="626.47" y="1707.10" width="12.76" height="9.94" fill="#ffff80"/>
<rect x="626.47" y="1717.04" width="12.76" height="26.13" fill="#ff7f0e"/>
<rect x="626.47" y="1743.17" width="12.76" height="288.33" fill="#9b67c0"/>
<rect x="626.47" y="2031.50" width="12.76" height="371.00" fill="#2ca02c"/>
<rect x="638.03" y="1698.80" width="1.2" height="703.70" fill="#fff" fill-opacity="0.95"/>
<rect x="639.23" y="1698.80" width="12.76" height="1.65" fill="#a00000"/>
<rect x="639.23" y="1700.45" width="12.76" height="0.99" fill="#0000c8"/>
<rect x="639.23" y="1701.44" width="12.76" height="5.96" fill="#ffff80"/>
<rect x="639.23" y="1707.40" width="12.76" height="2.48" fill="#ff7f0e"/>
<rect x="639.23" y="1709.88" width="12.76" height="65.72" fill="#9b67c0"/>
<rect x="639.23" y="1775.60" width="12.76" height="626.90" fill="#2ca02c"/>
<rect x="650.80" y="1698.80" width="1.2" height="703.70" fill="#fff" fill-opacity="0.95"/>
<rect x="652.00" y="1698.80" width="12.76" height="15.55" fill="#f0147f"/>
<rect x="652.00" y="1714.35" width="12.76" height="3.97" fill="#0000c8"/>
<rect x="652.00" y="1718.33" width="12.76" height="7.45" fill="#ffff80"/>
<rect x="652.00" y="1725.78" width="12.76" height="26.03" fill="#ff7f0e"/>
<rect x="652.00" y="1751.81" width="12.76" height="142.69" fill="#9b67c0"/>
<rect x="652.00" y="1894.50" width="12.76" height="508.00" fill="#2ca02c"/>
<rect x="663.56" y="1698.80" width="1.2" height="703.70" fill="#fff" fill-opacity="0.95"/>
<rect x="664.76" y="1698.80" width="12.76" height="1.35" fill="#a00000"/>
<rect x="664.76" y="1700.15" width="12.76" height="1.59" fill="#0000c8"/>
<rect x="664.76" y="1701.74" width="12.76" height="10.63" fill="#ffff80"/>
<rect x="664.76" y="1712.37" width="12.76" height="11.62" fill="#ff7f0e"/>
<rect x="664.76" y="1723.99" width="12.76" height="208.41" fill="#9b67c0"/>
<rect x="664.76" y="1932.40" width="12.76" height="470.10" fill="#2ca02c"/>
<rect x="676.32" y="1698.80" width="1.2" height="703.70" fill="#fff" fill-opacity="0.95"/>
<rect x="677.52" y="1698.80" width="12.76" height="2.14" fill="#a00000"/>
<rect x="677.52" y="1700.94" width="12.76" height="1.49" fill="#0000c8"/>
<rect x="677.52" y="1702.43" width="12.76" height="25.53" fill="#ffff80"/>
<rect x="677.52" y="1727.97" width="12.76" height="40.04" fill="#ff7f0e"/>
<rect x="677.52" y="1768.01" width="12.76" height="203.29" fill="#9b67c0"/>
<rect x="677.52" y="1971.30" width="12.76" height="431.20" fill="#2ca02c"/>
<rect x="689.08" y="1698.80" width="1.2" height="703.70" fill="#fff" fill-opacity="0.95"/>
<rect x="690.28" y="1698.80" width="12.76" height="1.65" fill="#808080"/>
<rect x="690.28" y="1700.45" width="12.76" height="13.91" fill="#a00000"/>
<rect x="690.28" y="1714.35" width="12.76" height="10.63" fill="#f0147f"/>
<rect x="690.28" y="1724.99" width="12.76" height="71.51" fill="#ffff80"/>
<rect x="690.28" y="1796.50" width="12.76" height="74.20" fill="#ff7f0e"/>
<rect x="690.28" y="1870.70" width="12.76" height="265.40" fill="#9b67c0"/>
<rect x="690.28" y="2136.10" width="12.76" height="266.40" fill="#2ca02c"/>
<rect x="701.85" y="1698.80" width="1.2" height="703.70" fill="#fff" fill-opacity="0.95"/>
<rect x="703.05" y="1698.80" width="12.76" height="4.92" fill="#a00000"/>
<rect x="703.05" y="1703.72" width="12.76" height="100.88" fill="#ffff80"/>
<rect x="703.05" y="1804.60" width="12.76" height="95.40" fill="#ff7f0e"/>
<rect x="703.05" y="1900.00" width="12.76" height="211.20" fill="#9b67c0"/>
<rect x="703.05" y="2111.20" width="12.76" height="291.30" fill="#2ca02c"/>
<rect x="714.61" y="1698.80" width="1.2" height="703.70" fill="#fff" fill-opacity="0.95"/>
<rect x="715.81" y="1698.80" width="12.76" height="4.33" fill="#808080"/>
<rect x="715.81" y="1703.13" width="12.76" height="0.99" fill="#a00000"/>
<rect x="715.81" y="1704.12" width="12.76" height="1.59" fill="#0000c8"/>
<rect x="715.81" y="1705.71" width="12.76" height="51.37" fill="#ffff80"/>
<rect x="715.81" y="1757.08" width="12.76" height="52.22" fill="#ff7f0e"/>
<rect x="715.81" y="1809.30" width="12.76" height="209.30" fill="#9b67c0"/>
<rect x="715.81" y="2018.60" width="12.76" height="383.90" fill="#2ca02c"/>
<rect x="727.37" y="1698.80" width="1.2" height="703.70" fill="#fff" fill-opacity="0.95"/>
<rect x="728.57" y="1698.80" width="12.76" height="5.10" fill="#a00000"/>
<rect x="728.57" y="1703.90" width="12.76" height="2.10" fill="#f0147f"/>
<rect x="728.57" y="1706.00" width="12.76" height="1.50" fill="#0000c8"/>
<rect x="728.57" y="1707.50" width="12.76" height="18.40" fill="#ffff80"/>
<rect x="728.57" y="1725.90" width="12.76" height="27.90" fill="#ff7f0e"/>
<rect x="728.57" y="1753.80" width="12.76" height="270.40" fill="#9b67c0"/>
<rect x="728.57" y="2024.20" width="12.76" height="378.30" fill="#2ca02c"/>
<rect x="740.14" y="1698.80" width="1.2" height="703.70" fill="#fff" fill-opacity="0.95"/>
<rect x="741.34" y="1698.80" width="12.76" height="2.28" fill="#808080"/>
<rect x="741.34" y="1701.08" width="12.76" height="2.79" fill="#a00000"/>
<rect x="741.34" y="1703.87" width="12.76" height="20.25" fill="#ffff80"/>
<rect x="741.34" y="1724.12" width="12.76" height="34.56" fill="#ff7f0e"/>
<rect x="741.34" y="1758.68" width="12.76" height="229.52" fill="#9b67c0"/>
<rect x="741.34" y="1988.20" width="12.76" height="414.30" fill="#2ca02c"/>
<rect x="752.90" y="1698.80" width="1.2" height="703.70" fill="#fff" fill-opacity="0.95"/>
<rect x="754.10" y="1698.80" width="12.76" height="1.44" fill="#0000c8"/>
<rect x="754.10" y="1700.24" width="12.76" height="18.64" fill="#ffff80"/>
<rect x="754.10" y="1718.88" width="12.76" height="37.70" fill="#ff7f0e"/>
<rect x="754.10" y="1756.58" width="12.76" height="298.82" fill="#9b67c0"/>
<rect x="754.10" y="2055.40" width="12.76" height="347.10" fill="#2ca02c"/>
<rect x="765.66" y="1698.80" width="1.2" height="703.70" fill="#fff" fill-opacity="0.95"/>
<rect x="766.86" y="1698.80" width="12.76" height="1.58" fill="#0000c8"/>
<rect x="766.86" y="1700.38" width="12.76" height="12.22" fill="#ffff80"/>
<rect x="766.86" y="1712.60" width="12.76" height="13.27" fill="#ff7f0e"/>
<rect x="766.86" y="1725.86" width="12.76" height="227.84" fill="#9b67c0"/>
<rect x="766.86" y="1953.70" width="12.76" height="448.80" fill="#2ca02c"/>
<rect x="778.42" y="1698.80" width="1.2" height="703.70" fill="#fff" fill-opacity="0.95"/>
<rect x="779.62" y="1698.80" width="12.76" height="2.63" fill="#a00000"/>
<rect x="779.62" y="1701.43" width="12.76" height="2.44" fill="#0000c8"/>
<rect x="779.62" y="1703.87" width="12.76" height="10.82" fill="#ffff80"/>
<rect x="779.62" y="1714.69" width="12.76" height="15.36" fill="#ff7f0e"/>
<rect x="779.62" y="1730.05" width="12.76" height="212.95" fill="#9b67c0"/>
<rect x="779.62" y="1943.00" width="12.76" height="459.50" fill="#2ca02c"/>
<rect x="791.19" y="1698.80" width="1.2" height="703.70" fill="#fff" fill-opacity="0.95"/>
<rect x="792.39" y="1698.80" width="12.76" height="1.93" fill="#c8fac8"/>
<rect x="792.39" y="1700.73" width="12.76" height="4.19" fill="#808080"/>
<rect x="792.39" y="1704.92" width="12.76" height="5.93" fill="#a00000"/>
<rect x="792.39" y="1710.85" width="12.76" height="3.84" fill="#0000c8"/>
<rect x="792.39" y="1714.69" width="12.76" height="26.18" fill="#ffff80"/>
<rect x="792.39" y="1740.87" width="12.76" height="5.93" fill="#ff7f0e"/>
<rect x="792.39" y="1746.81" width="12.76" height="204.29" fill="#9b67c0"/>
<rect x="792.39" y="1951.10" width="12.76" height="451.40" fill="#2ca02c"/>
<rect x="803.95" y="1698.80" width="1.2" height="703.70" fill="#fff" fill-opacity="0.95"/>
<rect x="805.15" y="1698.80" width="12.76" height="9.82" fill="#0000c8"/>
<rect x="805.15" y="1708.62" width="12.76" height="14.45" fill="#ffff80"/>
<rect x="805.15" y="1723.07" width="12.76" height="6.98" fill="#ff7f0e"/>
<rect x="805.15" y="1730.05" width="12.76" height="117.15" fill="#9b67c0"/>
<rect x="805.15" y="1847.20" width="12.76" height="555.30" fill="#2ca02c"/>
<rect x="816.71" y="1698.80" width="1.2" height="703.70" fill="#fff" fill-opacity="0.95"/>
<rect x="817.91" y="1698.80" width="12.76" height="1.23" fill="#c8fac8"/>
<rect x="817.91" y="1700.03" width="12.76" height="1.75" fill="#a00000"/>
<rect x="817.91" y="1701.77" width="12.76" height="27.23" fill="#ffff80"/>
<rect x="817.91" y="1729.00" width="12.76" height="50.83" fill="#ff7f0e"/>
<rect x="817.91" y="1779.83" width="12.76" height="441.17" fill="#9b67c0"/>
<rect x="817.91" y="2221.00" width="12.76" height="181.50" fill="#2ca02c"/>
<rect x="829.47" y="1698.80" width="1.2" height="703.70" fill="#fff" fill-opacity="0.95"/>
<rect x="830.67" y="1698.80" width="12.76" height="0.18" fill="#a00000"/>
<rect x="830.67" y="1698.98" width="12.76" height="8.38" fill="#f0147f"/>
<rect x="830.67" y="1707.36" width="12.76" height="2.09" fill="#0000c8"/>
<rect x="830.67" y="1709.45" width="12.76" height="15.71" fill="#ffff80"/>
<rect x="830.67" y="1725.16" width="12.76" height="16.76" fill="#ff7f0e"/>
<rect x="830.67" y="1741.92" width="12.76" height="242.58" fill="#9b67c0"/>
<rect x="830.67" y="1984.50" width="12.76" height="418.00" fill="#2ca02c"/>
<rect x="842.24" y="1698.80" width="1.2" height="703.70" fill="#fff" fill-opacity="0.95"/>
<rect x="843.44" y="1698.80" width="12.76" height="1.44" fill="#808080"/>
<rect x="843.44" y="1700.24" width="12.76" height="27.37" fill="#f0147f"/>
<rect x="843.44" y="1727.61" width="12.76" height="3.14" fill="#0000c8"/>
<rect x="843.44" y="1730.75" width="12.76" height="10.12" fill="#ffff80"/>
<rect x="843.44" y="1740.87" width="12.76" height="1.05" fill="#ff7f0e"/>
<rect x="843.44" y="1741.92" width="12.76" height="50.88" fill="#9b67c0"/>
<rect x="843.44" y="1792.80" width="12.76" height="609.70" fill="#2ca02c"/>
<rect x="855.00" y="1698.80" width="1.2" height="703.70" fill="#fff" fill-opacity="0.95"/>
<line x1="562.7" y1="1697.8" x2="562.7" y2="2402.5" stroke="#000" stroke-width="2.4"/>
<line x1="204.6" y1="1697.8" x2="204.6" y2="2403.5" stroke="#000" stroke-width="2.0"/>
<line x1="203.8" y1="2403.1" x2="856.2" y2="2403.1" stroke="#111" stroke-width="1.6"/>
<line x1="193.3" y1="1698.8" x2="205.3" y2="1698.8" stroke="#000" stroke-width="1.8"/>
<text x="189.5" y="1706.8" font-size="22.3" text-anchor="end" font-weight="bold" fill="#111" >100</text>
<line x1="193.3" y1="1769.2" x2="205.3" y2="1769.2" stroke="#000" stroke-width="1.8"/>
<text x="189.5" y="1777.2" font-size="22.3" text-anchor="end" font-weight="bold" fill="#111" >90</text>
<line x1="193.3" y1="1839.5" x2="205.3" y2="1839.5" stroke="#000" stroke-width="1.8"/>
<text x="189.5" y="1847.6" font-size="22.3" text-anchor="end" font-weight="bold" fill="#111" >80</text>
<line x1="193.3" y1="1909.9" x2="205.3" y2="1909.9" stroke="#000" stroke-width="1.8"/>
<text x="189.5" y="1917.9" font-size="22.3" text-anchor="end" font-weight="bold" fill="#111" >70</text>
<line x1="193.3" y1="1980.3" x2="205.3" y2="1980.3" stroke="#000" stroke-width="1.8"/>
<text x="189.5" y="1988.3" font-size="22.3" text-anchor="end" font-weight="bold" fill="#111" >60</text>
<line x1="193.3" y1="2050.7" x2="205.3" y2="2050.7" stroke="#000" stroke-width="1.8"/>
<text x="189.5" y="2058.7" font-size="22.3" text-anchor="end" font-weight="bold" fill="#111" >50</text>
<line x1="193.3" y1="2121.0" x2="205.3" y2="2121.0" stroke="#000" stroke-width="1.8"/>
<text x="189.5" y="2129.0" font-size="22.3" text-anchor="end" font-weight="bold" fill="#111" >40</text>
<line x1="193.3" y1="2191.4" x2="205.3" y2="2191.4" stroke="#000" stroke-width="1.8"/>
<text x="189.5" y="2199.4" font-size="22.3" text-anchor="end" font-weight="bold" fill="#111" >30</text>
<line x1="193.3" y1="2261.8" x2="205.3" y2="2261.8" stroke="#000" stroke-width="1.8"/>
<text x="189.5" y="2269.8" font-size="22.3" text-anchor="end" font-weight="bold" fill="#111" >20</text>
<line x1="193.3" y1="2332.1" x2="205.3" y2="2332.1" stroke="#000" stroke-width="1.8"/>
<text x="189.5" y="2340.2" font-size="22.3" text-anchor="end" font-weight="bold" fill="#111" >10</text>
<line x1="193.3" y1="2402.5" x2="205.3" y2="2402.5" stroke="#000" stroke-width="1.8"/>
<text x="189.5" y="2410.5" font-size="22.3" text-anchor="end" font-weight="bold" fill="#111" >0</text>
<text x="530.2" y="1687.9" font-size="29.0" text-anchor="middle" font-weight="bold" fill="#111" >Day 0</text>
<text x="131.0" y="2050.7" font-size="23.9" font-weight="bold" fill="#111" text-anchor="middle" dy="8.6" transform="rotate(-90 131.0 2050.7)">Relative abundance (%)</text>
<line x1="204.3" y1="2414.6" x2="859.2" y2="2414.6" stroke="#222" stroke-width="1.6"/>
<line x1="204.3" y1="2410.1" x2="204.3" y2="2420.1" stroke="#222" stroke-width="1.6"/>
<line x1="562.7" y1="2410.1" x2="562.7" y2="2420.1" stroke="#222" stroke-width="1.6"/>
<line x1="859.2" y1="2410.1" x2="859.2" y2="2420.1" stroke="#222" stroke-width="1.6"/>
<text x="405.0" y="2442.4" font-size="19.0" text-anchor="middle" font-weight="bold" fill="#111" >AnxA1<tspan font-size="12" font-weight="normal" dy="-9">-/-</tspan></text>
<text x="717.4" y="2442.8" font-size="20.0" text-anchor="middle" font-weight="bold" fill="#111" >WT</text>
<text x="529.6" y="2487.7" font-size="24.2" text-anchor="middle" font-weight="bold" fill="#111" >Groups</text>
<rect x="943.00" y="1699.70" width="20.55" height="8.22" fill="#808080"/>
<rect x="943.00" y="1707.92" width="20.55" height="61.86" fill="#0000c8"/>
<rect x="943.00" y="1769.78" width="20.55" height="3.46" fill="#ff7f0e"/>
<rect x="943.00" y="1773.24" width="20.55" height="71.38" fill="#9b67c0"/>
<rect x="943.00" y="1844.62" width="20.55" height="558.08" fill="#2ca02c"/>
<rect x="962.35" y="1699.70" width="1.2" height="703.00" fill="#fff" fill-opacity="0.95"/>
<rect x="963.55" y="1699.70" width="20.55" height="3.46" fill="#c8fac8"/>
<rect x="963.55" y="1703.16" width="20.55" height="20.76" fill="#0000c8"/>
<rect x="963.55" y="1723.92" width="20.55" height="1.30" fill="#ffff80"/>
<rect x="963.55" y="1725.22" width="20.55" height="1.30" fill="#ff7f0e"/>
<rect x="963.55" y="1726.52" width="20.55" height="30.28" fill="#9b67c0"/>
<rect x="963.55" y="1756.80" width="20.55" height="645.90" fill="#2ca02c"/>
<rect x="982.91" y="1699.70" width="1.2" height="703.00" fill="#fff" fill-opacity="0.95"/>
<rect x="984.11" y="1699.70" width="20.55" height="6.49" fill="#808080"/>
<rect x="984.11" y="1706.19" width="20.55" height="1.30" fill="#a00000"/>
<rect x="984.11" y="1707.49" width="20.55" height="28.55" fill="#0000c8"/>
<rect x="984.11" y="1736.04" width="20.55" height="3.46" fill="#ff7f0e"/>
<rect x="984.11" y="1739.50" width="20.55" height="104.26" fill="#9b67c0"/>
<rect x="984.11" y="1843.75" width="20.55" height="558.95" fill="#2ca02c"/>
<rect x="1003.46" y="1699.70" width="1.2" height="703.00" fill="#fff" fill-opacity="0.95"/>
<rect x="1004.66" y="1699.70" width="20.55" height="6.49" fill="#808080"/>
<rect x="1004.66" y="1706.19" width="20.55" height="25.09" fill="#0000c8"/>
<rect x="1004.66" y="1731.28" width="20.55" height="2.16" fill="#ffff80"/>
<rect x="1004.66" y="1733.44" width="20.55" height="2.60" fill="#ff7f0e"/>
<rect x="1004.66" y="1736.04" width="20.55" height="150.98" fill="#9b67c0"/>
<rect x="1004.66" y="1887.02" width="20.55" height="515.68" fill="#2ca02c"/>
<rect x="1024.01" y="1699.70" width="1.2" height="703.00" fill="#fff" fill-opacity="0.95"/>
<rect x="1025.21" y="1699.70" width="20.55" height="14.71" fill="#808080"/>
<rect x="1025.21" y="1714.41" width="20.55" height="3.46" fill="#a00000"/>
<rect x="1025.21" y="1717.87" width="20.55" height="139.73" fill="#f0147f"/>
<rect x="1025.21" y="1857.60" width="20.55" height="10.82" fill="#0000c8"/>
<rect x="1025.21" y="1868.41" width="20.55" height="15.14" fill="#ffff80"/>
<rect x="1025.21" y="1883.55" width="20.55" height="269.08" fill="#9b67c0"/>
<rect x="1025.21" y="2152.63" width="20.55" height="250.07" fill="#2ca02c"/>
<rect x="1044.56" y="1699.70" width="1.2" height="703.00" fill="#fff" fill-opacity="0.95"/>
<rect x="1045.76" y="1699.70" width="20.55" height="4.32" fill="#808080"/>
<rect x="1045.76" y="1704.02" width="20.55" height="1.73" fill="#a00000"/>
<rect x="1045.76" y="1705.76" width="20.55" height="95.17" fill="#f0147f"/>
<rect x="1045.76" y="1800.93" width="20.55" height="16.44" fill="#0000c8"/>
<rect x="1045.76" y="1817.37" width="20.55" height="22.50" fill="#ffff80"/>
<rect x="1045.76" y="1839.86" width="20.55" height="132.38" fill="#9b67c0"/>
<rect x="1045.76" y="1972.24" width="20.55" height="430.46" fill="#2ca02c"/>
<rect x="1065.12" y="1699.70" width="1.2" height="703.00" fill="#fff" fill-opacity="0.95"/>
<rect x="1066.32" y="1699.70" width="20.55" height="12.11" fill="#808080"/>
<rect x="1066.32" y="1711.81" width="20.55" height="2.60" fill="#a00000"/>
<rect x="1066.32" y="1714.41" width="20.55" height="16.87" fill="#0000c8"/>
<rect x="1066.32" y="1731.28" width="20.55" height="6.06" fill="#ff7f0e"/>
<rect x="1066.32" y="1737.34" width="20.55" height="112.04" fill="#9b67c0"/>
<rect x="1066.32" y="1849.38" width="20.55" height="553.32" fill="#2ca02c"/>
<rect x="1085.67" y="1699.70" width="1.2" height="703.00" fill="#fff" fill-opacity="0.95"/>
<rect x="1086.87" y="1699.70" width="20.55" height="19.47" fill="#808080"/>
<rect x="1086.87" y="1719.17" width="20.55" height="1.73" fill="#a00000"/>
<rect x="1086.87" y="1720.90" width="20.55" height="48.88" fill="#0000c8"/>
<rect x="1086.87" y="1769.78" width="20.55" height="2.16" fill="#ffff80"/>
<rect x="1086.87" y="1771.94" width="20.55" height="2.60" fill="#ff7f0e"/>
<rect x="1086.87" y="1774.54" width="20.55" height="210.68" fill="#9b67c0"/>
<rect x="1086.87" y="1985.22" width="20.55" height="417.48" fill="#2ca02c"/>
<rect x="1106.22" y="1699.70" width="1.2" height="703.00" fill="#fff" fill-opacity="0.95"/>
<rect x="1107.42" y="1699.70" width="20.55" height="5.19" fill="#808080"/>
<rect x="1107.42" y="1704.89" width="20.55" height="32.45" fill="#0000c8"/>
<rect x="1107.42" y="1737.34" width="20.55" height="220.19" fill="#9b67c0"/>
<rect x="1107.42" y="1957.53" width="20.55" height="445.17" fill="#2ca02c"/>
<rect x="1126.77" y="1699.70" width="1.2" height="703.00" fill="#fff" fill-opacity="0.95"/>
<rect x="1127.97" y="1699.70" width="20.55" height="9.52" fill="#808080"/>
<rect x="1127.97" y="1709.22" width="20.55" height="5.62" fill="#a00000"/>
<rect x="1127.97" y="1714.84" width="20.55" height="32.01" fill="#0000c8"/>
<rect x="1127.97" y="1746.85" width="20.55" height="2.16" fill="#ffff80"/>
<rect x="1127.97" y="1749.02" width="20.55" height="1.73" fill="#ff7f0e"/>
<rect x="1127.97" y="1750.75" width="20.55" height="310.61" fill="#9b67c0"/>
<rect x="1127.97" y="2061.35" width="20.55" height="341.35" fill="#2ca02c"/>
<rect x="1147.33" y="1699.70" width="1.2" height="703.00" fill="#fff" fill-opacity="0.95"/>
<rect x="1148.53" y="1699.70" width="20.55" height="6.06" fill="#808080"/>
<rect x="1148.53" y="1705.76" width="20.55" height="25.96" fill="#0000c8"/>
<rect x="1148.53" y="1731.71" width="20.55" height="2.16" fill="#ffff80"/>
<rect x="1148.53" y="1733.87" width="20.55" height="177.37" fill="#9b67c0"/>
<rect x="1148.53" y="1911.24" width="20.55" height="491.46" fill="#2ca02c"/>
<rect x="1167.88" y="1699.70" width="1.2" height="703.00" fill="#fff" fill-opacity="0.95"/>
<rect x="1169.08" y="1699.70" width="20.55" height="25.52" fill="#808080"/>
<rect x="1169.08" y="1725.22" width="20.55" height="1.73" fill="#a00000"/>
<rect x="1169.08" y="1726.95" width="20.55" height="18.17" fill="#0000c8"/>
<rect x="1169.08" y="1745.12" width="20.55" height="2.16" fill="#ffff80"/>
<rect x="1169.08" y="1747.28" width="20.55" height="2.16" fill="#ff7f0e"/>
<rect x="1169.08" y="1749.45" width="20.55" height="195.97" fill="#9b67c0"/>
<rect x="1169.08" y="1945.42" width="20.55" height="457.28" fill="#2ca02c"/>
<rect x="1188.43" y="1699.70" width="1.2" height="703.00" fill="#fff" fill-opacity="0.95"/>
<rect x="1189.63" y="1699.70" width="20.55" height="18.17" fill="#808080"/>
<rect x="1189.63" y="1717.87" width="20.55" height="3.46" fill="#a00000"/>
<rect x="1189.63" y="1721.33" width="20.55" height="19.47" fill="#0000c8"/>
<rect x="1189.63" y="1740.80" width="20.55" height="5.62" fill="#ff7f0e"/>
<rect x="1189.63" y="1746.42" width="20.55" height="118.97" fill="#9b67c0"/>
<rect x="1189.63" y="1865.39" width="20.55" height="537.31" fill="#2ca02c"/>
<rect x="1208.98" y="1699.70" width="1.2" height="703.00" fill="#fff" fill-opacity="0.95"/>
<rect x="1210.18" y="1699.70" width="20.55" height="3.46" fill="#c8fac8"/>
<rect x="1210.18" y="1703.16" width="20.55" height="32.88" fill="#0000c8"/>
<rect x="1210.18" y="1736.04" width="20.55" height="2.60" fill="#ff7f0e"/>
<rect x="1210.18" y="1738.63" width="20.55" height="29.42" fill="#9b67c0"/>
<rect x="1210.18" y="1768.05" width="20.55" height="634.65" fill="#2ca02c"/>
<rect x="1229.54" y="1699.70" width="1.2" height="703.00" fill="#fff" fill-opacity="0.95"/>
<rect x="1230.74" y="1699.70" width="20.55" height="20.76" fill="#808080"/>
<rect x="1230.74" y="1720.46" width="20.55" height="8.22" fill="#a00000"/>
<rect x="1230.74" y="1728.68" width="20.55" height="164.39" fill="#f0147f"/>
<rect x="1230.74" y="1893.07" width="20.55" height="18.60" fill="#0000c8"/>
<rect x="1230.74" y="1911.67" width="20.55" height="7.35" fill="#ffff80"/>
<rect x="1230.74" y="1919.03" width="20.55" height="2.16" fill="#ff7f0e"/>
<rect x="1230.74" y="1921.19" width="20.55" height="125.45" fill="#9b67c0"/>
<rect x="1230.74" y="2046.64" width="20.55" height="356.06" fill="#2ca02c"/>
<rect x="1250.09" y="1699.70" width="1.2" height="703.00" fill="#fff" fill-opacity="0.95"/>
<rect x="1251.29" y="1699.70" width="20.55" height="4.32" fill="#808080"/>
<rect x="1251.29" y="1704.02" width="20.55" height="3.03" fill="#a00000"/>
<rect x="1251.29" y="1707.05" width="20.55" height="197.70" fill="#f0147f"/>
<rect x="1251.29" y="1904.75" width="20.55" height="3.89" fill="#0000c8"/>
<rect x="1251.29" y="1908.65" width="20.55" height="3.03" fill="#ffff80"/>
<rect x="1251.29" y="1911.67" width="20.55" height="3.46" fill="#ff7f0e"/>
<rect x="1251.29" y="1915.13" width="20.55" height="167.85" fill="#9b67c0"/>
<rect x="1251.29" y="2082.98" width="20.55" height="319.72" fill="#2ca02c"/>
<rect x="1270.64" y="1699.70" width="1.2" height="703.00" fill="#fff" fill-opacity="0.95"/>
<rect x="1271.84" y="1699.70" width="20.55" height="4.32" fill="#808080"/>
<rect x="1271.84" y="1704.02" width="20.55" height="5.19" fill="#a00000"/>
<rect x="1271.84" y="1709.22" width="20.55" height="77.87" fill="#f0147f"/>
<rect x="1271.84" y="1787.08" width="20.55" height="3.46" fill="#ffff80"/>
<rect x="1271.84" y="1790.55" width="20.55" height="114.64" fill="#9b67c0"/>
<rect x="1271.84" y="1905.18" width="20.55" height="497.52" fill="#2ca02c"/>
<rect x="1291.19" y="1699.70" width="1.2" height="703.00" fill="#fff" fill-opacity="0.95"/>
<rect x="1292.39" y="1699.70" width="20.55" height="9.52" fill="#a00000"/>
<rect x="1292.39" y="1709.22" width="20.55" height="9.95" fill="#0000c8"/>
<rect x="1292.39" y="1719.17" width="20.55" height="22.50" fill="#ffff80"/>
<rect x="1292.39" y="1741.66" width="20.55" height="9.52" fill="#ff7f0e"/>
<rect x="1292.39" y="1751.18" width="20.55" height="271.67" fill="#9b67c0"/>
<rect x="1292.39" y="2022.85" width="20.55" height="379.85" fill="#2ca02c"/>
<rect x="1311.75" y="1699.70" width="1.2" height="703.00" fill="#fff" fill-opacity="0.95"/>
<rect x="1312.95" y="1699.70" width="20.55" height="8.22" fill="#808080"/>
<rect x="1312.95" y="1707.92" width="20.55" height="9.08" fill="#0000c8"/>
<rect x="1312.95" y="1717.00" width="20.55" height="22.50" fill="#ffff80"/>
<rect x="1312.95" y="1739.50" width="20.55" height="5.62" fill="#ff7f0e"/>
<rect x="1312.95" y="1745.12" width="20.55" height="140.16" fill="#9b67c0"/>
<rect x="1312.95" y="1885.28" width="20.55" height="517.42" fill="#2ca02c"/>
<rect x="1332.30" y="1699.70" width="1.2" height="703.00" fill="#fff" fill-opacity="0.95"/>
<line x1="1230.7" y1="1698.7" x2="1230.7" y2="2402.7" stroke="#000" stroke-width="2.4"/>
<line x1="942.9" y1="1698.7" x2="942.9" y2="2403.7" stroke="#000" stroke-width="0.8"/>
<line x1="941.5" y1="2403.3" x2="1333.5" y2="2403.3" stroke="#111" stroke-width="1.6"/>
<line x1="931.0" y1="1699.7" x2="943.0" y2="1699.7" stroke="#000" stroke-width="1.8"/>
<text x="928.5" y="1707.7" font-size="22.3" text-anchor="end" font-weight="bold" fill="#111" >100</text>
<line x1="931.0" y1="1770.0" x2="943.0" y2="1770.0" stroke="#000" stroke-width="1.8"/>
<text x="928.5" y="1778.0" font-size="22.3" text-anchor="end" font-weight="bold" fill="#111" >90</text>
<line x1="931.0" y1="1840.3" x2="943.0" y2="1840.3" stroke="#000" stroke-width="1.8"/>
<text x="928.5" y="1848.3" font-size="22.3" text-anchor="end" font-weight="bold" fill="#111" >80</text>
<line x1="931.0" y1="1910.6" x2="943.0" y2="1910.6" stroke="#000" stroke-width="1.8"/>
<text x="928.5" y="1918.6" font-size="22.3" text-anchor="end" font-weight="bold" fill="#111" >70</text>
<line x1="931.0" y1="1980.9" x2="943.0" y2="1980.9" stroke="#000" stroke-width="1.8"/>
<text x="928.5" y="1988.9" font-size="22.3" text-anchor="end" font-weight="bold" fill="#111" >60</text>
<line x1="931.0" y1="2051.2" x2="943.0" y2="2051.2" stroke="#000" stroke-width="1.8"/>
<text x="928.5" y="2059.2" font-size="22.3" text-anchor="end" font-weight="bold" fill="#111" >50</text>
<line x1="931.0" y1="2121.5" x2="943.0" y2="2121.5" stroke="#000" stroke-width="1.8"/>
<text x="928.5" y="2129.5" font-size="22.3" text-anchor="end" font-weight="bold" fill="#111" >40</text>
<line x1="931.0" y1="2191.8" x2="943.0" y2="2191.8" stroke="#000" stroke-width="1.8"/>
<text x="928.5" y="2199.8" font-size="22.3" text-anchor="end" font-weight="bold" fill="#111" >30</text>
<line x1="931.0" y1="2262.1" x2="943.0" y2="2262.1" stroke="#000" stroke-width="1.8"/>
<text x="928.5" y="2270.1" font-size="22.3" text-anchor="end" font-weight="bold" fill="#111" >20</text>
<line x1="931.0" y1="2332.4" x2="943.0" y2="2332.4" stroke="#000" stroke-width="1.8"/>
<text x="928.5" y="2340.4" font-size="22.3" text-anchor="end" font-weight="bold" fill="#111" >10</text>
<line x1="931.0" y1="2402.7" x2="943.0" y2="2402.7" stroke="#000" stroke-width="1.8"/>
<text x="928.5" y="2410.7" font-size="22.3" text-anchor="end" font-weight="bold" fill="#111" >0</text>
<text x="1137.7" y="1687.9" font-size="29.0" text-anchor="middle" font-weight="bold" fill="#111" >Day 6</text>
<text x="873.8" y="2051.2" font-size="23.9" font-weight="bold" fill="#111" text-anchor="middle" dy="8.6" transform="rotate(-90 873.8 2051.2)">Relative abundance (%)</text>
<line x1="942.0" y1="2415.6" x2="1333.5" y2="2415.6" stroke="#222" stroke-width="1.6"/>
<line x1="942.0" y1="2411.1" x2="942.0" y2="2421.1" stroke="#222" stroke-width="1.6"/>
<line x1="1230.7" y1="2411.1" x2="1230.7" y2="2421.1" stroke="#222" stroke-width="1.6"/>
<line x1="1333.5" y1="2411.1" x2="1333.5" y2="2421.1" stroke="#222" stroke-width="1.6"/>
<text x="1092.3" y="2442.8" font-size="19.0" text-anchor="middle" font-weight="bold" fill="#111" >AnxA1<tspan font-size="12" font-weight="normal" dy="-9">-/-</tspan></text>
<text x="1287.0" y="2443.2" font-size="20.0" text-anchor="middle" font-weight="bold" fill="#111" >WT</text>
<text x="1137.7" y="2487.9" font-size="24.2" text-anchor="middle" font-weight="bold" fill="#111" >Groups</text>
<rect x="1425.20" y="1698.40" width="19.66" height="8.65" fill="#808080"/>
<rect x="1425.20" y="1707.05" width="19.66" height="2.16" fill="#a00000"/>
<rect x="1425.20" y="1709.22" width="19.66" height="7.35" fill="#ffff80"/>
<rect x="1425.20" y="1716.57" width="19.66" height="43.26" fill="#ff7f0e"/>
<rect x="1425.20" y="1759.83" width="19.66" height="454.66" fill="#9b67c0"/>
<rect x="1425.20" y="2214.49" width="19.66" height="186.91" fill="#2ca02c"/>
<rect x="1443.66" y="1698.40" width="1.2" height="703.00" fill="#fff" fill-opacity="0.95"/>
<rect x="1444.86" y="1698.40" width="19.66" height="21.63" fill="#808080"/>
<rect x="1444.86" y="1720.03" width="19.66" height="9.95" fill="#0000c8"/>
<rect x="1444.86" y="1729.98" width="19.66" height="3.46" fill="#ffff80"/>
<rect x="1444.86" y="1733.44" width="19.66" height="86.09" fill="#9b67c0"/>
<rect x="1444.86" y="1819.53" width="19.66" height="581.87" fill="#2ca02c"/>
<rect x="1463.31" y="1698.40" width="1.2" height="703.00" fill="#fff" fill-opacity="0.95"/>
<rect x="1464.51" y="1698.40" width="19.66" height="4.33" fill="#808080"/>
<rect x="1464.51" y="1702.73" width="19.66" height="2.16" fill="#0000c8"/>
<rect x="1464.51" y="1704.89" width="19.66" height="3.03" fill="#ffff80"/>
<rect x="1464.51" y="1707.92" width="19.66" height="144.06" fill="#9b67c0"/>
<rect x="1464.51" y="1851.97" width="19.66" height="549.43" fill="#2ca02c"/>
<rect x="1482.97" y="1698.40" width="1.2" height="703.00" fill="#fff" fill-opacity="0.95"/>
<rect x="1484.17" y="1698.40" width="19.66" height="5.62" fill="#808080"/>
<rect x="1484.17" y="1704.02" width="19.66" height="2.16" fill="#a00000"/>
<rect x="1484.17" y="1706.19" width="19.66" height="13.84" fill="#ff7f0e"/>
<rect x="1484.17" y="1720.03" width="19.66" height="274.70" fill="#9b67c0"/>
<rect x="1484.17" y="1994.73" width="19.66" height="406.67" fill="#2ca02c"/>
<rect x="1502.63" y="1698.40" width="1.2" height="703.00" fill="#fff" fill-opacity="0.95"/>
<rect x="1503.83" y="1698.40" width="19.66" height="5.19" fill="#a00000"/>
<rect x="1503.83" y="1703.59" width="19.66" height="4.76" fill="#0000c8"/>
<rect x="1503.83" y="1708.35" width="19.66" height="11.68" fill="#ffff80"/>
<rect x="1503.83" y="1720.03" width="19.66" height="75.71" fill="#ff7f0e"/>
<rect x="1503.83" y="1795.74" width="19.66" height="536.42" fill="#9b67c0"/>
<rect x="1503.83" y="2332.16" width="19.66" height="69.24" fill="#2ca02c"/>
<rect x="1522.28" y="1698.40" width="1.2" height="703.00" fill="#fff" fill-opacity="0.95"/>
<rect x="1523.48" y="1698.40" width="19.66" height="9.52" fill="#808080"/>
<rect x="1523.48" y="1707.92" width="19.66" height="4.76" fill="#f0147f"/>
<rect x="1523.48" y="1712.68" width="19.66" height="5.62" fill="#0000c8"/>
<rect x="1523.48" y="1718.30" width="19.66" height="4.76" fill="#ff7f0e"/>
<rect x="1523.48" y="1723.06" width="19.66" height="131.08" fill="#9b67c0"/>
<rect x="1523.48" y="1854.14" width="19.66" height="547.26" fill="#2ca02c"/>
<rect x="1541.94" y="1698.40" width="1.2" height="703.00" fill="#fff" fill-opacity="0.95"/>
<rect x="1543.14" y="1698.40" width="19.66" height="1.30" fill="#c8fac8"/>
<rect x="1543.14" y="1699.70" width="19.66" height="6.06" fill="#0000c8"/>
<rect x="1543.14" y="1705.76" width="19.66" height="11.25" fill="#ffff80"/>
<rect x="1543.14" y="1717.00" width="19.66" height="3.46" fill="#ff7f0e"/>
<rect x="1543.14" y="1720.46" width="19.66" height="519.99" fill="#9b67c0"/>
<rect x="1543.14" y="2240.45" width="19.66" height="160.95" fill="#2ca02c"/>
<rect x="1561.60" y="1698.40" width="1.2" height="703.00" fill="#fff" fill-opacity="0.95"/>
<rect x="1562.80" y="1698.40" width="19.66" height="11.68" fill="#a00000"/>
<rect x="1562.80" y="1710.08" width="19.66" height="139.73" fill="#0000c8"/>
<rect x="1562.80" y="1849.81" width="19.66" height="15.14" fill="#ffff80"/>
<rect x="1562.80" y="1864.95" width="19.66" height="170.88" fill="#ff7f0e"/>
<rect x="1562.80" y="2035.83" width="19.66" height="346.08" fill="#9b67c0"/>
<rect x="1562.80" y="2381.91" width="19.66" height="19.49" fill="#2ca02c"/>
<rect x="1581.25" y="1698.40" width="1.2" height="703.00" fill="#fff" fill-opacity="0.95"/>
<rect x="1582.45" y="1698.40" width="19.66" height="1.30" fill="#a00000"/>
<rect x="1582.45" y="1699.70" width="19.66" height="250.91" fill="#f0147f"/>
<rect x="1582.45" y="1950.61" width="19.66" height="16.01" fill="#0000c8"/>
<rect x="1582.45" y="1966.61" width="19.66" height="3.03" fill="#ffff80"/>
<rect x="1582.45" y="1969.64" width="19.66" height="31.58" fill="#9b67c0"/>
<rect x="1582.45" y="2001.22" width="19.66" height="400.18" fill="#2ca02c"/>
<rect x="1600.91" y="1698.40" width="1.2" height="703.00" fill="#fff" fill-opacity="0.95"/>
<rect x="1602.11" y="1698.40" width="19.66" height="5.19" fill="#a00000"/>
<rect x="1602.11" y="1703.59" width="19.66" height="9.08" fill="#f0147f"/>
<rect x="1602.11" y="1712.68" width="19.66" height="33.31" fill="#0000c8"/>
<rect x="1602.11" y="1745.99" width="19.66" height="30.28" fill="#ffff80"/>
<rect x="1602.11" y="1776.27" width="19.66" height="2.16" fill="#ff7f0e"/>
<rect x="1602.11" y="1778.43" width="19.66" height="395.83" fill="#9b67c0"/>
<rect x="1602.11" y="2174.26" width="19.66" height="227.14" fill="#2ca02c"/>
<rect x="1620.57" y="1698.40" width="1.2" height="703.00" fill="#fff" fill-opacity="0.95"/>
<rect x="1621.77" y="1698.40" width="19.66" height="3.46" fill="#808080"/>
<rect x="1621.77" y="1701.86" width="19.66" height="134.97" fill="#f0147f"/>
<rect x="1621.77" y="1836.83" width="19.66" height="15.14" fill="#0000c8"/>
<rect x="1621.77" y="1851.97" width="19.66" height="9.52" fill="#ffff80"/>
<rect x="1621.77" y="1861.49" width="19.66" height="41.10" fill="#9b67c0"/>
<rect x="1621.77" y="1902.59" width="19.66" height="498.81" fill="#2ca02c"/>
<rect x="1640.22" y="1698.40" width="1.2" height="703.00" fill="#fff" fill-opacity="0.95"/>
<rect x="1641.42" y="1698.40" width="19.66" height="2.16" fill="#a00000"/>
<rect x="1641.42" y="1700.56" width="19.66" height="187.32" fill="#f0147f"/>
<rect x="1641.42" y="1887.88" width="19.66" height="14.28" fill="#0000c8"/>
<rect x="1641.42" y="1902.16" width="19.66" height="3.46" fill="#ffff80"/>
<rect x="1641.42" y="1905.62" width="19.66" height="40.66" fill="#9b67c0"/>
<rect x="1641.42" y="1946.28" width="19.66" height="455.12" fill="#2ca02c"/>
<rect x="1659.88" y="1698.40" width="1.2" height="703.00" fill="#fff" fill-opacity="0.95"/>
<rect x="1661.08" y="1698.40" width="19.66" height="14.28" fill="#808080"/>
<rect x="1661.08" y="1712.68" width="19.66" height="7.35" fill="#0000c8"/>
<rect x="1661.08" y="1720.03" width="19.66" height="3.46" fill="#ffff80"/>
<rect x="1661.08" y="1723.49" width="19.66" height="5.19" fill="#ff7f0e"/>
<rect x="1661.08" y="1728.68" width="19.66" height="297.63" fill="#9b67c0"/>
<rect x="1661.08" y="2026.31" width="19.66" height="375.09" fill="#2ca02c"/>
<rect x="1679.54" y="1698.40" width="1.2" height="703.00" fill="#fff" fill-opacity="0.95"/>
<rect x="1680.74" y="1698.40" width="19.66" height="4.33" fill="#808080"/>
<rect x="1680.74" y="1702.73" width="19.66" height="328.78" fill="#f0147f"/>
<rect x="1680.74" y="2031.50" width="19.66" height="12.11" fill="#0000c8"/>
<rect x="1680.74" y="2043.62" width="19.66" height="1.73" fill="#ffff80"/>
<rect x="1680.74" y="2045.35" width="19.66" height="35.91" fill="#9b67c0"/>
<rect x="1680.74" y="2081.25" width="19.66" height="320.15" fill="#2ca02c"/>
<rect x="1699.19" y="1698.40" width="1.2" height="703.00" fill="#fff" fill-opacity="0.95"/>
<rect x="1700.39" y="1698.40" width="19.66" height="4.33" fill="#808080"/>
<rect x="1700.39" y="1702.73" width="19.66" height="3.46" fill="#a00000"/>
<rect x="1700.39" y="1706.19" width="19.66" height="3.89" fill="#f0147f"/>
<rect x="1700.39" y="1710.08" width="19.66" height="10.38" fill="#0000c8"/>
<rect x="1700.39" y="1720.46" width="19.66" height="8.22" fill="#ffff80"/>
<rect x="1700.39" y="1728.68" width="19.66" height="10.82" fill="#ff7f0e"/>
<rect x="1700.39" y="1739.50" width="19.66" height="564.54" fill="#9b67c0"/>
<rect x="1700.39" y="2304.04" width="19.66" height="97.36" fill="#2ca02c"/>
<rect x="1718.85" y="1698.40" width="1.2" height="703.00" fill="#fff" fill-opacity="0.95"/>
<rect x="1720.05" y="1698.40" width="19.66" height="2.16" fill="#a00000"/>
<rect x="1720.05" y="1700.56" width="19.66" height="184.72" fill="#f0147f"/>
<rect x="1720.05" y="1885.28" width="19.66" height="9.95" fill="#0000c8"/>
<rect x="1720.05" y="1895.23" width="19.66" height="3.46" fill="#ffff80"/>
<rect x="1720.05" y="1898.70" width="19.66" height="5.19" fill="#ff7f0e"/>
<rect x="1720.05" y="1903.89" width="19.66" height="114.64" fill="#9b67c0"/>
<rect x="1720.05" y="2018.53" width="19.66" height="382.87" fill="#2ca02c"/>
<rect x="1738.51" y="1698.40" width="1.2" height="703.00" fill="#fff" fill-opacity="0.95"/>
<rect x="1739.71" y="1698.40" width="19.66" height="5.62" fill="#a00000"/>
<rect x="1739.71" y="1704.02" width="19.66" height="293.74" fill="#f0147f"/>
<rect x="1739.71" y="1997.76" width="19.66" height="61.86" fill="#0000c8"/>
<rect x="1739.71" y="2059.62" width="19.66" height="3.03" fill="#ffff80"/>
<rect x="1739.71" y="2062.65" width="19.66" height="5.62" fill="#ff7f0e"/>
<rect x="1739.71" y="2068.27" width="19.66" height="16.01" fill="#9b67c0"/>
<rect x="1739.71" y="2084.28" width="19.66" height="317.12" fill="#2ca02c"/>
<rect x="1758.16" y="1698.40" width="1.2" height="703.00" fill="#fff" fill-opacity="0.95"/>
<rect x="1759.36" y="1698.40" width="19.66" height="15.14" fill="#808080"/>
<rect x="1759.36" y="1713.54" width="19.66" height="1.30" fill="#a00000"/>
<rect x="1759.36" y="1714.84" width="19.66" height="27.69" fill="#f0147f"/>
<rect x="1759.36" y="1742.53" width="19.66" height="5.62" fill="#0000c8"/>
<rect x="1759.36" y="1748.15" width="19.66" height="19.47" fill="#ffff80"/>
<rect x="1759.36" y="1767.62" width="19.66" height="36.77" fill="#ff7f0e"/>
<rect x="1759.36" y="1804.39" width="19.66" height="410.97" fill="#9b67c0"/>
<rect x="1759.36" y="2215.36" width="19.66" height="186.04" fill="#2ca02c"/>
<rect x="1777.82" y="1698.40" width="1.2" height="703.00" fill="#fff" fill-opacity="0.95"/>
<rect x="1779.02" y="1698.40" width="19.66" height="10.82" fill="#808080"/>
<rect x="1779.02" y="1709.22" width="19.66" height="6.49" fill="#a00000"/>
<rect x="1779.02" y="1715.71" width="19.66" height="18.60" fill="#f0147f"/>
<rect x="1779.02" y="1734.31" width="19.66" height="1.73" fill="#0000c8"/>
<rect x="1779.02" y="1736.04" width="19.66" height="10.82" fill="#ffff80"/>
<rect x="1779.02" y="1746.85" width="19.66" height="105.12" fill="#ff7f0e"/>
<rect x="1779.02" y="1851.97" width="19.66" height="346.08" fill="#9b67c0"/>
<rect x="1779.02" y="2198.06" width="19.66" height="203.34" fill="#2ca02c"/>
<rect x="1797.48" y="1698.40" width="1.2" height="703.00" fill="#fff" fill-opacity="0.95"/>
<rect x="1798.68" y="1698.40" width="19.66" height="3.03" fill="#c8fac8"/>
<rect x="1798.68" y="1701.43" width="19.66" height="5.62" fill="#808080"/>
<rect x="1798.68" y="1707.05" width="19.66" height="69.22" fill="#f0147f"/>
<rect x="1798.68" y="1776.27" width="19.66" height="28.12" fill="#0000c8"/>
<rect x="1798.68" y="1804.39" width="19.66" height="2.16" fill="#ffff80"/>
<rect x="1798.68" y="1806.55" width="19.66" height="204.62" fill="#9b67c0"/>
<rect x="1798.68" y="2011.17" width="19.66" height="390.23" fill="#2ca02c"/>
<rect x="1817.13" y="1698.40" width="1.2" height="703.00" fill="#fff" fill-opacity="0.95"/>
<rect x="1818.33" y="1698.40" width="19.66" height="64.89" fill="#808080"/>
<rect x="1818.33" y="1763.29" width="19.66" height="4.33" fill="#a00000"/>
<rect x="1818.33" y="1767.62" width="19.66" height="108.15" fill="#f0147f"/>
<rect x="1818.33" y="1875.77" width="19.66" height="25.96" fill="#0000c8"/>
<rect x="1818.33" y="1901.72" width="19.66" height="5.62" fill="#ffff80"/>
<rect x="1818.33" y="1907.35" width="19.66" height="3.03" fill="#ff7f0e"/>
<rect x="1818.33" y="1910.38" width="19.66" height="22.50" fill="#9b67c0"/>
<rect x="1818.33" y="1932.87" width="19.66" height="468.53" fill="#2ca02c"/>
<rect x="1836.79" y="1698.40" width="1.2" height="703.00" fill="#fff" fill-opacity="0.95"/>
<rect x="1837.99" y="1698.40" width="19.66" height="5.62" fill="#a00000"/>
<rect x="1837.99" y="1704.02" width="19.66" height="60.56" fill="#f0147f"/>
<rect x="1837.99" y="1764.59" width="19.66" height="22.50" fill="#0000c8"/>
<rect x="1837.99" y="1787.08" width="19.66" height="2.16" fill="#ffff80"/>
<rect x="1837.99" y="1789.25" width="19.66" height="19.47" fill="#9b67c0"/>
<rect x="1837.99" y="1808.71" width="19.66" height="592.69" fill="#2ca02c"/>
<rect x="1856.45" y="1698.40" width="1.2" height="703.00" fill="#fff" fill-opacity="0.95"/>
<rect x="1857.65" y="1698.40" width="19.66" height="18.17" fill="#808080"/>
<rect x="1857.65" y="1716.57" width="19.66" height="111.61" fill="#f0147f"/>
<rect x="1857.65" y="1828.18" width="19.66" height="5.19" fill="#0000c8"/>
<rect x="1857.65" y="1833.37" width="19.66" height="3.46" fill="#ffff80"/>
<rect x="1857.65" y="1836.83" width="19.66" height="2.16" fill="#ff7f0e"/>
<rect x="1857.65" y="1839.00" width="19.66" height="57.10" fill="#9b67c0"/>
<rect x="1857.65" y="1896.10" width="19.66" height="505.30" fill="#2ca02c"/>
<rect x="1876.10" y="1698.40" width="1.2" height="703.00" fill="#fff" fill-opacity="0.95"/>
<rect x="1877.30" y="1698.40" width="19.66" height="6.49" fill="#808080"/>
<rect x="1877.30" y="1704.89" width="19.66" height="0.87" fill="#a00000"/>
<rect x="1877.30" y="1705.76" width="19.66" height="373.33" fill="#f0147f"/>
<rect x="1877.30" y="2079.09" width="19.66" height="26.82" fill="#0000c8"/>
<rect x="1877.30" y="2105.91" width="19.66" height="4.33" fill="#ffff80"/>
<rect x="1877.30" y="2110.24" width="19.66" height="22.93" fill="#9b67c0"/>
<rect x="1877.30" y="2133.16" width="19.66" height="268.24" fill="#2ca02c"/>
<rect x="1895.76" y="1698.40" width="1.2" height="703.00" fill="#fff" fill-opacity="0.95"/>
<rect x="1896.96" y="1698.40" width="19.66" height="5.62" fill="#a00000"/>
<rect x="1896.96" y="1704.02" width="19.66" height="120.70" fill="#f0147f"/>
<rect x="1896.96" y="1824.72" width="19.66" height="2.16" fill="#0000c8"/>
<rect x="1896.96" y="1826.88" width="19.66" height="2.16" fill="#ffff80"/>
<rect x="1896.96" y="1829.05" width="19.66" height="4.76" fill="#9b67c0"/>
<rect x="1896.96" y="1833.81" width="19.66" height="567.59" fill="#2ca02c"/>
<rect x="1915.42" y="1698.40" width="1.2" height="703.00" fill="#fff" fill-opacity="0.95"/>
<rect x="1916.62" y="1698.40" width="19.66" height="3.46" fill="#808080"/>
<rect x="1916.62" y="1701.86" width="19.66" height="2.16" fill="#a00000"/>
<rect x="1916.62" y="1704.02" width="19.66" height="93.87" fill="#f0147f"/>
<rect x="1916.62" y="1797.90" width="19.66" height="5.19" fill="#0000c8"/>
<rect x="1916.62" y="1803.09" width="19.66" height="14.28" fill="#9b67c0"/>
<rect x="1916.62" y="1817.37" width="19.66" height="584.03" fill="#2ca02c"/>
<rect x="1935.07" y="1698.40" width="1.2" height="703.00" fill="#fff" fill-opacity="0.95"/>
<rect x="1936.27" y="1698.40" width="19.66" height="3.46" fill="#a00000"/>
<rect x="1936.27" y="1701.86" width="19.66" height="3.89" fill="#0000c8"/>
<rect x="1936.27" y="1705.76" width="19.66" height="6.92" fill="#ffff80"/>
<rect x="1936.27" y="1712.68" width="19.66" height="49.32" fill="#9b67c0"/>
<rect x="1936.27" y="1761.99" width="19.66" height="639.41" fill="#2ca02c"/>
<rect x="1954.73" y="1698.40" width="1.2" height="703.00" fill="#fff" fill-opacity="0.95"/>
<rect x="1955.93" y="1698.40" width="19.66" height="3.03" fill="#c8fac8"/>
<rect x="1955.93" y="1701.43" width="19.66" height="1.30" fill="#a00000"/>
<rect x="1955.93" y="1702.73" width="19.66" height="18.17" fill="#0000c8"/>
<rect x="1955.93" y="1720.90" width="19.66" height="2.60" fill="#ffff80"/>
<rect x="1955.93" y="1723.49" width="19.66" height="1.73" fill="#ff7f0e"/>
<rect x="1955.93" y="1725.22" width="19.66" height="35.04" fill="#9b67c0"/>
<rect x="1955.93" y="1760.26" width="19.66" height="641.14" fill="#2ca02c"/>
<rect x="1974.39" y="1698.40" width="1.2" height="703.00" fill="#fff" fill-opacity="0.95"/>
<rect x="1975.59" y="1698.40" width="19.66" height="29.42" fill="#808080"/>
<rect x="1975.59" y="1727.82" width="19.66" height="0.87" fill="#a00000"/>
<rect x="1975.59" y="1728.68" width="19.66" height="154.87" fill="#f0147f"/>
<rect x="1975.59" y="1883.55" width="19.66" height="10.38" fill="#ffff80"/>
<rect x="1975.59" y="1893.94" width="19.66" height="3.46" fill="#ff7f0e"/>
<rect x="1975.59" y="1897.40" width="19.66" height="118.10" fill="#9b67c0"/>
<rect x="1975.59" y="2015.50" width="19.66" height="385.90" fill="#2ca02c"/>
<rect x="1994.04" y="1698.40" width="1.2" height="703.00" fill="#fff" fill-opacity="0.95"/>
<rect x="1995.24" y="1698.40" width="19.66" height="12.98" fill="#808080"/>
<rect x="1995.24" y="1711.38" width="19.66" height="5.19" fill="#a00000"/>
<rect x="1995.24" y="1716.57" width="19.66" height="24.23" fill="#f0147f"/>
<rect x="1995.24" y="1740.80" width="19.66" height="51.91" fill="#0000c8"/>
<rect x="1995.24" y="1792.71" width="19.66" height="41.96" fill="#ffff80"/>
<rect x="1995.24" y="1834.67" width="19.66" height="8.65" fill="#ff7f0e"/>
<rect x="1995.24" y="1843.32" width="19.66" height="358.19" fill="#9b67c0"/>
<rect x="1995.24" y="2201.52" width="19.66" height="199.88" fill="#2ca02c"/>
<rect x="2013.70" y="1698.40" width="1.2" height="703.00" fill="#fff" fill-opacity="0.95"/>
<line x1="1740.2" y1="1697.4" x2="1740.2" y2="2401.4" stroke="#000" stroke-width="2.4"/>
<line x1="1424.7" y1="1697.4" x2="1424.7" y2="2402.4" stroke="#000" stroke-width="1.6"/>
<line x1="1423.7" y1="2402.0" x2="2014.9" y2="2402.0" stroke="#111" stroke-width="1.6"/>
<line x1="1413.2" y1="1698.4" x2="1425.2" y2="1698.4" stroke="#000" stroke-width="1.8"/>
<text x="1409.9" y="1706.4" font-size="22.3" text-anchor="end" font-weight="bold" fill="#111" >100</text>
<line x1="1413.2" y1="1768.7" x2="1425.2" y2="1768.7" stroke="#000" stroke-width="1.8"/>
<text x="1409.9" y="1776.7" font-size="22.3" text-anchor="end" font-weight="bold" fill="#111" >90</text>
<line x1="1413.2" y1="1839.0" x2="1425.2" y2="1839.0" stroke="#000" stroke-width="1.8"/>
<text x="1409.9" y="1847.0" font-size="22.3" text-anchor="end" font-weight="bold" fill="#111" >80</text>
<line x1="1413.2" y1="1909.3" x2="1425.2" y2="1909.3" stroke="#000" stroke-width="1.8"/>
<text x="1409.9" y="1917.3" font-size="22.3" text-anchor="end" font-weight="bold" fill="#111" >70</text>
<line x1="1413.2" y1="1979.6" x2="1425.2" y2="1979.6" stroke="#000" stroke-width="1.8"/>
<text x="1409.9" y="1987.6" font-size="22.3" text-anchor="end" font-weight="bold" fill="#111" >60</text>
<line x1="1413.2" y1="2049.9" x2="1425.2" y2="2049.9" stroke="#000" stroke-width="1.8"/>
<text x="1409.9" y="2057.9" font-size="22.3" text-anchor="end" font-weight="bold" fill="#111" >50</text>
<line x1="1413.2" y1="2120.2" x2="1425.2" y2="2120.2" stroke="#000" stroke-width="1.8"/>
<text x="1409.9" y="2128.2" font-size="22.3" text-anchor="end" font-weight="bold" fill="#111" >40</text>
<line x1="1413.2" y1="2190.5" x2="1425.2" y2="2190.5" stroke="#000" stroke-width="1.8"/>
<text x="1409.9" y="2198.5" font-size="22.3" text-anchor="end" font-weight="bold" fill="#111" >30</text>
<line x1="1413.2" y1="2260.8" x2="1425.2" y2="2260.8" stroke="#000" stroke-width="1.8"/>
<text x="1409.9" y="2268.8" font-size="22.3" text-anchor="end" font-weight="bold" fill="#111" >20</text>
<line x1="1413.2" y1="2331.1" x2="1425.2" y2="2331.1" stroke="#000" stroke-width="1.8"/>
<text x="1409.9" y="2339.1" font-size="22.3" text-anchor="end" font-weight="bold" fill="#111" >10</text>
<line x1="1413.2" y1="2401.4" x2="1425.2" y2="2401.4" stroke="#000" stroke-width="1.8"/>
<text x="1409.9" y="2409.4" font-size="22.3" text-anchor="end" font-weight="bold" fill="#111" >0</text>
<text x="1719.8" y="1687.9" font-size="29.0" text-anchor="middle" font-weight="bold" fill="#111" >Day 10</text>
<text x="1350.4" y="2049.9" font-size="23.9" font-weight="bold" fill="#111" text-anchor="middle" dy="8.6" transform="rotate(-90 1350.4 2049.9)">Relative abundance (%)</text>
<line x1="1424.2" y1="2420.4" x2="2014.0" y2="2420.4" stroke="#222" stroke-width="1.6"/>
<line x1="1424.2" y1="2415.9" x2="1424.2" y2="2425.9" stroke="#222" stroke-width="1.6"/>
<line x1="1740.2" y1="2415.9" x2="1740.2" y2="2425.9" stroke="#222" stroke-width="1.6"/>
<line x1="2014.0" y1="2415.9" x2="2014.0" y2="2425.9" stroke="#222" stroke-width="1.6"/>
<text x="1588.7" y="2448.4" font-size="19.0" text-anchor="middle" font-weight="bold" fill="#111" >AnxA1<tspan font-size="12" font-weight="normal" dy="-9">-/-</tspan></text>
<text x="1874.3" y="2448.8" font-size="20.0" text-anchor="middle" font-weight="bold" fill="#111" >WT</text>
<text x="1719.8" y="2487.1" font-size="24.2" text-anchor="middle" font-weight="bold" fill="#111" >Groups</text>
<text x="2097.3" y="1729.0" font-size="22.8" text-anchor="start" font-weight="bold" fill="#111" >Legend</text>
<rect x="2097.8" y="1747.9" width="29.8" height="14.3" fill="#2ca02c"/>
<text x="2145.3" y="1763.3" font-size="22.8" text-anchor="start" fill="#111" >Bacteroidota</text>
<rect x="2097.8" y="1776.6" width="29.8" height="14.3" fill="#9b67c0"/>
<text x="2145.3" y="1792.0" font-size="22.8" text-anchor="start" fill="#111" >Firmicutes</text>
<rect x="2097.8" y="1804.8" width="29.8" height="14.3" fill="#ff7f0e"/>
<text x="2145.3" y="1820.2" font-size="22.8" text-anchor="start" fill="#111" >Deferribacterota</text>
<rect x="2097.8" y="1832.9" width="29.8" height="14.3" fill="#ffff80"/>
<text x="2145.3" y="1848.3" font-size="22.8" text-anchor="start" fill="#111" >Campilobacterota</text>
<rect x="2097.8" y="1861.9" width="29.8" height="14.3" fill="#0000c8"/>
<text x="2145.3" y="1877.3" font-size="22.8" text-anchor="start" fill="#111" >Proteobacteria</text>
<rect x="2097.8" y="1890.9" width="29.8" height="14.3" fill="#f0147f"/>
<text x="2145.3" y="1906.3" font-size="22.8" text-anchor="start" fill="#111" >Verrucomicrobiota</text>
<rect x="2097.8" y="1918.6" width="29.8" height="14.3" fill="#a00000"/>
<text x="2145.3" y="1934.0" font-size="22.8" text-anchor="start" fill="#111" >Desulfobacterota</text>
<rect x="2097.8" y="1954.0" width="29.8" height="14.3" fill="#808080"/>
<text x="2145.3" y="1969.4" font-size="22.8" text-anchor="start" fill="#111" >Cyanobacterota</text>
<rect x="2097.8" y="1976.5" width="29.8" height="14.3" fill="#c8fac8"/>
<text x="2145.3" y="1991.9" font-size="22.8" text-anchor="start" fill="#111" >Actinobacteriota</text>
</svg></body></html>
